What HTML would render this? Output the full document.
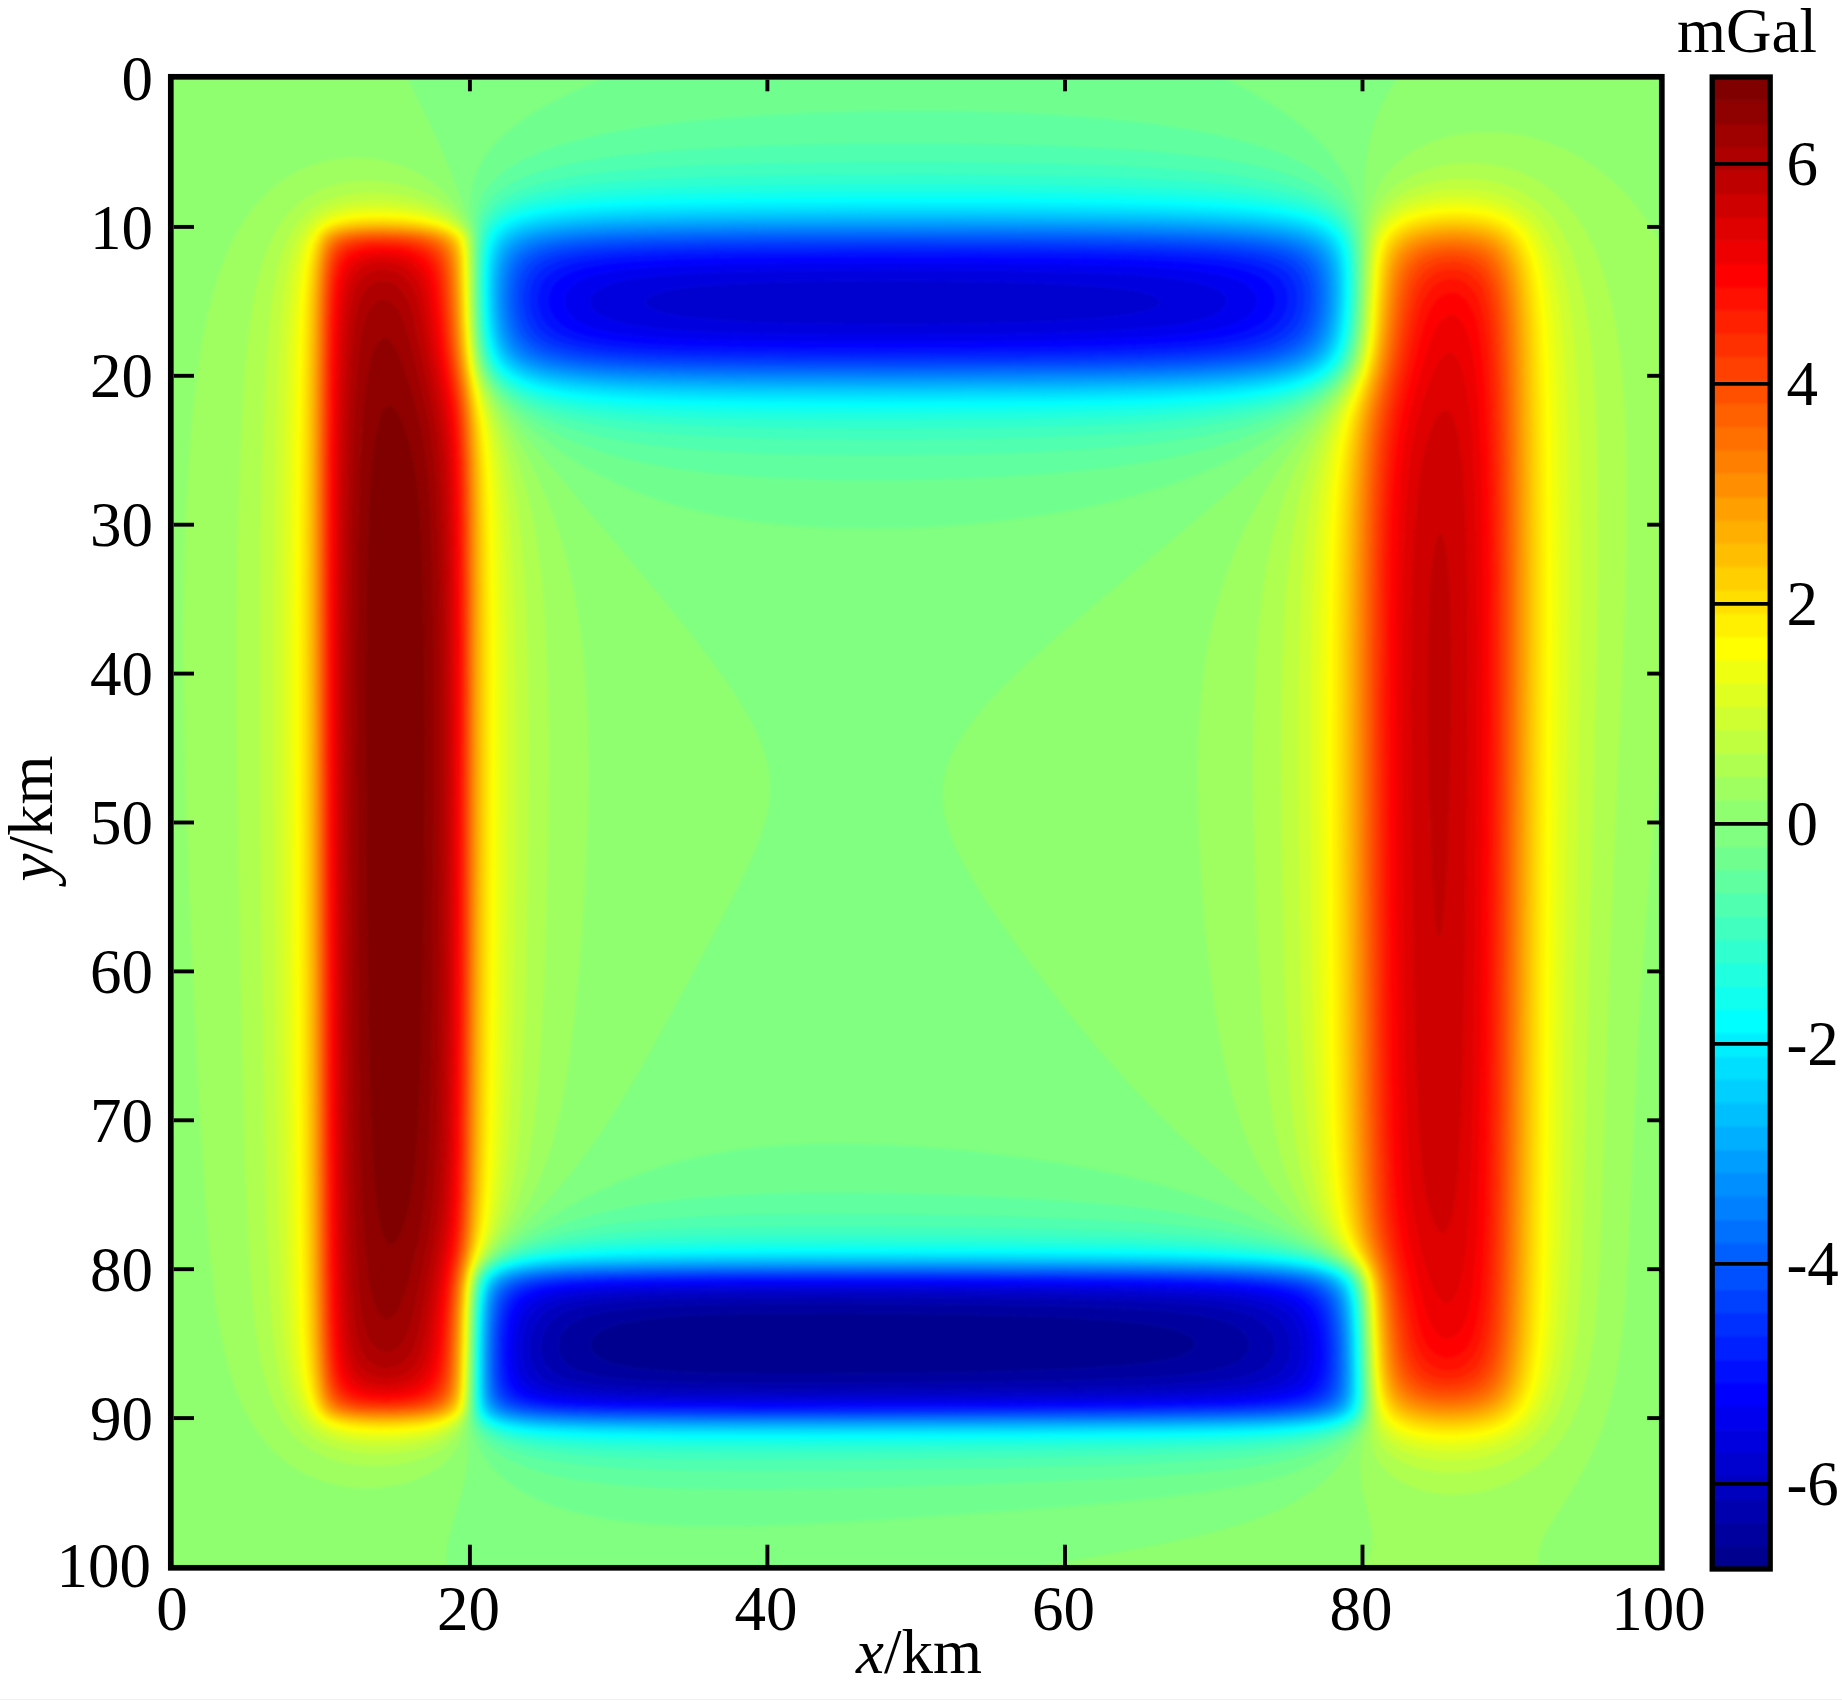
<!DOCTYPE html>
<html lang="en"><head><meta charset="utf-8"><title>Gravity anomaly map</title>
<style>
html,body{margin:0;padding:0;background:#fff}
body{width:1842px;height:1700px;overflow:hidden}
svg{display:block}
text{font-family:"Liberation Serif","Times New Roman",serif;font-size:63px;fill:#000}
.i{font-style:italic}
</style></head><body>
<svg width="1842" height="1700" viewBox="0 0 1842 1700">
<rect x="0" y="0" width="1842" height="1700" fill="#fff"/>

<defs><clipPath id="cp"><rect x="170.8" y="76.8" width="1491.0" height="1491.0"/></clipPath><filter id="bl" x="0" y="0" width="1842" height="1700" filterUnits="userSpaceOnUse" color-interpolation-filters="sRGB"><feGaussianBlur stdDeviation="1.6"/></filter></defs>
<g clip-path="url(#cp)"><g fill-rule="evenodd" stroke-linejoin="round" filter="url(#bl)">
<rect x="147.4" y="53.0" width="1537.6" height="1539.0" fill="#8fff70"/>
<path fill="#00008f" stroke="#00008f" stroke-width="0.7" d="M757.8 1313.3L849.8 1313L952 1314.2L1033.7 1316.3L1077.1 1318.1L1102.6 1319.7L1119 1320.9L1142.7 1323.5L1159 1326.1L1170.7 1328.6L1179.3 1331.2L1185.5 1333.7L1190 1336.3L1193.1 1338.8L1194.9 1341.4L1195.5 1343.9L1195 1346.5L1193.2 1349.1L1190.1 1351.6L1185.4 1354.2L1176.7 1357.3L1169.3 1359.3L1156 1361.8L1136.9 1364.4L1115.4 1366.4L1061.5 1369.5L995.4 1371.7L911.1 1373.3L824.3 1374.1L763 1374L711.9 1373.2L678.7 1371.9L645.5 1369.4L625.1 1366.4L616 1364.4L607.2 1361.6L599.5 1358L594.4 1354.2L591.9 1350.9L590.9 1349.1L590.3 1346.5L590.2 1343.9L590.8 1341.4L592 1338.8L593.9 1336.3L596.5 1333.7L600.1 1331.2L604.9 1328.6L611.2 1326.1L619.7 1323.5L630.2 1321.2L649.3 1318.4L679.2 1315.8L714.5 1314.3Z"/>
<path fill="#00009f" stroke="#00009f" stroke-width="0.7" d="M669.5 1305.6L714.5 1304.3L770.6 1303.6L842.1 1303.5L926.4 1304L1003 1304.9L1061.8 1306L1117.9 1307.9L1153.7 1309.9L1176.7 1311.9L1197.1 1314.6L1215 1318.2L1225.2 1321.3L1230.6 1323.5L1235.7 1326.1L1239.6 1328.6L1243.1 1331.5L1245.6 1334.3L1248.4 1338.8L1249.8 1343.9L1249.8 1346.5L1248.5 1351.6L1245 1356.7L1240.5 1360.5L1235.4 1363.5L1227.2 1367L1218.4 1369.5L1206.1 1372.1L1197.1 1373.4L1184.3 1375L1163.9 1376.8L1123.1 1379.1L1069.4 1380.8L992.5 1382.3L870.2 1383.5L768.1 1383.7L691.5 1382.8L643 1381L625.2 1379.7L607.2 1377.7L594.4 1375.6L584.2 1373L576.6 1370.3L570.2 1367L566.6 1364.4L563.9 1361.8L560.3 1356.7L558.4 1351.6L557.8 1346.5L558.7 1339.7L561.1 1333.7L563.8 1329.9L567.4 1326.1L574 1321.4L579.1 1318.8L586.8 1315.9L591.9 1314.4L609.8 1310.7L632.7 1308ZM757.9 1313.3L714.5 1314.3L679.2 1315.8L649.3 1318.4L630.2 1321.2L619.7 1323.5L611.2 1326.1L604.9 1328.6L600.1 1331.2L596.5 1333.7L593.9 1336.3L592 1338.8L590.8 1341.4L590.2 1343.9L590.3 1346.5L590.9 1349.1L591.9 1350.9L594.4 1354.2L599.5 1358L607.2 1361.6L616 1364.4L625.1 1366.4L645.5 1369.4L678.7 1371.9L711.9 1373.2L763 1374L824.3 1374.1L911.1 1373.3L995.4 1371.7L1061.5 1369.5L1115.4 1366.4L1136.9 1364.4L1156 1361.8L1169.3 1359.3L1176.7 1357.3L1185.4 1354.2L1190.1 1351.6L1193.2 1349.1L1195 1346.5L1195.5 1343.9L1194.9 1341.4L1193.1 1338.8L1190 1336.3L1185.5 1333.7L1179.3 1331.2L1170.7 1328.6L1159 1326.1L1142.7 1323.5L1119 1320.9L1102.6 1319.7L1077.1 1318.1L1036.2 1316.4L954.5 1314.3L852.4 1313Z"/>
<path fill="#0000af" stroke="#0000af" stroke-width="0.7" d="M699.7 1297.9L757.9 1297.3L831.9 1297.1L1013.2 1298.2L1077.1 1299.2L1128 1300.5L1166.5 1302.2L1192 1304L1215 1306.6L1232.9 1309.9L1245.2 1313.3L1251.8 1315.8L1256.9 1318.4L1264.3 1323.5L1268.6 1328L1270.9 1331.2L1273.5 1336.3L1274.3 1338.8L1275.3 1343.9L1275.3 1349.1L1274.3 1354.2L1272.1 1359.3L1268.3 1364.4L1263.5 1368.4L1257.1 1372.1L1250.7 1374.6L1242 1377.2L1232.9 1379.1L1210 1382.3L1176.3 1384.8L1130.7 1386.7L1074.5 1388L929 1389.6L783.4 1390.2L691.5 1389.5L655.7 1388.7L627.6 1387.6L609.8 1386.4L593.5 1384.8L577.4 1382.3L567.3 1379.7L558.7 1376.4L551.6 1372.1L546.5 1367L543.4 1361.6L541.1 1354.2L540.5 1346.5L541.4 1338.8L543.8 1331.2L545.9 1327.1L548.4 1323.5L553.4 1318.4L561.2 1313.3L566.9 1310.7L574.5 1308.2L585.2 1305.6L599.5 1303.3L612.3 1301.9L629.3 1300.5L648.1 1299.5ZM671 1305.5L632.7 1308L609.8 1310.7L591.9 1314.4L586.8 1315.9L579.1 1318.8L574 1321.4L567.4 1326.1L563.8 1329.9L561.1 1333.7L558.7 1339.7L557.8 1346.5L558.4 1351.6L560.3 1356.7L563.9 1361.8L566.6 1364.4L570.2 1367L576.6 1370.3L584.2 1373L594.4 1375.6L607.2 1377.7L625.2 1379.7L643 1381L691.5 1382.8L768.1 1383.7L870.2 1383.5L992.5 1382.3L1069.4 1380.8L1123.1 1379.1L1163.9 1376.8L1184.3 1375L1197.1 1373.4L1206.1 1372.1L1218.4 1369.5L1227.2 1367L1235.4 1363.5L1240.5 1360.5L1245 1356.7L1248.5 1351.6L1249.8 1346.5L1249.8 1343.9L1248.4 1338.8L1245.6 1334.3L1243.1 1331.5L1239.6 1328.6L1235.7 1326.1L1230.6 1323.5L1225.2 1321.3L1215 1318.2L1197.1 1314.6L1176.7 1311.9L1153.7 1309.9L1120.5 1308L1064.3 1306.1L1005.6 1304.9L929 1304L844.7 1303.5L773.2 1303.6L717 1304.2Z"/>
<path fill="#0000bf" stroke="#0000bf" stroke-width="0.7" d="M715.2 1292.8L788.5 1292.4L883 1292.5L1064.3 1293.8L1156.2 1295.8L1194.6 1297.7L1217.5 1299.6L1238 1302.4L1253 1305.6L1261.1 1308.2L1267.2 1310.7L1275.7 1315.8L1278.8 1318.4L1283.4 1323.5L1287.8 1331.2L1289.5 1336.3L1290.6 1341.4L1291.1 1346.5L1290.9 1351.6L1290.1 1356.7L1288.5 1361.8L1285.8 1367L1281.4 1372L1276.3 1375.7L1271.2 1378.4L1266.1 1380.5L1258.4 1382.8L1248.8 1384.8L1238 1386.5L1209.9 1389.2L1174.1 1391L1121.9 1392.5L982.6 1394.2L801.3 1395L691.5 1394.5L650.6 1393.8L620 1392.7L599.5 1391.5L581.9 1390L566.3 1387.6L556.1 1385.1L548.5 1382.2L543.9 1379.7L540.8 1377.5L535.7 1372.2L532.7 1367L530.3 1359.3L529.3 1349.1L530 1338.8L531 1333.7L532.6 1328.6L536.3 1320.9L540.8 1315.3L546.2 1310.7L550.4 1308.2L555.9 1305.6L563.4 1303L574.1 1300.5L590.8 1297.9L607.2 1296.4L625.1 1295.2L650.6 1294.1ZM701.7 1297.9L648.1 1299.5L629.3 1300.5L612.3 1301.9L599.5 1303.3L585.2 1305.6L574.5 1308.2L566.9 1310.7L561.2 1313.3L553.4 1318.4L548.4 1323.5L545.9 1327.1L543.8 1331.2L541.4 1338.8L540.5 1346.5L541.1 1354.2L543.4 1361.6L546.5 1367L551.6 1372.1L558.7 1376.4L567.3 1379.7L577.4 1382.3L593.5 1384.8L609.8 1386.4L627.6 1387.6L655.7 1388.7L691.5 1389.5L783.4 1390.2L929 1389.6L1074.5 1388L1130.7 1386.7L1176.3 1384.8L1210 1382.3L1232.9 1379.1L1242 1377.2L1250.7 1374.6L1257.1 1372.1L1263.5 1368.4L1268.3 1364.4L1272.1 1359.3L1274.3 1354.2L1275.3 1349.1L1275.3 1343.9L1274.3 1338.8L1273.5 1336.3L1270.9 1331.2L1268.6 1328L1264.3 1323.5L1256.9 1318.4L1251.8 1315.8L1245.2 1313.3L1232.9 1309.9L1215 1306.6L1192 1304L1166.5 1302.2L1128 1300.5L1077.1 1299.2L1015.8 1298.3L837 1297.1L760.4 1297.3Z"/>
<path fill="#0000cf" stroke="#0000cf" stroke-width="0.7" d="M875.2 280.6L941.7 280.9L1003 281.9L1046.4 283.2L1092.3 285.7L1118.7 288.3L1135.6 290.8L1140.9 292L1146.7 293.4L1154 295.9L1158.3 298.5L1160.2 301.1L1159.8 303.6L1157.3 306.2L1152.3 308.7L1144.4 311.3L1132.7 313.8L1125.6 314.9L1100.1 318L1066.9 320.4L1028.6 322.1L972.4 323.5L913.6 324.2L849.8 324.1L796.2 323.4L745.1 321.8L711.9 319.7L683.8 316.8L666.9 313.8L657.4 311.3L651.1 308.7L647.2 306.2L645.2 303.6L645.1 301.1L646.7 298.5L650.4 295.9L656.6 293.4L666 290.8L678.7 288.5L701.7 285.8L737.4 283.4L770.6 282.1L819.2 281.1ZM641.5 1290.3L701.7 1289.2L788.5 1288.7L913.6 1288.8L1041.3 1289.5L1105.6 1290.3L1161.4 1291.5L1197.1 1293L1229.6 1295.4L1248.9 1297.9L1263.5 1301.1L1270 1303L1276.4 1305.6L1281.4 1308.2L1286.5 1311.7L1290.9 1315.8L1292.9 1318.4L1296.2 1323.5L1298.5 1328.6L1300.1 1333.7L1301.5 1341.4L1302 1346.5L1301.8 1354.2L1301.1 1359.3L1299.3 1366L1296.7 1371.2L1294.2 1374.6L1291.7 1377.2L1288.4 1379.7L1284.1 1382.3L1278.2 1384.8L1269.9 1387.4L1263.5 1388.8L1243.1 1391.8L1215 1394L1179.2 1395.5L1130.7 1396.6L1066.9 1397.5L893.2 1398.5L729.8 1398.6L673.6 1398.2L632.7 1397.4L607.2 1396.5L584.2 1395.1L568.9 1393.5L558.7 1392L549.6 1390L540.8 1386.9L536.8 1384.8L533.1 1382.4L528.1 1377.2L525.5 1372.8L524.1 1369.5L522.2 1361.8L521.2 1351.6L521.9 1338.8L523.8 1328.6L526.5 1320.9L530.6 1313.9L536 1308.2L543.4 1303.4L550 1300.5L558.7 1297.9L571.3 1295.4L597 1292.5ZM717 1292.8L650.6 1294.1L625.1 1295.2L607.2 1296.4L590.8 1297.9L574.1 1300.5L563.4 1303L555.9 1305.6L550.4 1308.2L546.2 1310.7L540.8 1315.3L536.3 1320.9L532.6 1328.6L531 1333.7L530 1338.8L529.3 1349.1L530.3 1359.3L532.7 1367L535.7 1372.2L540.8 1377.5L543.9 1379.7L548.5 1382.2L556.1 1385.1L566.3 1387.6L581.9 1390L599.5 1391.5L620 1392.7L650.6 1393.8L691.5 1394.5L801.3 1395L982.6 1394.2L1121.9 1392.5L1174.1 1391L1209.9 1389.2L1238 1386.5L1248.8 1384.8L1258.4 1382.8L1266.1 1380.5L1271.2 1378.4L1276.3 1375.7L1281.4 1372L1285.8 1367L1288.5 1361.8L1290.1 1356.7L1290.9 1351.6L1291.1 1346.5L1290.6 1341.4L1289.5 1336.3L1287.8 1331.2L1283.4 1323.5L1278.8 1318.4L1275.7 1315.8L1267.2 1310.7L1261.1 1308.2L1253 1305.6L1238 1302.4L1217.5 1299.6L1194.6 1297.7L1156.2 1295.8L1064.3 1293.8L883 1292.5Z"/>
<path fill="#0000df" stroke="#0000df" stroke-width="0.7" d="M790.9 270.4L895.8 269.8L1003 270.5L1087.3 272.4L1115.4 273.6L1143.5 275.3L1166.5 277.4L1181.8 279.4L1197.1 282.3L1207.3 285.1L1215.4 288.3L1219.9 290.8L1222.6 293L1225.4 295.9L1226.6 298.5L1227.1 301.1L1226.8 303.6L1225.7 306.2L1223.7 308.7L1220.9 311.3L1217.5 313.5L1211.7 316.4L1204.8 319L1192 322.3L1179.2 324.7L1161.4 327.2L1125.6 330.2L1074.5 332.6L1003 334.3L921.3 335L834.5 334.9L760.4 334L699.1 332L659.5 329.2L640.4 326.9L627.6 324.6L614.9 321.6L607.3 318.9L599.5 315.1L594.3 311.3L591.9 308.5L590.5 306.2L589.7 303.6L589.5 301.1L589.9 298.5L591.1 295.9L594.4 292L599.7 288.3L604.9 285.7L612.1 283.2L622 280.6L632.7 278.6L657.9 275.5L694 273L737.4 271.4ZM875.3 280.6L819.2 281.1L770.6 282.1L737.4 283.4L701.7 285.8L678.7 288.5L666 290.8L656.6 293.4L650.4 295.9L646.7 298.5L645.1 301.1L645.2 303.6L647.2 306.2L651.1 308.7L657.4 311.3L666.9 313.8L683.8 316.8L711.9 319.7L745.1 321.8L796.2 323.4L849.8 324.1L913.6 324.2L972.4 323.5L1028.6 322.1L1066.9 320.4L1100.1 318L1125.6 314.9L1132.7 313.8L1144.4 311.3L1152.3 308.7L1157.3 306.2L1159.8 303.6L1160.2 301.1L1158.3 298.5L1154 295.9L1146.7 293.4L1140.9 292L1135.6 290.8L1118.7 288.3L1092.3 285.7L1046.4 283.2L1003 281.9L941.7 280.9ZM616.1 1287.7L673.6 1286.3L755.3 1285.6L883 1285.5L1028.6 1286.2L1107.7 1286.9L1163.9 1288L1209.9 1289.7L1240.5 1292.1L1261 1294.9L1274.1 1297.9L1281.5 1300.5L1287.1 1303L1291.6 1305.8L1296.7 1310L1299.7 1313.3L1303.1 1318.4L1305.5 1323.5L1307.3 1328.6L1309 1336.3L1310 1343.9L1310.2 1351.6L1309.8 1359.3L1308.9 1364.4L1306.9 1371L1304.4 1376L1301.8 1379.4L1298.8 1382.3L1295.2 1384.8L1290.3 1387.4L1283.9 1389.8L1273.1 1392.5L1253.3 1395.4L1225.2 1397.5L1197.1 1398.7L1107.7 1400.4L926.4 1401.6L742.5 1401.8L635.3 1400.9L609.3 1400.2L586.8 1399.1L567.4 1397.6L556.1 1396.2L548.5 1394.9L538.3 1392.1L530.6 1388.7L525.2 1384.8L522.8 1382.3L520.4 1378.7L518.5 1374.6L516.9 1369.5L515.3 1359.3L515.1 1346.5L516.2 1333.7L517.7 1326.1L519.2 1320.9L522.9 1312.6L525.5 1309L528 1306.1L533.1 1302L540.8 1298L548.3 1295.4L556.1 1293.5L566.3 1291.7L579.1 1290.1ZM643 1290.2L599.5 1292.3L586.8 1293.4L571.3 1295.4L558.7 1297.9L550 1300.5L543.4 1303.4L536 1308.2L530.6 1313.9L526.5 1320.9L523.8 1328.6L521.9 1338.8L521.2 1351.6L522.2 1361.8L524.1 1369.5L525.5 1372.8L528.1 1377.2L533.1 1382.4L536.8 1384.8L540.8 1386.9L549.6 1390L558.7 1392L568.9 1393.5L584.2 1395.1L607.2 1396.5L632.7 1397.4L673.6 1398.2L729.8 1398.6L893.2 1398.5L1066.9 1397.5L1130.7 1396.6L1179.2 1395.5L1215 1394L1243.1 1391.8L1263.5 1388.8L1269.9 1387.4L1278.2 1384.8L1284.1 1382.3L1288.4 1379.7L1291.7 1377.2L1294.2 1374.6L1296.7 1371.2L1299.3 1366L1301.1 1359.3L1301.8 1354.2L1302 1346.5L1301.5 1341.4L1300.1 1333.7L1298.5 1328.6L1296.2 1323.5L1292.9 1318.4L1290.9 1315.8L1286.5 1311.7L1281.4 1308.2L1276.4 1305.6L1270 1303L1263.5 1301.1L1248.9 1297.9L1229.6 1295.4L1197.1 1293L1163.9 1291.6L1107.7 1290.3L1043.9 1289.6L916.2 1288.8L791.1 1288.7L704.2 1289.1Z"/>
<path fill="#0000ef" stroke="#0000ef" stroke-width="0.7" d="M806.1 262.7L931.5 262.5L1043.9 263.5L1120.2 265.3L1151.1 266.7L1176.7 268.4L1196.2 270.4L1213.4 272.9L1225.3 275.5L1238 279.6L1245.3 283.2L1249 285.7L1251.9 288.3L1255.6 293.4L1256.7 295.9L1257.4 301.1L1256.4 306.2L1253.3 311.6L1248.6 316.4L1245.1 318.9L1240.5 321.6L1230.3 325.8L1218.6 329.2L1206.1 331.7L1188.5 334.3L1151.1 337.6L1097.5 340L1020.9 341.7L929 342.4L824.3 342.4L742.5 341.4L679.1 339.4L637.8 336.5L619.8 334.3L605.5 331.7L594.4 328.9L584.2 325.1L577.3 321.5L570.8 316.4L566.8 311.3L565.5 308.7L564.1 303.6L564.1 298.5L565.6 293.4L568.8 288.3L571.3 285.7L574.5 283.2L581.7 279.2L589.3 276.2L599.5 273.4L609.8 271.4L622.5 269.6L638.9 267.8L680.3 265.3L734.9 263.7ZM791.1 270.4L737.4 271.4L694 273L657.9 275.5L632.7 278.6L622 280.6L612.1 283.2L604.9 285.7L599.7 288.3L594.4 292L591.1 295.9L589.9 298.5L589.5 301.1L589.7 303.6L590.5 306.2L591.9 308.5L594.3 311.3L599.5 315.1L607.3 318.9L614.9 321.6L627.6 324.6L640.4 326.9L659.5 329.2L699.1 332L760.4 334L834.5 334.9L921.3 335L1003 334.3L1074.5 332.6L1125.6 330.2L1161.4 327.2L1179.2 324.7L1192 322.3L1204.8 319L1211.7 316.4L1217.5 313.5L1220.9 311.3L1223.7 308.7L1225.7 306.2L1226.8 303.6L1227.1 301.1L1226.6 298.5L1225.4 295.9L1222.6 293L1219.9 290.8L1215.4 288.3L1207.3 285.1L1197.1 282.3L1181.8 279.4L1166.5 277.4L1143.5 275.3L1115.4 273.6L1087.3 272.4L1003 270.5L895.8 269.8ZM605.1 1285.2L663.4 1283.6L747.7 1282.9L883 1282.8L1038.8 1283.4L1117.9 1284.2L1174.1 1285.2L1220.1 1286.9L1250.7 1289.4L1271.2 1292.4L1283.9 1295.7L1289.9 1297.9L1295 1300.5L1299.3 1303.3L1304.5 1308.2L1308.2 1313.3L1310.9 1318.4L1312.8 1323.5L1314.6 1330.3L1316 1338.8L1316.6 1346.5L1316.7 1354.2L1316.2 1361.8L1314.3 1372.1L1312.2 1377.2L1309.5 1381.6L1306.5 1384.8L1303.3 1387.4L1299 1390L1294.1 1392L1283.7 1395.1L1266.1 1397.9L1240.5 1400.1L1212.4 1401.4L1130.7 1403.1L964.7 1404.2L757.9 1404.6L637.8 1403.8L591.9 1402.5L558.1 1400.2L543.4 1398L535.7 1396.1L528 1393.4L522.2 1390L519.3 1387.4L517.1 1384.8L515.3 1381.9L513.2 1377.2L510.9 1367L510 1354.2L510.6 1338.8L512.7 1323.9L514.2 1318.4L516.1 1313.3L517.8 1309.8L520.6 1305.6L525.5 1300.7L530.6 1297.3L538.3 1293.9L545.9 1291.6L556.1 1289.5L569.1 1287.7ZM617.4 1287.7L581.7 1289.9L558.7 1293L548.3 1295.4L540.8 1298L533.1 1302L528 1306.1L525.5 1309L522.9 1312.6L519.2 1320.9L517.7 1326.1L516.2 1333.7L515.1 1346.5L515.3 1359.3L516.9 1369.5L518.5 1374.6L520.4 1378.7L522.8 1382.3L525.2 1384.8L530.6 1388.7L538.3 1392.1L548.5 1394.9L556.1 1396.2L567.4 1397.6L586.8 1399.1L609.3 1400.2L635.3 1400.9L742.5 1401.8L926.4 1401.6L1107.7 1400.4L1197.1 1398.7L1225.2 1397.5L1253.3 1395.4L1273.1 1392.5L1283.9 1389.8L1290.3 1387.4L1295.2 1384.8L1298.8 1382.3L1301.8 1379.4L1304.4 1376L1306.9 1371L1308.9 1364.4L1309.8 1359.3L1310.2 1351.6L1310 1343.9L1309 1336.3L1307.3 1328.6L1305.5 1323.5L1303.1 1318.4L1299.7 1313.3L1296.7 1310L1291.6 1305.8L1287.1 1303L1281.5 1300.5L1274.1 1297.9L1261 1294.9L1240.5 1292.1L1209.9 1289.7L1163.9 1288L1110.3 1287L1031.1 1286.2L885.6 1285.6L757.9 1285.6L673.6 1286.3Z"/>
<path fill="#0000ff" stroke="#0000ff" stroke-width="0.7" d="M734.5 257.6L798.7 256.9L877.9 256.6L1036.2 257.3L1087.3 258.1L1133.3 259.3L1163.9 260.5L1194.6 262.5L1217.5 265L1234.3 267.8L1248.2 271.5L1258.2 275.5L1262.6 278L1266.1 280.6L1271 285.7L1273.7 290.4L1274.8 293.4L1275.4 295.9L1275.7 301.1L1275.4 303.6L1274.1 308.7L1271.5 313.8L1267.5 318.9L1261.4 324.1L1253.3 328.6L1245.6 331.7L1235.4 334.7L1222.6 337.5L1209.9 339.5L1189.4 341.8L1149.1 344.5L1089.9 346.5L1015.8 347.7L885.6 348.4L763 347.7L686.4 346.1L655.7 344.8L632.7 343.2L614.9 341.3L597 338.6L584.2 335.7L572.7 331.7L567.4 329.2L563.1 326.6L557 321.5L552.9 316.4L551 312.9L549.4 308.7L548.4 303.6L548.6 295.9L550 290.8L551 288.3L554.4 283.2L558.7 278.9L563.8 275.4L571.4 271.7L581.7 268.4L594.4 265.7L604.6 264.1L617.4 262.6L635.3 261.1L676.2 259ZM806.4 262.7L734.9 263.7L680.3 265.3L638.9 267.8L622.5 269.6L609.8 271.4L599.5 273.4L589.3 276.2L581.7 279.2L574.5 283.2L571.3 285.7L568.8 288.3L565.6 293.4L564.1 298.5L564.1 303.6L565.5 308.7L566.8 311.3L570.8 316.4L577.3 321.5L584.2 325.1L594.4 328.9L605.5 331.7L619.8 334.3L637.8 336.5L679.1 339.4L742.5 341.4L824.3 342.4L929 342.4L1020.9 341.7L1097.5 340L1151.1 337.6L1188.5 334.3L1206.1 331.7L1218.6 329.2L1230.3 325.8L1240.5 321.6L1245.1 318.9L1248.6 316.4L1253.3 311.6L1256.4 306.2L1257.4 301.1L1256.7 295.9L1255.6 293.4L1251.9 288.3L1249 285.7L1245.3 283.2L1238 279.6L1225.3 275.5L1213.4 272.9L1196.2 270.4L1176.7 268.4L1151.1 266.7L1120.2 265.3L1043.9 263.5L931.5 262.5ZM602.8 1282.6L663.4 1281.2L752.8 1280.5L903.4 1280.5L1064.3 1281.2L1140.9 1281.9L1192 1283L1235.4 1284.9L1261 1287.2L1279.9 1290.3L1291.6 1293.6L1296.7 1295.7L1301.8 1298.5L1306.9 1302.3L1310.1 1305.6L1313.6 1310.7L1316.1 1315.8L1317.9 1320.9L1319.8 1328.6L1321 1336.3L1321.9 1346.5L1322 1356.7L1321.6 1364.4L1319.7 1374.8L1317.9 1379.7L1314.9 1384.8L1312.6 1387.4L1309.5 1390.1L1305.6 1392.5L1299.7 1395.1L1289 1398L1273.7 1400.5L1248.2 1402.7L1222.6 1403.9L1143.5 1405.5L982.6 1406.6L760.4 1407L632.7 1406.2L584.2 1404.9L566.3 1403.9L551 1402.5L538.3 1400.6L530.6 1398.7L522.9 1395.9L517.4 1392.5L514.6 1390L512.6 1387.4L510.2 1383L509 1379.7L507.6 1374.6L506.8 1369.5L506 1354.2L506.5 1338.8L508.3 1323.5L510.1 1315.8L511.9 1310.7L514.5 1305.6L516.2 1303L520.4 1298.6L525.5 1294.9L533.1 1291.4L543.4 1288.5L551 1287L564.5 1285.2L581.7 1283.8ZM607.2 1285.1L586.8 1286.2L569.1 1287.7L556.1 1289.5L548.5 1291L538.3 1293.9L530.6 1297.3L525.5 1300.7L520.6 1305.6L517.8 1309.8L516.1 1313.3L514.2 1318.4L512.7 1323.9L510.6 1338.8L510 1354.2L510.9 1367L513.2 1377.2L515.3 1381.9L517.1 1384.8L519.3 1387.4L522.2 1390L528 1393.4L535.7 1396.1L543.4 1398L558.1 1400.2L591.9 1402.5L637.8 1403.8L757.9 1404.6L964.7 1404.2L1130.7 1403.1L1212.4 1401.4L1240.5 1400.1L1266.1 1397.9L1283.7 1395.1L1294.1 1392L1299 1390L1303.3 1387.4L1306.5 1384.8L1309.5 1381.6L1312.2 1377.2L1314.3 1372.1L1316.2 1361.8L1316.7 1354.2L1316.6 1346.5L1316 1338.8L1314.6 1330.3L1312.8 1323.5L1310.9 1318.4L1308.2 1313.3L1304.5 1308.2L1299.3 1303.3L1295 1300.5L1289.9 1297.9L1283.9 1295.7L1271.2 1292.4L1250.7 1289.4L1222.6 1287.1L1176.7 1285.2L1120.5 1284.2L1041.3 1283.5L888.1 1282.8L750.2 1282.9L665.9 1283.6Z"/>
<path fill="#0010ff" stroke="#0010ff" stroke-width="0.7" d="M741 252.5L890.7 251.7L1051.2 252.5L1105.2 253.3L1148.6 254.4L1179.2 255.7L1207.8 257.6L1230.3 260L1246 262.7L1258.4 265.9L1263.9 267.8L1269.5 270.4L1274 272.9L1277.4 275.5L1281.4 279.4L1284.1 283.2L1286.5 288.1L1287.3 290.8L1288.2 295.9L1288.3 301.1L1287.1 308.7L1283.9 316.3L1280.3 321.5L1275.2 326.6L1268.6 331.2L1261 335L1250.7 338.6L1240.5 341.1L1227.8 343.5L1215 345.3L1198 347.1L1176.7 348.6L1125.6 350.8L1056.7 352.3L916.2 353.2L770.6 352.8L683.8 351.3L650.6 350L625.1 348.3L607.2 346.6L589.3 344L576.6 341.2L570.3 339.4L563.5 336.8L558.2 334.3L554 331.7L547.8 326.6L545.5 324.1L542.1 318.9L538.9 311.3L537.5 303.6L537.5 295.9L539.1 288.3L540.8 284L542.7 280.6L547 275.5L553.6 270.5L558.7 267.8L568.9 264.1L579.1 261.6L591.9 259.4L606.5 257.6L625.1 256.1L671 253.9ZM734.9 257.6L676.2 259L635.3 261.1L617.4 262.6L604.6 264.1L594.4 265.7L581.7 268.4L571.4 271.7L563.8 275.4L558.7 278.9L554.4 283.2L551 288.3L550 290.8L548.6 295.9L548.4 303.6L549.4 308.7L551 312.9L552.9 316.4L557 321.5L563.1 326.6L567.4 329.2L572.7 331.7L584.2 335.7L597 338.6L614.9 341.3L632.7 343.2L655.7 344.8L686.4 346.1L763 347.7L885.6 348.4L1015.8 347.7L1089.9 346.5L1149.1 344.5L1189.4 341.8L1209.9 339.5L1222.6 337.5L1235.4 334.7L1245.6 331.7L1253.3 328.6L1261.4 324.1L1267.5 318.9L1271.5 313.8L1274.1 308.7L1275.4 303.6L1275.7 301.1L1275.4 295.9L1274.8 293.4L1273.7 290.4L1271 285.7L1266.1 280.6L1262.6 278L1258.2 275.5L1248.2 271.5L1234.3 267.8L1217.5 265L1194.6 262.5L1163.9 260.5L1133.3 259.3L1087.3 258.1L1036.2 257.3L877.9 256.6ZM608.7 1280L673.6 1278.8L770.6 1278.3L936.6 1278.4L1089.9 1279.1L1163.9 1280L1207.3 1281.1L1240.9 1282.6L1268.9 1285.2L1286.5 1288.3L1294 1290.3L1300.7 1292.8L1305.7 1295.4L1309.5 1298L1312.3 1300.5L1316.5 1305.6L1319.4 1310.7L1321.4 1315.8L1323.5 1323.5L1324.9 1331.2L1326 1341.4L1326.5 1351.6L1326.4 1361.8L1325.7 1369.5L1324.9 1374.6L1323.5 1379.7L1322.2 1383L1319.7 1387.4L1317.5 1390L1314.6 1392.6L1310.6 1395.1L1304.8 1397.6L1294.1 1400.5L1276.3 1403.2L1250.7 1405.2L1222.6 1406.4L1138.4 1407.9L967.3 1408.8L747.7 1409.1L625.1 1408.3L576.6 1406.9L558.7 1405.9L545.9 1404.7L533.1 1402.7L525.5 1400.8L517.8 1397.8L513.6 1395.1L510.9 1392.5L508.9 1390L507.4 1387.4L505.4 1382.3L503.4 1372.1L502.5 1356.7L503.1 1336.3L505.1 1320.4L507.6 1310.4L510.2 1304.4L512.7 1300.3L517.4 1295.4L522.9 1291.8L530.6 1288.5L540.8 1285.8L551 1284.1L566.3 1282.3L586.8 1281ZM604.6 1282.5L584.2 1283.6L566.3 1285L553.6 1286.6L543.4 1288.5L533.1 1291.4L525.5 1294.9L520.4 1298.6L516.2 1303L514.5 1305.6L511.9 1310.7L510.1 1315.8L508.3 1323.5L506.5 1338.8L506 1354.2L506.8 1369.5L507.6 1374.6L509 1379.7L510.2 1383L512.6 1387.4L514.6 1390L517.4 1392.5L522.9 1395.9L530.6 1398.7L538.3 1400.6L551 1402.5L566.3 1403.9L584.2 1404.9L632.7 1406.2L760.4 1407L982.6 1406.6L1143.5 1405.5L1222.6 1403.9L1248.2 1402.7L1273.7 1400.5L1289 1398L1299.7 1395.1L1305.6 1392.5L1309.5 1390.1L1312.6 1387.4L1314.9 1384.8L1317.9 1379.7L1319.7 1374.8L1321.6 1364.4L1322 1356.7L1321.9 1346.5L1321 1336.3L1319.8 1328.6L1317.9 1320.9L1316.1 1315.8L1313.6 1310.7L1310.1 1305.6L1306.9 1302.3L1301.8 1298.5L1296.7 1295.7L1291.6 1293.6L1279.9 1290.3L1261 1287.2L1235.4 1284.9L1192 1283L1140.9 1281.9L1066.9 1281.2L908.5 1280.5L755.3 1280.5L665.9 1281.1Z"/>
<path fill="#0020ff" stroke="#0020ff" stroke-width="0.7" d="M653.1 249.9L709.3 248.6L783.4 247.8L885.6 247.5L992.8 247.7L1072 248.4L1133.3 249.4L1176.7 250.8L1212.4 252.8L1235.2 255L1253.3 257.9L1263 260.2L1268.6 261.9L1278.8 266.2L1283.9 269.4L1288.2 272.9L1291.6 277L1293.9 280.6L1296 285.7L1297.3 290.8L1297.8 295.9L1297.8 301.1L1296.8 308.7L1294.3 316.4L1291.6 321.5L1287.8 326.6L1283.9 330.5L1278.8 334.4L1271.2 338.5L1262.4 342L1253.6 344.5L1243.1 346.8L1220.1 350.1L1186.9 352.9L1140.9 354.9L1089.9 356.1L1026 357L862.6 357.5L729.8 356.7L681.3 355.7L645.5 354.4L620 352.9L599.5 351L584.2 348.8L568.9 345.5L557.9 342L552.3 339.4L547.9 336.8L541.4 331.7L538.3 328.3L535.7 324.7L531.8 316.4L529.8 308.7L529 298.5L529.7 290.8L531.7 283.2L533.1 279.8L535.7 275.5L540.2 270.4L545.9 266.1L552.5 262.7L561.2 259.6L569 257.6L583.2 255L612.3 252ZM742.5 252.5L673.6 253.9L627.6 255.9L607.2 257.5L591.9 259.4L579.1 261.6L568.9 264.1L558.7 267.8L553.6 270.5L547 275.5L542.7 280.6L540.8 284L539.1 288.3L537.5 295.9L537.5 303.6L538.9 311.3L542.1 318.9L545.5 324.1L547.8 326.6L554 331.7L558.2 334.3L563.5 336.8L570.3 339.4L576.6 341.2L589.3 344L607.2 346.6L625.1 348.3L650.6 350L683.8 351.3L770.6 352.8L916.2 353.2L1056.7 352.3L1125.6 350.8L1176.7 348.6L1198 347.1L1215 345.3L1227.8 343.5L1240.5 341.1L1250.7 338.6L1261 335L1268.6 331.2L1275.2 326.6L1280.3 321.5L1283.9 316.3L1287.1 308.7L1288.3 301.1L1288.2 295.9L1287.3 290.8L1286.5 288.1L1284.1 283.2L1281.4 279.4L1277.4 275.5L1274 272.9L1269.5 270.4L1263.9 267.8L1258.4 265.9L1246 262.7L1230.3 260L1207.8 257.6L1179.2 255.7L1148.6 254.4L1105.2 253.3L1051.2 252.5L893.2 251.7ZM626.6 1277.5L699.1 1276.6L806.4 1276.3L980 1276.6L1112.8 1277.3L1171.6 1278L1217.5 1279.2L1248.2 1280.7L1273.7 1283.1L1291.6 1286.3L1297.1 1287.7L1304.2 1290.3L1309.3 1292.8L1313.1 1295.4L1317.1 1299L1320.3 1303L1323.1 1308.2L1325.1 1313.3L1327.2 1320.9L1328.5 1328.6L1329.9 1341.4L1330.3 1351.6L1330.3 1361.8L1329.6 1372.1L1327.5 1382.3L1325.3 1387.4L1323.7 1390L1321.5 1392.5L1317.1 1396L1314.5 1397.6L1308.4 1400.2L1298.9 1402.7L1281.4 1405.4L1255.8 1407.3L1225.2 1408.5L1128.2 1410L952 1410.9L732.3 1411.1L614.9 1410.2L563.8 1408.5L548.5 1407.4L535.7 1405.9L525.5 1403.9L517.8 1401.5L512.7 1399L507.8 1395.1L505.1 1391.3L503.2 1387.4L501.7 1382.3L500.7 1377.2L499.6 1361.8L499.9 1338.8L501.3 1323.5L502.5 1316.2L503.8 1310.7L505.5 1305.6L507.6 1301.1L509.7 1297.9L512.7 1294.5L517.8 1290.6L523.5 1287.7L531.1 1285.2L543.4 1282.6L558.7 1280.7L574 1279.5L597 1278.4ZM609.8 1280L586.8 1281L566.3 1282.3L551 1284.1L540.8 1285.8L530.6 1288.5L522.9 1291.8L517.4 1295.4L512.7 1300.3L510.2 1304.4L507.6 1310.4L505.1 1320.4L503.1 1336.3L502.5 1356.7L503.4 1372.1L505.4 1382.3L507.4 1387.4L508.9 1390L510.9 1392.5L513.6 1395.1L517.8 1397.8L525.5 1400.8L533.1 1402.7L545.9 1404.7L558.7 1405.9L576.6 1406.9L625.1 1408.3L747.7 1409.1L967.3 1408.8L1138.4 1407.9L1222.6 1406.4L1250.7 1405.2L1276.3 1403.2L1294.1 1400.5L1304.8 1397.6L1310.6 1395.1L1314.6 1392.6L1317.5 1390L1319.7 1387.4L1322.2 1383L1323.5 1379.7L1324.9 1374.6L1325.7 1369.5L1326.4 1361.8L1326.5 1351.6L1326 1341.4L1324.9 1331.2L1323.5 1323.5L1321.4 1315.8L1319.4 1310.7L1316.5 1305.6L1312.3 1300.5L1309.5 1298L1305.7 1295.4L1300.7 1292.8L1294 1290.3L1286.5 1288.3L1268.9 1285.2L1240.9 1282.6L1207.3 1281.1L1163.9 1280L1092.4 1279.2L941.7 1278.5L773.2 1278.3L673.6 1278.8Z"/>
<path fill="#0030ff" stroke="#0030ff" stroke-width="0.7" d="M696.3 244.8L768.1 244L862.6 243.7L969.8 243.8L1061.8 244.3L1120.5 245.1L1169 246.3L1202.2 247.7L1232.2 249.9L1252.7 252.5L1268.6 255.7L1275.1 257.6L1281.8 260.2L1286.9 262.7L1290.9 265.3L1294.1 268L1298.5 272.9L1300.2 275.5L1302.6 280.6L1304.1 285.7L1305 290.8L1305.4 295.9L1305.1 303.6L1303.9 311.3L1301.4 318.9L1298.9 324.1L1294.1 330.7L1289 335.6L1283.7 339.4L1276.3 343.2L1268.6 346.1L1258.4 348.9L1248.2 351L1235.4 353L1220.6 354.7L1184.3 357.3L1133.3 359.2L1079.6 360.3L1005.6 361L821.7 361.3L699.1 360.1L658.3 359.1L625.1 357.6L602.1 355.8L584.2 353.7L568.9 350.9L556.1 347.4L545.9 343.1L538.3 338L532.1 331.7L527.5 324.1L525.5 318.9L524.1 313.8L522.6 303.6L522.6 293.4L524.3 283.2L527.3 275.5L530.6 270.2L535.7 265L543.4 260L551 256.9L561.2 253.9L574 251.5L589.3 249.5L609.8 247.8L630.2 246.7ZM653.2 249.9L612.3 252L583.2 255L569 257.6L561.2 259.6L552.5 262.7L545.9 266.1L540.2 270.4L535.7 275.5L533.1 279.8L531.7 283.2L529.7 290.8L529 298.5L529.8 308.7L531.8 316.4L535.7 324.7L538.3 328.3L541.4 331.7L547.9 336.8L552.3 339.4L557.9 342L568.9 345.5L584.2 348.8L599.5 351L620 352.9L645.5 354.4L681.3 355.7L729.8 356.7L862.6 357.5L1026 357L1089.9 356.1L1140.9 354.9L1186.9 352.9L1220.1 350.1L1243.1 346.8L1253.6 344.5L1262.4 342L1271.2 338.5L1278.8 334.4L1283.9 330.5L1287.8 326.6L1291.6 321.5L1294.3 316.4L1296.8 308.7L1297.8 301.1L1297.8 295.9L1297.3 290.8L1296 285.7L1293.9 280.6L1291.6 277L1288.2 272.9L1283.9 269.4L1278.8 266.2L1268.6 261.9L1263 260.2L1253.3 257.9L1235.2 255L1212.4 252.8L1176.7 250.8L1133.3 249.4L1072 248.4L992.8 247.7L885.6 247.5L783.4 247.8L709.3 248.6ZM674.1 1274.9L768.1 1274.5L903.4 1274.5L1044.6 1274.9L1140.9 1275.7L1192 1276.5L1230.3 1277.6L1263.5 1279.7L1283.9 1282.1L1299.3 1285.3L1306.6 1287.7L1312 1290.3L1316 1292.8L1319.1 1295.4L1322.2 1298.8L1325 1303L1327.4 1308.2L1329.8 1315.8L1332.5 1332.1L1333.4 1343.9L1333.7 1356.7L1333.6 1367L1332.6 1377.2L1331.6 1382.3L1329.9 1387.4L1327.3 1392L1324.8 1395.1L1321.7 1397.6L1317.4 1400.2L1309.5 1403.1L1296.7 1405.9L1278.8 1408L1250.7 1409.7L1215 1410.8L1100.1 1412.1L872.8 1412.9L699.1 1412.9L602.1 1411.9L560.2 1410.4L543.4 1409.1L530.6 1407.5L520.4 1405.4L512.8 1402.7L507.6 1399.6L505.4 1397.6L503.3 1395.1L501.8 1392.5L499.7 1387.4L498.1 1379.7L497.4 1373L496.9 1351.6L498 1328.6L499.9 1313.9L502.5 1304.4L505.1 1298.7L507.2 1295.4L509.5 1292.8L512.7 1290L516.4 1287.7L520.4 1285.8L530.5 1282.6L543.4 1280.2L556.1 1278.8L574 1277.4L599.5 1276.3ZM627.6 1277.5L597 1278.4L574 1279.5L558.7 1280.7L543.4 1282.6L531.1 1285.2L523.5 1287.7L517.8 1290.6L512.7 1294.5L509.7 1297.9L507.6 1301.1L505.5 1305.6L503.8 1310.7L502.5 1316.2L501.3 1323.5L499.9 1338.8L499.6 1361.8L500.7 1377.2L501.7 1382.3L503.2 1387.4L505.1 1391.3L507.8 1395.1L512.7 1399L517.8 1401.5L525.5 1403.9L535.7 1405.9L548.5 1407.4L563.8 1408.5L614.9 1410.2L732.3 1411.1L952 1410.9L1128.2 1410L1225.2 1408.5L1255.8 1407.3L1281.4 1405.4L1298.9 1402.7L1308.4 1400.2L1314.5 1397.6L1317.1 1396L1321.5 1392.5L1323.7 1390L1325.3 1387.4L1327.5 1382.3L1329.6 1372.1L1330.3 1361.8L1330.3 1351.6L1329.9 1341.4L1328.5 1328.6L1327.2 1320.9L1325.1 1313.3L1323.1 1308.2L1320.3 1303L1317.1 1299L1313.1 1295.4L1309.3 1292.8L1304.2 1290.3L1297.1 1287.7L1291.6 1286.3L1273.7 1283.1L1248.2 1280.7L1217.5 1279.2L1171.6 1278L1112.8 1277.3L980 1276.6L808.9 1276.3L699.1 1276.6Z"/>
<path fill="#0040ff" stroke="#0040ff" stroke-width="0.7" d="M647.8 242.3L709.3 241L796.2 240.3L913.6 240.1L1028.6 240.5L1102.6 241.2L1159.6 242.3L1204.8 243.9L1235.4 246L1255.8 248.4L1273.7 251.8L1286.5 256L1291.6 258.4L1296.7 261.6L1300.9 265.3L1304.4 269.4L1306.5 272.9L1308.7 278L1310.2 283.2L1311.4 290.8L1311.6 295.9L1311.3 303.6L1310.2 311.3L1308.2 318.9L1304.9 326.6L1301.8 331.5L1299.3 334.7L1294.1 339.5L1289 343L1281.1 347.1L1274.4 349.6L1265.5 352.2L1253.4 354.7L1240.5 356.7L1209.9 359.7L1174.1 361.6L1130.7 363L1074.5 364L911.1 364.9L747.7 364.4L688.9 363.6L645.5 362.4L620 361.1L599.5 359.6L579.1 357.3L564.6 354.7L553.6 351.8L547.3 349.6L541.8 347.1L533.8 342L528 336.2L525.5 332.7L522.9 328.1L519.6 318.9L518 311.3L517.4 306.2L517.1 293.4L518.4 283.2L519.7 278L521.7 272.9L524.6 267.8L526.5 265.3L532 260.2L538.3 256.3L547.8 252.5L557.4 249.9L568.9 247.8L581.7 246.2L599.5 244.6ZM696.6 244.8L630.2 246.7L609.8 247.8L589.3 249.5L574 251.5L561.2 253.9L551 256.9L543.4 260L535.7 265L530.6 270.2L527.3 275.5L524.3 283.2L522.6 293.4L522.6 303.6L524.1 313.8L525.5 318.9L527.5 324.1L532.1 331.7L538.3 338L545.9 343.1L556.1 347.4L568.9 350.9L584.2 353.7L602.1 355.8L625.1 357.6L658.3 359.1L699.1 360.1L821.7 361.3L1005.6 361L1079.6 360.3L1133.3 359.2L1184.3 357.3L1220.6 354.7L1235.4 353L1248.2 351L1258.4 348.9L1268.6 346.1L1276.3 343.2L1283.7 339.4L1289 335.6L1294.1 330.7L1298.9 324.1L1301.4 318.9L1303.9 311.3L1305.1 303.6L1305.4 295.9L1305 290.8L1304.1 285.7L1302.6 280.6L1300.2 275.5L1298.5 272.9L1294.1 268L1290.9 265.3L1286.9 262.7L1281.8 260.2L1275.1 257.6L1268.6 255.7L1252.7 252.5L1232.2 249.9L1202.2 247.7L1169 246.3L1120.5 245.1L1061.8 244.3L969.8 243.8L862.6 243.7L768.1 244ZM585.7 1274.9L648.1 1273.5L745.1 1272.8L929 1272.8L1102.6 1273.5L1174.1 1274.3L1222.6 1275.4L1261 1277.4L1286 1280L1301.8 1283.2L1308 1285.2L1314.6 1288L1319.7 1291.3L1324.1 1295.4L1327.3 1299.8L1329.1 1303L1331.1 1308.2L1333.1 1315.8L1334.5 1323.5L1335.6 1333.7L1336.4 1346.5L1336.7 1359.3L1336.5 1369.5L1335.6 1379.7L1334.5 1384.8L1332.8 1390L1329.9 1395L1327.5 1397.6L1324.2 1400.2L1319.7 1402.6L1312 1405.3L1299.6 1407.9L1281.4 1409.9L1261 1411.2L1230.3 1412.3L1143.5 1413.6L974.9 1414.4L750.2 1414.7L625.1 1414.1L574.5 1413L540.8 1410.9L530.6 1409.8L520 1407.9L511.8 1405.3L506.7 1402.7L503.5 1400.2L501.2 1397.6L499.6 1395.1L497.4 1390L495.5 1379.7L494.7 1367L494.9 1341.4L496.7 1318.4L497.9 1310.7L499.9 1303L503.5 1295.4L507.6 1290.3L512.7 1286.5L520.4 1283L528 1280.8L535.7 1279.2L548.5 1277.5L566.3 1276ZM676.2 1274.9L602.1 1276.2L574 1277.4L556.1 1278.8L543.4 1280.2L530.5 1282.6L520.4 1285.8L516.4 1287.7L512.7 1290L509.5 1292.8L507.2 1295.4L505.1 1298.7L502.5 1304.4L499.9 1313.9L498 1328.6L496.9 1351.6L497.4 1373L498.1 1379.7L499.7 1387.4L501.8 1392.5L503.3 1395.1L505.4 1397.6L507.6 1399.6L512.8 1402.7L520.4 1405.4L530.6 1407.5L543.4 1409.1L560.2 1410.4L602.1 1411.9L699.1 1412.9L872.8 1412.9L1100.1 1412.1L1215 1410.8L1250.7 1409.7L1278.8 1408L1296.7 1405.9L1309.5 1403.1L1317.4 1400.2L1321.7 1397.6L1324.8 1395.1L1327.3 1392L1329.9 1387.4L1331.6 1382.3L1332.6 1377.2L1333.6 1367L1333.7 1356.7L1333.4 1343.9L1332.5 1332.1L1329.8 1315.8L1327.4 1308.2L1325 1303L1322.2 1298.8L1319.1 1295.4L1316 1292.8L1312 1290.3L1306.6 1287.7L1299.3 1285.3L1283.9 1282.1L1263.5 1279.7L1232.9 1277.7L1194.6 1276.5L1143.5 1275.7L1046.4 1274.9L911.1 1274.5L770.6 1274.5Z"/>
<path fill="#0050ff" stroke="#0050ff" stroke-width="0.7" d="M757 237.1L949.4 236.8L1112.8 237.9L1163.9 238.9L1202.2 240.2L1232.9 242L1255.8 244.3L1274.4 247.4L1283.9 249.8L1289 251.6L1294.1 253.7L1299.3 256.5L1304.1 260.2L1306.7 262.7L1309.5 266.3L1311.9 270.4L1313.9 275.5L1315.3 280.6L1316.2 285.7L1316.8 293.4L1316.3 306.2L1315.1 313.8L1313.1 321.5L1309.9 329.2L1306.8 334.3L1302.5 339.4L1296.5 344.5L1289 348.9L1281.4 352.1L1273.2 354.7L1262.3 357.3L1248.2 359.7L1235.4 361.2L1199.7 364L1153.7 365.9L1100.1 367L1031.1 367.8L837 368.2L701.7 367.2L655.7 366.2L620 364.7L594.4 362.9L576.6 360.9L561.2 358.2L548 354.7L541.3 352.2L536.1 349.6L528.8 344.5L522.9 338.2L520.3 334.3L517.8 329.1L514.7 318.9L513.3 311.3L512.6 303.6L512.4 295.9L512.8 288.3L513.9 280.6L515.1 275.5L518.2 267.8L520.4 264.2L523.7 260.2L526.5 257.6L530.6 254.7L534.7 252.5L540.8 249.9L551 247L566.3 244.1L582.2 242.3L604.6 240.6L630.2 239.4L663.4 238.4ZM648.1 242.3L599.5 244.6L581.7 246.2L568.9 247.8L557.4 249.9L547.8 252.5L538.3 256.3L532 260.2L526.5 265.3L524.6 267.8L521.7 272.9L519.7 278L518.4 283.2L517.1 293.4L517.4 306.2L518 311.3L519.6 318.9L522.9 328.1L525.5 332.7L528 336.2L533.8 342L541.8 347.1L547.3 349.6L553.6 351.8L564.6 354.7L579.1 357.3L599.5 359.6L620 361.1L645.5 362.4L688.9 363.6L747.7 364.4L911.1 364.9L1074.5 364L1130.7 363L1174.1 361.6L1209.9 359.7L1240.5 356.7L1253.4 354.7L1265.5 352.2L1274.4 349.6L1281.1 347.1L1289 343L1294.1 339.5L1299.3 334.7L1301.8 331.5L1304.9 326.6L1308.2 318.9L1310.2 311.3L1311.3 303.6L1311.6 295.9L1311.4 290.8L1310.2 283.2L1308.7 278L1306.5 272.9L1304.4 269.4L1300.9 265.3L1296.7 261.6L1291.6 258.4L1286.5 256L1273.7 251.8L1255.8 248.4L1235.4 246L1204.8 243.9L1159.6 242.3L1102.6 241.2L1028.6 240.5L913.6 240.1L796.2 240.3L709.3 241ZM611.3 1272.4L683.8 1271.4L796.2 1271L987.7 1271.3L1128.2 1272L1189.4 1272.8L1235.4 1274.1L1266.1 1275.9L1289 1278.4L1298.6 1280L1306.9 1282.1L1317.1 1286.1L1322.2 1289.3L1326.2 1292.8L1329.9 1297.6L1331.4 1300.5L1333.5 1305.6L1335.6 1313.3L1336.9 1320.9L1338.1 1331.2L1339.1 1346.5L1339.4 1361.8L1339.2 1372.1L1338.2 1382.3L1337.2 1387.4L1335.4 1392.5L1332.2 1397.6L1329.6 1400.2L1325.9 1402.7L1320.5 1405.3L1317.1 1406.4L1311.9 1407.9L1304.4 1409.3L1286.5 1411.5L1263.5 1413L1230.3 1414.1L1130.7 1415.5L946.8 1416.2L729.8 1416.4L612.3 1415.6L563.8 1414.3L545.9 1413.3L533.1 1412.1L521.5 1410.4L512.7 1408.2L505.7 1405.3L502 1402.7L499.5 1400.2L497.4 1397.1L495.5 1392.5L494.2 1387.4L493.2 1379.7L492.7 1372.1L492.5 1351.6L493.5 1328.6L495.5 1310.7L497.2 1303L499 1297.9L501.7 1292.8L503.7 1290.3L506.3 1287.7L509.7 1285.2L514.6 1282.6L522.9 1279.8L533.6 1277.5L548.5 1275.6L563.8 1274.3ZM586.8 1274.9L551 1277.2L538.3 1278.8L528 1280.8L520.4 1283L512.7 1286.5L507.6 1290.3L503.5 1295.4L499.9 1303L497.9 1310.7L496.7 1318.4L494.9 1341.4L494.7 1367L495.5 1379.7L497.4 1390L499.6 1395.1L501.2 1397.6L503.5 1400.2L506.7 1402.7L511.8 1405.3L520 1407.9L530.6 1409.8L540.8 1410.9L574.5 1413L625.1 1414.1L750.2 1414.7L974.9 1414.4L1143.5 1413.6L1230.3 1412.3L1261 1411.2L1281.4 1409.9L1299.6 1407.9L1312 1405.3L1319.7 1402.6L1324.2 1400.2L1327.5 1397.6L1329.9 1395L1332.8 1390L1334.5 1384.8L1335.6 1379.7L1336.5 1369.5L1336.7 1359.3L1336.4 1346.5L1335.6 1333.7L1334.5 1323.5L1333.1 1315.8L1331.1 1308.2L1329.1 1303L1327.3 1299.8L1324.1 1295.4L1319.7 1291.3L1314.6 1288L1308 1285.2L1301.8 1283.2L1286 1280L1262.4 1277.5L1225.2 1275.5L1176.7 1274.3L1105.2 1273.5L934.1 1272.8L747.7 1272.8L648.1 1273.5Z"/>
<path fill="#0060ff" stroke="#0060ff" stroke-width="0.7" d="M692.4 234.6L773.2 233.8L877.9 233.6L995.4 233.7L1089.9 234.4L1148.6 235.2L1194.6 236.5L1230.3 238.3L1255.8 240.6L1276.3 243.7L1290.7 247.4L1296.7 249.7L1301.8 252.2L1306.1 255L1309.5 257.9L1313.5 262.7L1316.4 267.8L1318.4 272.9L1319.7 278L1320.9 285.7L1321.3 293.4L1321.2 301.1L1320.5 308.7L1319.3 316.4L1317.1 324.4L1314.6 330.8L1311.1 336.8L1307 342L1301.8 346.6L1296.7 350L1289 353.8L1279.2 357.3L1271.2 359.4L1261 361.4L1248.2 363.3L1217.5 366.3L1176.7 368.4L1128.2 369.8L1069.4 370.6L888.1 371.5L724.7 370.8L671 369.9L630.2 368.6L604.6 367.1L581.7 365.1L563.8 362.6L551 359.8L540.8 356.6L535.7 354.4L530.6 351.6L527.7 349.6L522.9 345.5L517.8 339.1L515.2 334.3L513.1 329.2L511.6 324.1L510 316.4L509 308.7L508.5 298.5L508.6 290.8L509.2 283.2L511.2 272.9L513 267.8L515.3 263.1L517.8 259.3L520.4 256.5L525.2 252.5L528 250.7L535.7 247.2L545.9 244.1L558.7 241.5L576.6 239.2L597 237.6L622.5 236.3ZM757.9 237.1L663.4 238.4L630.2 239.4L604.6 240.6L582.2 242.3L566.3 244.1L551 247L540.8 249.9L534.7 252.5L530.6 254.7L526.5 257.6L523.7 260.2L520.4 264.2L518.2 267.8L515.1 275.5L513.9 280.6L512.8 288.3L512.4 295.9L512.6 303.6L513.3 311.3L514.7 318.9L517.8 329.1L520.3 334.3L522.9 338.2L528.8 344.5L536.1 349.6L541.3 352.2L548 354.7L561.2 358.2L576.6 360.9L594.4 362.9L620 364.7L655.7 366.2L701.7 367.2L837 368.2L1031.1 367.8L1100.1 367L1153.7 365.9L1199.7 364L1235.4 361.2L1248.2 359.7L1262.3 357.3L1273.2 354.7L1281.4 352.1L1289 348.9L1296.5 344.5L1302.5 339.4L1306.8 334.3L1309.9 329.2L1313.1 321.5L1315.1 313.8L1316.3 306.2L1316.8 293.4L1316.2 285.7L1315.3 280.6L1313.9 275.5L1311.9 270.4L1309.5 266.3L1306.7 262.7L1304.1 260.2L1299.3 256.5L1294.1 253.7L1289 251.6L1283.9 249.8L1274.4 247.4L1255.8 244.3L1232.9 242L1202.2 240.2L1163.9 238.9L1112.8 237.9L952 236.8ZM672.6 1269.8L770.6 1269.4L916.2 1269.4L1061.8 1269.9L1156.2 1270.6L1207.3 1271.5L1245.6 1272.8L1276.3 1274.9L1296.2 1277.5L1309.5 1280.5L1315.6 1282.6L1321 1285.2L1325 1287.7L1329.9 1292.4L1332.5 1296L1334.7 1300.5L1336.5 1305.6L1338.3 1313.3L1339.8 1323.5L1340.8 1333.7L1341.6 1349.1L1341.8 1364.4L1341.4 1377.2L1340.6 1384.8L1339.5 1390L1337.6 1395.1L1334.1 1400.2L1331.2 1402.7L1327.1 1405.3L1322.2 1407.3L1317.1 1408.9L1304.4 1411.4L1283.9 1413.6L1255.8 1415.1L1220.1 1416.1L1105.2 1417.3L877.9 1418L699.1 1418L599.5 1417.1L553.6 1415.6L538.3 1414.5L524.8 1413L515.3 1411.2L507.6 1408.8L501 1405.3L497.4 1401.9L494.7 1397.6L493 1392.5L492 1387.4L491.2 1379.7L490.7 1354.2L491.7 1326.1L493.3 1310.7L495.5 1300.5L497.4 1295.4L499.9 1290.8L502.5 1287.7L505.3 1285.2L509.3 1282.6L512.7 1281L522.9 1277.6L535.7 1275.2L551 1273.5L571.4 1272.1L597 1271.1ZM612.3 1272.4L563.8 1274.3L548.5 1275.6L533.6 1277.5L522.9 1279.8L514.6 1282.6L509.7 1285.2L506.3 1287.7L503.7 1290.3L501.7 1292.8L499 1297.9L497.2 1303L495.5 1310.7L493.5 1328.6L492.5 1351.6L492.7 1372.1L493.2 1379.7L494.2 1387.4L495.5 1392.5L497.4 1397.1L499.5 1400.2L502 1402.7L505.7 1405.3L512.7 1408.2L521.5 1410.4L533.1 1412.1L545.9 1413.3L563.8 1414.3L612.3 1415.6L729.8 1416.4L946.8 1416.2L1130.7 1415.5L1230.3 1414.1L1263.5 1413L1286.5 1411.5L1304.4 1409.3L1311.9 1407.9L1317.1 1406.4L1320.5 1405.3L1325.9 1402.7L1329.6 1400.2L1332.2 1397.6L1335.4 1392.5L1337.2 1387.4L1338.2 1382.3L1339.2 1372.1L1339.4 1361.8L1339.1 1346.5L1338.1 1331.2L1336.9 1320.9L1335.6 1313.3L1333.5 1305.6L1331.4 1300.5L1329.9 1297.6L1326.2 1292.8L1322.2 1289.3L1317.1 1286.1L1306.9 1282.1L1298.6 1280L1289 1278.4L1266.1 1275.9L1235.4 1274.1L1189.4 1272.8L1128.2 1272L987.7 1271.3L796.2 1271L683.8 1271.4Z"/>
<path fill="#0070ff" stroke="#0070ff" stroke-width="0.7" d="M659 232L729.8 231L831.9 230.5L962.2 230.5L1074.5 231.1L1143.5 232L1192 233.2L1230.3 235L1258.4 237.3L1278.8 240.4L1287.4 242.3L1294.1 244.2L1301.8 247.2L1306.9 249.9L1310.5 252.5L1314.6 256.3L1317.6 260.2L1320.4 265.3L1322.3 270.4L1323.6 275.5L1324.8 283.2L1325.2 290.8L1325.1 301.1L1324.5 308.7L1323.4 316.4L1321.6 324.1L1319.7 329.9L1316.4 336.8L1313 342L1308.3 347.1L1301.8 352L1296.7 354.9L1289 358.1L1281.4 360.6L1273.7 362.6L1261 365L1232.9 368.4L1194.6 370.9L1153.7 372.3L1100.1 373.4L939.2 374.5L752.8 374.2L688.9 373.4L640.4 372.1L612.3 370.9L589.3 369.2L571.4 367.3L556.1 364.7L543.4 361.5L532.4 357.3L528 354.9L524 352.2L517.8 346.3L514.7 342L511.9 336.8L509.9 331.7L507.7 324.1L505.5 308.7L505 301.1L505 290.8L505.6 283.2L506.6 275.5L507.8 270.4L509.5 265.3L513.5 257.6L517.8 252.6L520.4 250.5L528 245.9L537.8 242.3L548.5 239.7L563.8 237.2L581.7 235.4L602.1 234ZM694 234.6L622.5 236.3L597 237.6L576.6 239.2L558.7 241.5L545.9 244.1L535.7 247.2L528 250.7L525.2 252.5L520.4 256.5L517.8 259.3L515.3 263.1L513 267.8L511.2 272.9L509.2 283.2L508.6 290.8L508.5 298.5L509 308.7L510 316.4L511.6 324.1L513.1 329.2L515.2 334.3L517.8 339.1L522.9 345.5L527.7 349.6L530.6 351.6L535.7 354.4L540.8 356.6L551 359.8L563.8 362.6L581.7 365.1L604.6 367.1L630.2 368.6L671 369.9L724.7 370.8L888.1 371.5L1069.4 370.6L1128.2 369.8L1176.7 368.4L1217.5 366.3L1248.2 363.3L1261 361.4L1271.2 359.4L1279.2 357.3L1289 353.8L1296.7 350L1301.8 346.6L1307 342L1311.1 336.8L1314.6 330.8L1317.1 324.4L1319.3 316.4L1320.5 308.7L1321.2 301.1L1321.3 293.4L1320.9 285.7L1319.7 278L1318.4 272.9L1316.4 267.8L1313.5 262.7L1309.5 257.9L1306.1 255L1301.8 252.2L1296.7 249.7L1290.7 247.4L1276.3 243.7L1255.8 240.6L1230.3 238.3L1197.1 236.6L1151.1 235.3L1092.4 234.4L997.9 233.7L880.4 233.5L773.2 233.8ZM585.2 1269.8L648.1 1268.4L750.2 1267.8L944.3 1267.9L1115.4 1268.6L1184.3 1269.4L1232.9 1270.6L1267.1 1272.4L1294.1 1275.2L1309.5 1278.3L1315.2 1280L1322.2 1283L1327.3 1286.2L1331.7 1290.3L1335 1294.9L1336.5 1297.9L1338.4 1303L1340.3 1310.7L1341.9 1320.9L1342.8 1331.2L1343.6 1346.5L1344 1364.4L1343.7 1377.2L1342.7 1387.4L1341.5 1392.5L1340.1 1396.3L1337.9 1400.2L1335.6 1402.7L1332.3 1405.3L1327.5 1407.9L1320 1410.4L1306.9 1413L1289 1414.9L1266.1 1416.4L1232.9 1417.5L1140.9 1418.7L964.7 1419.5L742.5 1419.7L620 1419.1L566.3 1417.8L533.1 1415.8L522.9 1414.6L512.7 1412.6L505.5 1410.4L500.4 1407.9L497.4 1405.6L494.9 1402.7L492.2 1397.6L490.8 1392.5L489.9 1387.4L489 1372.1L489.2 1341.4L489.7 1328.6L490.8 1315.8L492.2 1305.6L493.3 1300.5L494.9 1295.4L497.4 1290.3L501.7 1285.2L507.6 1281L515.3 1277.7L522.9 1275.7L533.1 1273.8L545.9 1272.2L563.8 1270.9ZM673.6 1269.8L597 1271.1L571.4 1272.1L551 1273.5L535.7 1275.2L522.9 1277.6L512.7 1281L509.3 1282.6L505.3 1285.2L502.5 1287.7L499.9 1290.8L497.4 1295.4L495.5 1300.5L493.3 1310.7L491.7 1326.1L490.7 1354.2L491.2 1379.7L492 1387.4L493 1392.5L494.7 1397.6L497.4 1401.9L501 1405.3L507.6 1408.8L515.3 1411.2L524.8 1413L538.3 1414.5L553.6 1415.6L599.5 1417.1L699.1 1418L877.9 1418L1105.2 1417.3L1220.1 1416.1L1255.8 1415.1L1283.9 1413.6L1304.4 1411.4L1317.1 1408.9L1322.2 1407.3L1327.1 1405.3L1331.2 1402.7L1334.1 1400.2L1337.6 1395.1L1339.5 1390L1340.6 1384.8L1341.4 1377.2L1341.8 1364.4L1341.6 1349.1L1340.8 1333.7L1339.8 1323.5L1338.3 1313.3L1336.5 1305.6L1334.7 1300.5L1332.5 1296L1329.9 1292.4L1325 1287.7L1321 1285.2L1315.6 1282.6L1309.5 1280.5L1296.2 1277.5L1276.3 1274.9L1245.6 1272.8L1207.3 1271.5L1156.2 1270.6L1061.8 1269.9L918.8 1269.5L773.2 1269.4Z"/>
<path fill="#0080ff" stroke="#0080ff" stroke-width="0.7" d="M636.8 229.5L704.2 228.2L803.8 227.5L941.7 227.4L1066.9 227.9L1140.9 228.8L1194.6 230.1L1234.9 232L1263.5 234.6L1283.9 237.7L1292.3 239.7L1300.4 242.3L1306.3 244.8L1310.8 247.4L1314.6 250.1L1319.4 255L1322.2 259.3L1324.8 264.9L1327.5 275.5L1328.4 283.2L1328.8 293.4L1328.5 303.6L1327.8 311.3L1326.6 318.9L1324.8 326.8L1322.2 334.1L1319.7 339.4L1316.3 344.5L1311.7 349.6L1305 354.7L1299.3 357.9L1291.6 361.1L1283.9 363.6L1273.7 366.1L1263.5 368L1238 371.1L1202.2 373.6L1163.9 375.1L1112.8 376.3L964.7 377.5L768.1 377.4L699.1 376.6L648.1 375.5L620 374.4L594.4 372.8L574 370.8L558.7 368.6L545.9 365.9L534.9 362.4L525.5 357.9L520.9 354.7L517.8 352.1L513.4 347.1L510.2 342L507.9 336.8L506.2 331.7L504.3 324.1L503.1 316.4L501.9 301.1L502.3 283.2L503.2 275.5L504.7 267.8L506.3 262.7L508.7 257.6L512.1 252.5L514.5 249.9L520.4 245.5L528 241.6L538.3 238.3L551 235.7L566.3 233.6L584.2 232L607.2 230.6ZM660.8 232L602.1 234L581.7 235.4L563.8 237.2L548.5 239.7L537.8 242.3L528 245.9L520.4 250.5L517.8 252.6L513.5 257.6L509.5 265.3L507.8 270.4L506.6 275.5L505.6 283.2L505 290.8L505 301.1L505.5 308.7L507.7 324.1L509.9 331.7L511.9 336.8L514.7 342L517.8 346.3L524 352.2L528 354.9L532.4 357.3L543.4 361.5L556.1 364.7L571.4 367.3L589.3 369.2L612.3 370.9L640.4 372.1L688.9 373.4L752.8 374.2L939.2 374.5L1100.1 373.4L1153.7 372.3L1194.6 370.9L1232.9 368.4L1261 365L1273.7 362.6L1281.4 360.6L1289 358.1L1296.7 354.9L1301.8 352L1308.3 347.1L1313 342L1316.4 336.8L1319.7 329.9L1321.6 324.1L1323.4 316.4L1324.5 308.7L1325.1 301.1L1325.2 290.8L1324.8 283.2L1323.6 275.5L1322.3 270.4L1320.4 265.3L1317.6 260.2L1314.6 256.3L1310.5 252.5L1306.9 249.9L1301.8 247.2L1294.1 244.2L1287.4 242.3L1278.8 240.4L1258.4 237.3L1230.3 235L1192 233.2L1143.5 232L1077.1 231.1L967.3 230.5L837 230.5L734.9 231ZM617.9 1267.3L694 1266.4L814.1 1266.1L1008.1 1266.4L1140.9 1267.1L1202.2 1268.1L1245.6 1269.5L1276.3 1271.4L1299.3 1274.2L1314.6 1277.7L1321.1 1280L1326.3 1282.6L1330 1285.2L1335 1290.2L1337.6 1294.2L1339.2 1297.9L1340.9 1303L1342.7 1310.9L1344 1320.9L1345.2 1336.3L1346 1369.5L1345.6 1382.3L1344.7 1390L1342.4 1397.6L1340.1 1401.6L1337.6 1404.5L1332.9 1407.9L1329.9 1409.3L1319.7 1412.6L1304.4 1415.2L1286.5 1416.9L1261 1418.3L1225.2 1419.3L1117.9 1420.5L906 1421.2L714.5 1421.3L607.2 1420.5L558.7 1419.2L540.8 1418.2L528 1417L517.4 1415.5L507.6 1413.3L500.4 1410.4L496.5 1407.9L493.9 1405.3L492.1 1402.7L490 1397.6L488.8 1392.5L487.5 1377.2L487.4 1351.6L488.5 1323.5L490.3 1305.6L492 1297.9L493.7 1292.8L496.5 1287.7L498.5 1285.2L501.2 1282.6L504.9 1280L510.2 1277.5L518.1 1274.9L530.9 1272.4L545.9 1270.6L563.8 1269.2L586.8 1268.1ZM586.8 1269.8L548.5 1272L533.1 1273.8L522.9 1275.7L515.3 1277.7L507.6 1281L501.7 1285.2L497.4 1290.3L494.9 1295.4L493.3 1300.5L492.2 1305.6L490.8 1315.8L489.7 1328.6L489.2 1341.4L489 1372.1L489.9 1387.4L490.8 1392.5L492.2 1397.6L494.9 1402.7L497.4 1405.6L500.4 1407.9L505.5 1410.4L512.7 1412.6L522.9 1414.6L533.1 1415.8L566.3 1417.8L620 1419.1L742.5 1419.7L964.7 1419.5L1140.9 1418.7L1232.9 1417.5L1266.1 1416.4L1289 1414.9L1306.9 1413L1320 1410.4L1327.5 1407.9L1332.3 1405.3L1335.6 1402.7L1337.9 1400.2L1340.1 1396.3L1341.5 1392.5L1342.7 1387.4L1343.7 1377.2L1344 1364.4L1343.6 1346.5L1342.8 1331.2L1341.9 1320.9L1340.3 1310.7L1338.4 1303L1336.5 1297.9L1335 1294.9L1331.7 1290.3L1327.3 1286.2L1322.2 1283L1315.2 1280L1309.5 1278.3L1294.1 1275.2L1267.1 1272.4L1232.9 1270.6L1184.3 1269.4L1115.4 1268.6L946.8 1267.9L752.8 1267.8L650.6 1268.4Z"/>
<path fill="#008fff" stroke="#008fff" stroke-width="0.7" d="M806.6 224.4L1013.2 224.5L1095 225.1L1156.2 226L1202.2 227.3L1235.4 228.9L1263.5 231.3L1283.9 234.2L1299.3 238L1306.9 240.9L1312 243.4L1317.1 246.9L1320.4 249.9L1322.6 252.5L1325.9 257.6L1328.1 262.7L1329.9 269.2L1331 275.5L1331.7 283.2L1331.8 301.1L1331 311.3L1329.9 319.3L1327.7 329.2L1325 336.8L1322.2 342.5L1317.1 349.5L1312 354.4L1306.9 357.9L1299.3 361.9L1291.2 365L1281.4 367.7L1268.6 370.4L1253.3 372.6L1238 374.2L1197.1 376.9L1143.5 378.7L1082.2 379.8L1003 380.4L803.8 380.6L678.7 379.4L637.8 378.2L604.6 376.6L581.7 374.8L561.2 372.3L545.9 369.3L533.1 365.4L528 363.3L522.9 360.5L518.2 357.3L515.3 354.7L512.7 352L509.1 347.1L505.1 338.6L502.9 331.7L501.3 324.1L499.9 314L499.4 306.2L499.1 295.9L499.3 285.7L500.1 275.5L501.4 267.8L502.7 262.7L504.5 257.6L507.3 252.5L509.2 249.9L511.5 247.4L515.3 244.2L520.4 241L525.5 238.7L538.3 234.8L553.6 231.9L574 229.6L602.1 227.7L635.3 226.4L678.7 225.4ZM637.8 229.5L607.2 230.6L584.2 232L566.3 233.6L551 235.7L538.3 238.3L528 241.6L520.4 245.5L514.5 249.9L512.1 252.5L508.7 257.6L506.3 262.7L504.7 267.8L503.2 275.5L502.3 283.2L501.9 301.1L503.1 316.4L504.3 324.1L506.2 331.7L507.9 336.8L510.2 342L513.4 347.1L517.8 352.1L520.9 354.7L525.5 357.9L534.9 362.4L545.9 365.9L558.7 368.6L574 370.8L594.4 372.8L620 374.4L648.1 375.5L699.1 376.6L768.1 377.4L964.7 377.5L1112.8 376.3L1163.9 375.1L1202.2 373.6L1238 371.1L1263.5 368L1273.7 366.1L1283.9 363.6L1291.6 361.1L1299.3 357.9L1305 354.7L1311.7 349.6L1316.3 344.5L1319.7 339.4L1322.2 334.1L1324.8 326.8L1326.6 318.9L1327.8 311.3L1328.5 303.6L1328.8 293.4L1328.4 283.2L1327.5 275.5L1324.8 264.9L1322.2 259.3L1319.4 255L1314.6 250.1L1310.8 247.4L1306.3 244.8L1300.4 242.3L1292.3 239.7L1283.9 237.7L1263.5 234.6L1234.9 232L1194.6 230.1L1140.9 228.8L1069.4 227.9L944.3 227.4L806.4 227.5L706.8 228.2ZM691.6 1264.7L798.7 1264.4L949.4 1264.5L1084.7 1265L1169 1265.8L1217.5 1266.8L1255.8 1268.3L1283.9 1270.5L1304.4 1273.4L1312 1275L1319.7 1277.3L1326.1 1280L1329.9 1282.3L1333.6 1285.2L1337.6 1289.6L1340.1 1294L1341.7 1297.9L1343.8 1305.6L1345.2 1314.1L1347.2 1338.8L1347.8 1356.7L1347.9 1374.6L1347.4 1384.8L1346.4 1392.5L1345 1397.6L1342.7 1402.4L1340.3 1405.3L1337.6 1407.7L1332.8 1410.4L1329.9 1411.6L1324.8 1413.3L1317.1 1415L1299.3 1417.5L1276.3 1419.2L1245.6 1420.4L1202.2 1421.4L1069.4 1422.4L821.7 1423L673.6 1422.8L589.3 1421.9L545.9 1420.2L530.6 1419L517.8 1417.4L508.7 1415.5L501 1413L497.4 1411.1L494.8 1409.3L491.2 1405.3L488.8 1400.2L487.4 1395.1L486.2 1382.3L486 1351.6L487.2 1318.4L489 1303L491.6 1292.8L494 1287.7L495.8 1285.2L498.1 1282.6L501.2 1280L505.5 1277.5L510.2 1275.5L520.4 1272.6L533.1 1270.4L551 1268.4L574 1267L604.6 1265.9ZM620 1267.2L566.3 1269L545.9 1270.6L530.9 1272.4L518.1 1274.9L510.2 1277.5L504.9 1280L501.2 1282.6L498.5 1285.2L496.5 1287.7L493.7 1292.8L492 1297.9L490.3 1305.6L488.5 1323.5L487.4 1351.6L487.5 1377.2L488.8 1392.5L490 1397.6L492.1 1402.7L493.9 1405.3L496.5 1407.9L500.4 1410.4L507.6 1413.3L517.4 1415.5L528 1417L540.8 1418.2L558.7 1419.2L607.2 1420.5L714.5 1421.3L906 1421.2L1117.9 1420.5L1225.2 1419.3L1261 1418.3L1286.5 1416.9L1304.4 1415.2L1319.7 1412.6L1329.9 1409.3L1332.9 1407.9L1337.6 1404.5L1340.1 1401.6L1342.4 1397.6L1344.7 1390L1345.6 1382.3L1346 1369.5L1345.2 1336.3L1344 1320.9L1342.7 1310.9L1340.9 1303L1339.2 1297.9L1337.6 1294.2L1335 1290.2L1330 1285.2L1326.3 1282.6L1321.1 1280L1314.6 1277.7L1299.3 1274.2L1276.3 1271.4L1245.6 1269.5L1202.2 1268.1L1140.9 1267.1L1010.7 1266.4L819.2 1266.1L696.6 1266.4Z"/>
<path fill="#009fff" stroke="#009fff" stroke-width="0.7" d="M714.5 221.8L808.9 221.2L929 221.1L1041.3 221.5L1128.2 222.3L1184.3 223.5L1225.2 225.1L1258.4 227.5L1281.4 230.4L1291.6 232.4L1299.3 234.3L1306.9 236.9L1312 239.2L1317.1 242.1L1320.7 244.8L1324.8 249L1327.3 252.5L1330 257.6L1332.4 265.3L1333.8 272.9L1334.6 280.6L1334.9 290.8L1334.7 301.1L1333.9 311.3L1332.6 321.5L1330.9 329.2L1328.6 336.8L1325.1 344.5L1321.7 349.6L1317.1 354.7L1312 358.8L1304.4 363.3L1296.7 366.5L1286.5 369.7L1276.3 372.1L1263.5 374.3L1250.7 376L1217.5 378.9L1171.6 381L1120.5 382.3L1054.1 383.2L867.7 383.9L714.5 383.1L663.4 382.1L622.5 380.7L597 379.2L574 377.1L556.1 374.6L540.8 371.3L529.4 367.5L523.9 365L519.5 362.4L512.7 357L510.2 354.3L506.8 349.6L504.1 344.5L501.3 336.8L499.5 329.2L498.2 321.5L497.1 311.3L496.6 301.1L496.6 288.3L497.1 278L498.9 265.3L500.1 260.2L502.5 253.9L505.1 249.3L507.6 246L511.6 242.3L515.3 239.7L520.4 237L525.5 234.9L535.7 231.9L551 229L571.4 226.6L597 224.8L627.6 223.5ZM808.9 224.4L681.3 225.4L637.8 226.3L604.6 227.6L576.6 229.4L556.1 231.6L540.8 234.2L528 237.7L522.9 239.8L517.8 242.5L514.4 244.8L510.2 248.8L507.3 252.5L505.1 256.5L502.7 262.7L501.4 267.8L500.1 275.5L499.3 285.7L499.1 295.9L499.4 306.2L499.9 314L501.3 324.1L502.9 331.7L505.1 338.6L509.1 347.1L512.7 352L515.3 354.7L518.2 357.3L522.9 360.5L528 363.3L533.1 365.4L545.9 369.3L561.2 372.3L581.7 374.8L604.6 376.6L637.8 378.2L678.7 379.4L803.8 380.6L1003 380.4L1082.2 379.8L1143.5 378.7L1197.1 376.9L1238 374.2L1253.3 372.6L1268.6 370.4L1281.4 367.7L1291.2 365L1299.3 361.9L1306.9 357.9L1312 354.4L1317.1 349.5L1322.2 342.5L1325 336.8L1327.7 329.2L1329.9 319.3L1331 311.3L1331.8 301.1L1331.7 283.2L1331 275.5L1329.9 269.2L1328.1 262.7L1325.9 257.6L1322.6 252.5L1320.4 249.9L1317.1 246.9L1312 243.4L1306.9 240.9L1299.3 238L1283.9 234.2L1263.5 231.3L1235.4 228.9L1202.2 227.3L1156.2 226L1095 225.1L1013.2 224.5ZM588.8 1264.7L655.7 1263.3L760.4 1262.7L962.2 1262.8L1125.6 1263.6L1192 1264.5L1240.5 1265.9L1276.3 1268.1L1289 1269.4L1301.8 1271.2L1309.5 1272.7L1318.3 1274.9L1324.8 1277.3L1330.3 1280L1334 1282.6L1337.6 1286L1340.6 1290.3L1343.1 1295.4L1345.2 1302.7L1346.2 1308.2L1347.6 1318.4L1348.5 1331.2L1349.7 1369.5L1349.5 1382.3L1348.5 1392.5L1347.4 1397.6L1345.2 1402.7L1343.5 1405.3L1341 1407.9L1335 1411.7L1329.9 1413.7L1324.8 1415.2L1309.5 1418.1L1291.6 1419.9L1266.1 1421.4L1232.9 1422.5L1135.8 1423.8L962.2 1424.5L745.1 1424.8L622.5 1424.2L566.3 1422.9L533.1 1421L520.4 1419.5L510.2 1417.7L502.5 1415.6L496.5 1413L492.9 1410.4L490.5 1407.9L487.7 1402.7L486.2 1397.6L485.4 1392.5L484.6 1379.7L484.8 1341.4L485.5 1323.5L486.5 1310.7L487.4 1303L489 1295.4L490.7 1290.3L493.4 1285.2L497.4 1280.5L502.5 1277L510.2 1273.6L520.4 1270.9L533.1 1268.7L548.5 1267L566.3 1265.7ZM694 1264.7L604.6 1265.9L574 1267L551 1268.4L533.1 1270.4L520.4 1272.6L510.2 1275.5L505.5 1277.5L501.2 1280L498.1 1282.6L495.8 1285.2L494 1287.7L491.6 1292.8L489 1303L487.2 1318.4L486 1351.6L486.2 1382.3L487.4 1395.1L488.8 1400.2L491.2 1405.3L494.8 1409.3L497.4 1411.1L501 1413L508.7 1415.5L517.8 1417.4L530.6 1419L545.9 1420.2L589.3 1421.9L673.6 1422.8L821.7 1423L1069.4 1422.4L1202.2 1421.4L1245.6 1420.4L1276.3 1419.2L1299.3 1417.5L1317.1 1415L1324.8 1413.3L1329.9 1411.6L1332.8 1410.4L1337.6 1407.7L1340.3 1405.3L1342.7 1402.4L1345 1397.6L1346.4 1392.5L1347.4 1384.8L1347.9 1374.6L1347.8 1356.7L1347.2 1338.8L1345.2 1314.1L1343.8 1305.6L1341.7 1297.9L1340.1 1294L1337.6 1289.6L1333.6 1285.2L1329.9 1282.3L1326.1 1280L1319.7 1277.3L1312 1275L1304.4 1273.4L1283.9 1270.5L1255.8 1268.3L1217.5 1266.8L1169 1265.8L1084.7 1265L952 1264.5Z"/>
<path fill="#00afff" stroke="#00afff" stroke-width="0.7" d="M667.1 219.3L747.7 218.2L862.6 217.8L995.4 217.9L1102.6 218.7L1166.5 219.8L1215 221.4L1250.7 223.6L1278.8 226.7L1296.7 230.1L1304.4 232.3L1312 235.2L1317.1 237.8L1322.2 241.2L1326.1 244.8L1330 249.9L1332.6 255L1335 262.6L1336.4 270.4L1337.2 278L1337.6 288.3L1337.5 298.5L1336.7 311.3L1335.4 321.5L1333.3 331.7L1330.9 339.4L1327.4 347.1L1324.8 351L1321.8 354.7L1316.2 359.8L1309.5 364.3L1302.9 367.5L1294.1 370.8L1283.9 373.6L1273.7 375.7L1261 377.8L1230.3 381.1L1189.4 383.5L1143.5 385L1084.7 386.1L918.8 387.1L742.5 386.6L683.8 385.8L635.3 384.4L607.2 383L584.2 381.3L563.8 379L548.5 376.3L534.2 372.6L522.9 368.1L515.3 363.5L508.5 357.3L505.1 352.6L502.5 348L499.9 341.7L497.9 334.3L496.4 326.6L495.2 316.4L494.2 295.9L494.8 275.5L495.7 267.8L497.1 260.2L498.6 255L500.8 249.9L504 244.8L507.6 240.9L510.2 238.8L515.3 235.6L525.5 231.3L538.3 227.9L553.6 225.3L574 223.2L599.5 221.4L630.2 220.2ZM717 221.8L627.6 223.5L597 224.8L571.4 226.6L551 229L535.7 231.9L525.5 234.9L520.4 237L515.3 239.7L511.6 242.3L507.6 246L505.1 249.3L502.5 253.9L500.1 260.2L498.9 265.3L497.1 278L496.6 288.3L496.6 301.1L497.1 311.3L498.2 321.5L499.5 329.2L501.3 336.8L504.1 344.5L506.8 349.6L510.2 354.3L512.7 357L519.5 362.4L523.9 365L529.4 367.5L540.8 371.3L556.1 374.6L574 377.1L597 379.2L622.5 380.7L663.4 382.1L714.5 383.1L867.7 383.9L1054.1 383.2L1120.5 382.3L1171.6 381L1217.5 378.9L1250.7 376L1263.5 374.3L1276.3 372.1L1286.5 369.7L1296.7 366.5L1304.4 363.3L1312 358.8L1317.1 354.7L1321.7 349.6L1325.1 344.5L1328.6 336.8L1330.9 329.2L1332.6 321.5L1333.9 311.3L1334.7 301.1L1334.9 290.8L1334.6 280.6L1333.8 272.9L1332.4 265.3L1330 257.6L1327.3 252.5L1324.8 249L1320.7 244.8L1317.1 242.1L1312 239.2L1306.9 236.9L1299.3 234.3L1291.6 232.4L1281.4 230.4L1258.4 227.5L1225.2 225.1L1184.3 223.5L1130.7 222.4L1043.9 221.5L934.1 221.1L814.1 221.2ZM616.3 1262.2L691.5 1261.1L811.5 1260.7L1005.6 1261.1L1138.4 1261.9L1202.2 1263L1245.6 1264.5L1278.8 1266.7L1291.6 1268L1304.4 1270L1314.6 1272.1L1322.2 1274.4L1327.3 1276.4L1332.5 1279.1L1337.2 1282.6L1340.1 1285.7L1343 1290.3L1345.2 1295.4L1347.2 1303L1348.4 1310.7L1350.3 1333.7L1351.4 1374.6L1351 1387.4L1350.1 1395.1L1347.7 1402.7L1345.2 1406.7L1342.7 1409.3L1340.1 1411.2L1335 1413.9L1324.8 1417.1L1309.5 1419.8L1286.5 1422L1255.8 1423.5L1220.1 1424.5L1112.8 1425.7L895.8 1426.5L717 1426.6L612.3 1425.8L558.7 1424.4L540.8 1423.3L525.5 1422L512.7 1420.1L505.1 1418.3L497.4 1415.6L492.3 1412.5L489.7 1410.1L487.2 1406.2L485.8 1402.7L484.6 1398L483.4 1384.8L483.2 1364.4L483.9 1328.6L484.6 1315.8L485.6 1305.6L486.8 1297.9L488 1292.8L489.9 1287.7L492.9 1282.6L495.2 1280L498.3 1277.5L505.1 1273.7L515.3 1270.3L528 1267.8L543.4 1265.8L563.8 1264.2L586.8 1263ZM589.3 1264.7L566.3 1265.7L548.5 1267L533.1 1268.7L520.4 1270.9L510.2 1273.6L502.5 1277L497.4 1280.5L493.4 1285.2L490.7 1290.3L489 1295.4L487.4 1303L486.5 1310.7L484.9 1338.8L484.5 1374.6L485.2 1390L486.8 1400.2L487.7 1402.7L489.7 1406.8L492.3 1409.8L494.8 1411.9L499.9 1414.6L507.6 1417.1L517.8 1419.2L528 1420.5L543.4 1421.8L561.2 1422.7L614.9 1424.1L729.8 1424.8L936.6 1424.6L1128.2 1423.8L1230.3 1422.5L1266.1 1421.4L1291.6 1419.9L1309.5 1418.1L1324.8 1415.2L1329.9 1413.7L1335 1411.7L1341 1407.9L1343.5 1405.3L1345.2 1402.7L1347.4 1397.6L1348.5 1392.5L1349.5 1382.3L1349.7 1369.5L1348.5 1331.2L1347.6 1318.4L1346.2 1308.2L1345.2 1302.7L1343.1 1295.4L1340.6 1290.3L1337.6 1286L1334 1282.6L1330.3 1280L1324.8 1277.3L1318.3 1274.9L1309.5 1272.7L1301.8 1271.2L1289 1269.4L1276.3 1268.1L1240.5 1265.9L1192 1264.5L1125.6 1263.6L962.2 1262.8L760.4 1262.7L655.7 1263.3Z"/>
<path fill="#00bfff" stroke="#00bfff" stroke-width="0.7" d="M634 216.7L706.8 215.2L816.6 214.4L964.7 214.4L1089.9 215.2L1158.8 216.3L1212.4 218L1253.3 220.5L1281.4 223.8L1299.3 227.3L1306.9 229.5L1314.6 232.5L1319.7 235.2L1324.8 238.7L1328.6 242.3L1332.5 247.4L1335 252.5L1337.5 260.2L1338.9 267.8L1339.6 275.5L1340.1 288.3L1339.9 301.1L1338.9 313.8L1337.6 324.1L1336.1 331.7L1333.9 339.4L1330.8 347.1L1327.3 352.8L1323.7 357.3L1318.2 362.4L1312 366.5L1304.9 370.1L1296.7 373.2L1286.5 376.1L1276.3 378.4L1263.5 380.6L1235.4 383.8L1197.1 386.4L1158.8 387.9L1105.2 389.1L957.1 390.4L770.6 390.2L704.2 389.5L653.2 388.3L622.5 387.1L599.5 385.8L576.6 383.7L558.7 381.4L543.4 378.4L530.6 374.7L520.4 370.3L512.1 365L507.6 360.8L504.7 357.3L501.5 352.2L499.1 347.1L496.6 339.4L494.9 331.7L492.8 313.8L492.1 301.1L492 288.3L492.5 275.5L493.6 265.3L495 257.6L497.4 249.9L499.9 244.9L502.5 241.3L506.6 237.1L510.1 234.6L517.8 230.5L528 226.9L540.8 224L556.1 221.7L576.6 219.6L602.1 218ZM668.5 219.2L630.2 220.2L599.5 221.4L574 223.2L553.6 225.3L538.3 227.9L525.5 231.3L515.3 235.6L510.2 238.8L507.6 240.9L504 244.8L500.8 249.9L498.6 255L497.1 260.2L495.7 267.8L494.8 275.5L494.2 295.9L495.2 316.4L496.4 326.6L497.9 334.3L499.9 341.7L502.5 348L505.1 352.6L508.5 357.3L515.3 363.5L522.9 368.1L534.2 372.6L548.5 376.3L563.8 379L584.2 381.3L607.2 383L635.3 384.4L683.8 385.8L742.5 386.6L918.8 387.1L1084.7 386.1L1143.5 385L1189.4 383.5L1230.3 381.1L1261 377.8L1273.7 375.7L1283.9 373.6L1294.1 370.8L1302.9 367.5L1309.5 364.3L1316.2 359.8L1321.8 354.7L1324.8 351L1327.4 347.1L1330.9 339.4L1333.3 331.7L1335.4 321.5L1336.7 311.3L1337.5 298.5L1337.6 288.3L1337.2 278L1336.4 270.4L1335 262.6L1332.6 255L1330 249.9L1326.1 244.8L1322.2 241.2L1317.1 237.8L1312 235.2L1304.4 232.3L1296.7 230.1L1278.8 226.7L1250.7 223.6L1215 221.4L1169 219.9L1105.2 218.8L1000.5 218L867.7 217.8L752.8 218.2ZM652.9 1259.6L742.5 1258.9L880.4 1258.8L1041.3 1259.3L1156.2 1260.3L1209.9 1261.3L1253.3 1263.1L1283.9 1265.5L1306.9 1268.8L1322.2 1272.6L1328.5 1274.9L1333.5 1277.5L1337.6 1280.3L1342.2 1285.2L1345.2 1290.2L1346.3 1292.8L1347.9 1297.9L1349.8 1308.2L1350.9 1318.4L1351.9 1333.7L1352.7 1356.7L1352.9 1377.2L1352.5 1390L1351.4 1397.6L1350.3 1401.7L1348.7 1405.3L1345.2 1409.9L1342.7 1412L1340.1 1413.6L1335 1416L1329.9 1417.7L1322.2 1419.5L1304.4 1422.2L1281.4 1424.1L1250.7 1425.5L1207.3 1426.6L1084.7 1427.8L847.2 1428.5L696.6 1428.5L602.1 1427.6L556.1 1426.1L538.3 1425L522.9 1423.5L512.7 1421.9L502.5 1419.5L494.8 1416.4L489.7 1412.9L487.2 1409.9L484.8 1405.3L483.5 1400.2L482.5 1392.5L481.9 1369.5L482.6 1331.2L484 1308.2L485.9 1295.4L487.2 1290.3L489.3 1285.2L492.3 1280.6L494.8 1278L499 1274.9L502.5 1273L511 1269.8L525.5 1266.5L540.8 1264.4L561.2 1262.6L586.8 1261.2ZM617.4 1262.1L586.8 1263L563.8 1264.2L543.4 1265.8L528 1267.8L515.3 1270.3L505.1 1273.7L498.3 1277.5L495.2 1280L492.9 1282.6L489.9 1287.7L488 1292.8L486.8 1297.9L485.6 1305.6L484.6 1315.8L483.9 1328.6L483.2 1364.4L483.4 1384.8L484.6 1398L485.8 1402.7L487.2 1406.2L489.7 1410.1L492.3 1412.5L497.4 1415.6L505.1 1418.3L512.7 1420.1L525.5 1422L540.8 1423.3L558.7 1424.4L612.3 1425.8L717 1426.6L895.8 1426.5L1112.8 1425.7L1220.1 1424.5L1255.8 1423.5L1286.5 1422L1309.5 1419.8L1324.8 1417.1L1335 1413.9L1340.1 1411.2L1342.7 1409.3L1345.2 1406.7L1347.7 1402.7L1350.1 1395.1L1351 1387.4L1351.4 1374.6L1350.3 1333.7L1348.4 1310.7L1347.2 1303L1345.2 1295.4L1343 1290.3L1340.1 1285.7L1337.2 1282.6L1332.5 1279.1L1327.3 1276.4L1322.2 1274.4L1314.6 1272.1L1304.4 1270L1291.6 1268L1278.8 1266.7L1245.6 1264.5L1202.2 1263L1138.4 1261.9L1005.6 1261.1L814.1 1260.7L694 1261.1Z"/>
<path fill="#00cfff" stroke="#00cfff" stroke-width="0.7" d="M704.8 211.6L801.3 210.8L923.9 210.6L1038.8 211L1130.7 212.1L1186.9 213.4L1230.3 215.4L1263.5 218L1289 221.6L1299.3 223.8L1306.9 225.9L1314.6 228.7L1319.7 231.2L1324.8 234.3L1329.9 238.6L1333 242.3L1336.1 247.4L1338.3 252.5L1340.3 260.2L1341.7 270.4L1342.3 280.6L1342.4 293.4L1341.9 306.2L1340.7 318.9L1339.2 329.2L1337.5 336.8L1335 344.5L1331.2 352.2L1327.3 357.7L1322.2 363L1316.2 367.5L1309.5 371.3L1299.3 375.5L1289 378.6L1276.3 381.5L1263.5 383.7L1248.2 385.7L1212.4 388.8L1166.5 391L1115.4 392.4L1046.4 393.4L870.2 394.2L722.1 393.3L668.5 392.3L627.6 390.8L599.5 389.1L576.6 387L556.1 384.2L540.8 381L528 377L517.8 372.4L510.2 367.3L505.1 362.4L502.5 359.1L499.8 354.7L496.4 347.1L494.2 339.4L492.3 329.2L491.1 318.9L490.3 306.2L490 293.4L490.1 280.6L491.6 262.7L493 255L494.8 248.7L497.4 243.1L499.9 239.2L502.5 236.3L507.6 232.1L512.7 229L517.4 226.9L528 223.4L543.4 220.1L563.8 217.3L589.3 215.2L620 213.6L658.3 212.4ZM635.3 216.7L602.1 218L576.6 219.6L556.1 221.7L540.8 224L528 226.9L517.8 230.5L510.1 234.6L506.6 237.1L502.5 241.3L499.9 244.9L497.4 249.9L495 257.6L493.6 265.3L492.5 275.5L492 288.3L492.1 301.1L492.8 313.8L494.9 331.7L496.6 339.4L499.1 347.1L501.5 352.2L504.7 357.3L507.6 360.8L512.1 365L520.4 370.3L530.6 374.7L543.4 378.4L558.7 381.4L576.6 383.7L599.5 385.8L622.5 387.1L653.2 388.3L704.2 389.5L770.6 390.2L957.1 390.4L1105.2 389.1L1158.8 387.9L1197.1 386.4L1235.4 383.8L1263.5 380.6L1276.3 378.4L1286.5 376.1L1296.7 373.2L1304.9 370.1L1312 366.5L1318.2 362.4L1323.7 357.3L1327.3 352.8L1330.8 347.1L1333.9 339.4L1336.1 331.7L1337.6 324.1L1338.9 313.8L1339.9 301.1L1340.1 288.3L1339.6 275.5L1338.9 267.8L1337.5 260.2L1335 252.5L1332.5 247.4L1328.6 242.3L1324.8 238.7L1319.7 235.2L1314.6 232.5L1306.9 229.5L1299.3 227.3L1281.4 223.8L1253.3 220.5L1212.4 218L1158.8 216.3L1089.9 215.2L964.7 214.4L816.6 214.4L709.3 215.2ZM696.1 1257L801.3 1256.6L946.8 1256.8L1084.7 1257.5L1169 1258.5L1222.6 1259.9L1258.4 1261.6L1289 1264.4L1301.8 1266.2L1312 1268.1L1319.7 1270.1L1326.7 1272.4L1332.5 1274.9L1336.9 1277.5L1340.2 1280L1344.5 1285.2L1346 1287.7L1348.2 1292.8L1350.2 1300.5L1351.4 1308.2L1352.6 1320.9L1353.3 1333.7L1354.4 1379.7L1353.9 1392.5L1352.9 1399.5L1351 1405.3L1349.6 1407.9L1347.6 1410.4L1342.7 1414.4L1337.6 1417L1332.5 1418.8L1319.7 1421.8L1299.3 1424.5L1271.2 1426.5L1238 1427.8L1189.4 1428.8L1056.7 1430L826.8 1430.7L683.8 1430.5L599.5 1429.6L548.5 1427.6L533.1 1426.5L517.8 1424.7L505.1 1422.2L497.4 1419.7L492.3 1417.2L489.7 1415.4L487.2 1413L484.6 1409.1L483.2 1405.3L482 1400.2L481.1 1390L480.9 1354.2L482.1 1315.8L484 1297.9L486.5 1287.7L488.9 1282.6L490.6 1280L492.9 1277.5L496 1274.9L499.9 1272.4L505.1 1270.1L517.8 1266.3L533.1 1263.5L553.6 1261.3L576.6 1259.8L609.8 1258.4ZM653.2 1259.6L586.8 1261.2L561.2 1262.6L540.8 1264.4L525.5 1266.5L511 1269.8L502.5 1273L499 1274.9L494.8 1278L492.3 1280.6L489.3 1285.2L487.2 1290.3L485.9 1295.4L484 1308.2L482.6 1331.2L481.9 1369.5L482.5 1392.5L483.5 1400.2L484.8 1405.3L487.2 1409.9L489.7 1412.9L494.8 1416.4L502.5 1419.5L512.7 1421.9L522.9 1423.5L538.3 1425L556.1 1426.1L602.1 1427.6L696.6 1428.5L847.2 1428.5L1084.7 1427.8L1207.3 1426.6L1250.7 1425.5L1281.4 1424.1L1304.4 1422.2L1322.2 1419.5L1329.9 1417.7L1335 1416L1340.1 1413.6L1342.7 1412L1345.2 1409.9L1348.7 1405.3L1350.3 1401.7L1351.4 1397.6L1352.5 1390L1352.9 1377.2L1352.7 1356.7L1351.9 1333.7L1350.9 1318.4L1349.8 1308.2L1347.9 1297.9L1346.3 1292.8L1345.2 1290.2L1342.2 1285.2L1337.6 1280.3L1333.5 1277.5L1328.5 1274.9L1322.2 1272.6L1306.9 1268.8L1283.9 1265.5L1253.3 1263.1L1209.9 1261.3L1156.2 1260.3L1041.3 1259.3L880.4 1258.8L742.5 1258.9Z"/>
<path fill="#00dfff" stroke="#00dfff" stroke-width="0.7" d="M640.9 209L717 207.4L829.4 206.6L974.9 206.6L1095 207.6L1163.9 208.9L1217.5 210.9L1255.8 213.6L1271.2 215.3L1286.5 217.6L1296.7 219.6L1306.9 222.3L1314.6 225L1322.2 228.6L1327.3 231.8L1332.5 236.3L1335.3 239.7L1338.3 244.8L1340.5 249.9L1342.7 258.6L1343.9 267.8L1344.5 278L1344.6 290.8L1344.1 306.2L1343 318.9L1341.6 329.2L1339.3 339.4L1336.7 347.1L1332.9 354.7L1329.9 359.1L1324.8 364.6L1319.7 368.7L1314.6 371.9L1306.9 375.7L1296.7 379.6L1286.5 382.5L1276.3 384.8L1261 387.4L1245.6 389.4L1227.8 391.2L1186.9 393.8L1146 395.4L1089.9 396.7L939.2 398L765.5 397.7L701.7 396.9L653.2 395.6L622.5 394.2L594.4 392.3L574 390.2L556.1 387.5L540.8 384.2L528 380.3L517.8 375.8L512.7 372.8L509 370.1L503.7 365L499.9 360.1L497.4 355.6L494.8 349.7L492.6 342L491 334.3L489 316.4L488.2 301.1L488.1 285.7L488.5 272.9L489.7 260.2L491.1 252.5L493.4 244.8L495.8 239.7L499.5 234.6L505.2 229.5L510.2 226.4L515.3 224L525.5 220.4L540.8 216.9L556.1 214.6L579.1 212.2L607.2 210.4ZM706.8 211.6L658.3 212.4L620 213.6L589.3 215.2L563.8 217.3L543.4 220.1L528 223.4L517.4 226.9L512.7 229L507.6 232.1L502.5 236.3L499.9 239.2L497.4 243.1L494.8 248.7L493 255L491.6 262.7L490.1 280.6L490 293.4L490.3 306.2L491.1 318.9L492.3 329.2L494.2 339.4L496.4 347.1L499.8 354.7L502.5 359.1L505.1 362.4L510.2 367.3L517.8 372.4L528 377L540.8 381L556.1 384.2L576.6 387L599.5 389.1L627.6 390.8L668.5 392.3L722.1 393.3L870.2 394.2L1046.4 393.4L1115.4 392.4L1166.5 391L1212.4 388.8L1248.2 385.7L1263.5 383.7L1276.3 381.5L1289 378.6L1299.3 375.5L1309.5 371.3L1316.2 367.5L1322.2 363L1327.3 357.7L1331.2 352.2L1335 344.5L1337.5 336.8L1339.2 329.2L1340.7 318.9L1341.9 306.2L1342.4 293.4L1342.3 280.6L1341.7 270.4L1340.3 260.2L1338.3 252.5L1336.1 247.4L1333 242.3L1329.9 238.6L1324.8 234.3L1319.7 231.2L1314.6 228.7L1306.9 225.9L1299.3 223.8L1289 221.6L1263.5 218L1230.3 215.4L1186.9 213.4L1130.7 212.1L1038.8 211L923.9 210.6L801.3 210.8ZM726.5 1254.5L839.6 1254.2L987.7 1254.6L1095 1255.3L1169 1256.3L1222.6 1257.8L1261 1259.9L1291.6 1262.9L1312 1266.4L1319.7 1268.4L1327.3 1270.9L1332.5 1273L1337.6 1275.9L1342.7 1280L1345.2 1283L1348 1287.7L1350 1292.8L1351.8 1300.5L1352.9 1308.2L1354.8 1336.3L1355.8 1382.3L1355.5 1392.5L1354.5 1400.2L1353.1 1405.3L1350.3 1410.3L1347.8 1413.1L1344.6 1415.5L1339.8 1418.1L1332.5 1420.8L1317.1 1424.2L1294.1 1426.9L1263.5 1428.9L1227.8 1430.2L1174.1 1431.2L1031.1 1432.4L803.8 1433.1L673.6 1432.8L594.4 1431.7L545.9 1429.6L528 1428L515.3 1426.2L505.1 1424.1L494.8 1420.7L489.7 1417.8L487.2 1415.7L484.6 1412.6L482.3 1407.9L481 1402.7L480.2 1395.1L479.8 1387.4L480.1 1341.4L480.8 1320.9L481.8 1305.6L483.6 1292.8L485 1287.7L487.1 1282.6L490.7 1277.5L493.3 1274.9L496.8 1272.4L502.5 1269.4L507.6 1267.4L520.4 1264L538.3 1261L561.2 1258.7L591.9 1256.9L625.1 1255.8ZM696.6 1257L609.8 1258.4L576.6 1259.8L553.6 1261.3L533.1 1263.5L517.8 1266.3L505.1 1270.1L499.9 1272.4L496 1274.9L492.9 1277.5L490.6 1280L488.9 1282.6L486.5 1287.7L484 1297.9L482.1 1315.8L480.9 1354.2L481.1 1390L482 1400.2L483.2 1405.3L484.6 1409.1L487.2 1413L489.7 1415.4L492.3 1417.2L497.4 1419.7L505.1 1422.2L517.8 1424.7L533.1 1426.5L548.5 1427.6L599.5 1429.6L683.8 1430.5L826.8 1430.7L1056.7 1430L1189.4 1428.8L1238 1427.8L1271.2 1426.5L1299.3 1424.5L1319.7 1421.8L1332.5 1418.8L1337.6 1417L1342.7 1414.4L1347.6 1410.4L1349.6 1407.9L1351 1405.3L1352.9 1399.5L1353.9 1392.5L1354.4 1379.7L1353.3 1333.7L1352.6 1320.9L1351.4 1308.2L1350.2 1300.5L1348.2 1292.8L1346 1287.7L1344.5 1285.2L1340.2 1280L1336.9 1277.5L1332.5 1274.9L1326.7 1272.4L1319.7 1270.1L1312 1268.1L1301.8 1266.2L1289 1264.4L1258.4 1261.6L1222.6 1259.9L1169 1258.5L1084.7 1257.5L946.8 1256.8L801.3 1256.6Z"/>
<path fill="#00efff" stroke="#00efff" stroke-width="0.7" d="M669.6 203.9L755.3 202.5L872.8 202L1005.6 202.3L1110.3 203.4L1176.7 205L1225.2 207.2L1263.5 210.5L1278.8 212.5L1291.6 214.7L1301.8 217L1312 220.1L1319.7 223.3L1324.8 225.9L1329.9 229.4L1335 234.1L1339.1 239.7L1341.6 244.8L1343.3 249.9L1345.2 259L1346.2 267.8L1346.7 280.6L1346.6 295.9L1345.8 311.3L1344.5 324.1L1342.9 334.3L1340.3 344.5L1337.6 351.5L1334.5 357.3L1329.9 363.4L1324.8 368.4L1317.1 373.8L1309.5 377.9L1301.8 381L1291.6 384.4L1278.8 387.6L1266.1 390L1250.7 392.3L1232.9 394.4L1212.4 396.2L1166.5 398.7L1120.5 400.3L1056.7 401.5L898.3 402.5L814.1 402.4L745.1 401.8L691.5 400.9L645.5 399.4L614.9 397.7L591.9 395.9L571.4 393.5L551 390.1L535.7 386.2L522.9 381.6L512.7 376.3L504.8 370.1L500.2 365L497.4 360.7L494.4 354.7L491.7 347.1L489.7 338.4L488.4 329.2L486.6 306.2L486.3 290.8L486.5 275.5L487.3 262.7L488.7 252.5L490.6 244.8L492.5 239.7L495.4 234.6L499.7 229.5L502.7 226.9L507.6 223.7L512.7 221.1L520.4 218.1L533.1 214.6L551 211.3L574 208.6L597 206.8L630.2 205.1ZM643 209L609.8 210.3L581.7 212L558.7 214.2L540.8 216.9L525.5 220.4L515.3 224L510.2 226.4L505.2 229.5L499.5 234.6L495.8 239.7L493.4 244.8L491.1 252.5L489.7 260.2L488.5 272.9L488.1 285.7L488.2 301.1L488.8 313.8L489.7 325L491 334.3L492.6 342L494.8 349.6L497.4 355.6L499.9 360.1L503.7 365L507.6 368.9L515.3 374.4L525.5 379.3L538.3 383.6L553.6 387.1L571.4 389.9L591.9 392.1L617.4 393.9L648.1 395.4L696.6 396.8L757.9 397.7L929 398.1L1015.8 397.6L1084.7 396.8L1143.5 395.5L1184.3 394L1225.2 391.4L1258.4 387.8L1271.2 385.7L1283.9 383.1L1294.1 380.4L1304.4 376.8L1312 373.3L1319.7 368.7L1324.8 364.6L1329.9 359.1L1332.9 354.7L1336.7 347.1L1339.3 339.4L1341.6 329.2L1343 318.9L1344.1 306.2L1344.6 290.8L1344.5 278L1343.9 267.8L1342.7 258.6L1340.5 249.9L1338.3 244.8L1335.3 239.7L1332.5 236.3L1327.3 231.8L1322.2 228.6L1314.6 225L1306.9 222.3L1296.7 219.6L1286.5 217.6L1271.2 215.3L1255.8 213.6L1217.5 210.9L1163.9 208.9L1097.5 207.6L977.5 206.7L831.9 206.6L719.6 207.4ZM710.4 1251.9L814.1 1251.5L954.5 1251.8L1082.2 1252.6L1166.5 1253.8L1220.1 1255.4L1261 1257.8L1291.6 1261.1L1304.4 1263.1L1314.6 1265.3L1322.2 1267.4L1329.9 1270.1L1335 1272.5L1340.1 1275.6L1345.1 1280L1347.1 1282.6L1349.9 1287.7L1351.6 1292.8L1353.3 1300.5L1354.6 1310.7L1356.3 1338.8L1357.2 1384.8L1356.8 1395.1L1355.7 1402.7L1353.9 1407.9L1352.6 1410.4L1350.3 1413.3L1347.9 1415.5L1344.1 1418.1L1338.6 1420.6L1332.5 1422.7L1324.8 1424.7L1314.6 1426.6L1289 1429.5L1258.4 1431.4L1220.1 1432.7L1166.5 1433.7L1023.5 1435L806.4 1435.7L678.7 1435.5L599.5 1434.3L551 1432.3L530.6 1430.5L517.8 1428.8L507.6 1426.9L497.4 1423.9L489.7 1420.1L487.2 1418.3L484.5 1415.5L482.1 1411.6L480.7 1407.9L479.5 1401.7L478.9 1392.5L478.9 1349.1L479.4 1326.1L480.2 1310.7L481.9 1295.4L484.4 1285.2L486.9 1280L488.7 1277.5L491 1274.9L494.8 1271.8L499.9 1268.8L505.1 1266.6L517.8 1262.8L528 1260.6L538.3 1259L558.7 1256.8L584.2 1254.9L620 1253.4L658.3 1252.5ZM727.2 1254.5L625.1 1255.8L591.9 1256.9L561.2 1258.7L538.3 1261L520.4 1264L507.6 1267.4L502.5 1269.4L496.8 1272.4L493.3 1274.9L490.7 1277.5L487.1 1282.6L485 1287.7L483.6 1292.8L481.8 1305.6L480.8 1320.9L480.1 1341.4L479.8 1387.4L480.2 1395.1L481 1402.7L482.3 1407.9L484.6 1412.6L487.2 1415.7L489.7 1417.8L494.8 1420.7L505.1 1424.1L515.3 1426.2L528 1428L545.9 1429.6L594.4 1431.7L673.6 1432.8L803.8 1433.1L1031.1 1432.4L1174.1 1431.2L1227.8 1430.2L1263.5 1428.9L1294.1 1426.9L1317.1 1424.2L1332.5 1420.8L1339.8 1418.1L1344.6 1415.5L1347.8 1413.1L1350.3 1410.3L1353.1 1405.3L1354.5 1400.2L1355.5 1392.5L1355.8 1382.3L1354.8 1336.3L1352.9 1308.2L1351.8 1300.5L1350 1292.8L1348 1287.7L1345.2 1283L1342.7 1280L1337.6 1275.9L1332.5 1273L1327.3 1270.9L1319.7 1268.4L1312 1266.4L1291.6 1262.9L1261 1259.9L1222.6 1257.8L1169 1256.3L1095 1255.3L987.7 1254.6L839.6 1254.2Z"/>
<path fill="#00ffff" stroke="#00ffff" stroke-width="0.7" d="M677.2 198.8L763 197.4L880.4 196.8L1005.6 197.1L1107.7 198.4L1174.1 200.1L1225.2 202.6L1261 205.8L1276.3 207.8L1291.6 210.6L1301.8 212.9L1312 216.1L1319.7 219.1L1327.3 223.2L1332.5 226.9L1337.6 231.9L1341.2 237.1L1343.6 242.3L1346 249.9L1347.4 257.6L1348.3 267.8L1348.8 280.6L1348.6 295.9L1347.8 312L1346.3 326.6L1344.5 336.8L1341.8 347.1L1338.7 354.7L1335 361.1L1329.9 367.3L1324.8 371.9L1317.1 377.2L1309.5 381.1L1299.3 385.3L1286.5 389.2L1273.7 392.2L1261 394.6L1243.1 397.2L1222.6 399.4L1202.2 401.1L1153.7 403.8L1105.2 405.3L1041.3 406.5L967.3 407.2L883 407.5L806.4 407.3L742.5 406.7L686.4 405.5L645.5 403.9L614.9 402.1L589.3 399.8L568.9 397.1L551 393.8L533.1 389L520.4 383.9L510.2 378.1L502.5 371.6L497.4 365.3L494.8 361L492 354.7L489.7 347.4L488 339.4L486.6 329.2L484.8 303.6L484.6 288.3L484.9 272.9L485.7 260.2L487 249.9L488.7 242.3L490.5 237.1L493.2 232L497.4 226.8L500.1 224.4L505.1 220.8L510.2 218L517.8 214.8L533.1 210.3L551 207L571.4 204.4L599.5 202L635.3 200.1ZM671 203.9L630.2 205.1L597 206.8L574 208.6L551 211.3L533.1 214.6L520.4 218.1L512.7 221.1L507.6 223.7L502.7 226.9L499.7 229.5L495.4 234.6L492.5 239.7L490.6 244.8L488.7 252.5L487.3 262.7L486.5 275.5L486.3 290.8L486.6 306.2L488.4 329.2L489.7 338.4L491.7 347.1L494.4 354.7L497.4 360.7L500.2 365L504.8 370.1L512.7 376.3L522.9 381.6L535.7 386.2L551 390.1L571.4 393.5L591.9 395.9L614.9 397.7L645.5 399.4L691.5 400.9L745.1 401.8L814.1 402.4L898.3 402.5L1056.7 401.5L1120.5 400.3L1166.5 398.7L1212.4 396.2L1232.9 394.4L1250.7 392.3L1266.1 390L1278.8 387.6L1291.6 384.4L1301.8 381L1309.5 377.9L1317.1 373.8L1324.8 368.4L1329.9 363.4L1334.5 357.3L1337.6 351.5L1340.3 344.5L1342.9 334.3L1344.5 324.1L1345.8 311.3L1346.6 295.9L1346.7 280.6L1346.2 267.8L1345.2 259L1343.3 249.9L1341.6 244.8L1339.1 239.7L1335 234.1L1329.9 229.4L1324.8 225.9L1319.7 223.3L1312 220.1L1301.8 217L1291.6 214.7L1278.8 212.5L1263.5 210.5L1225.2 207.2L1176.7 205L1110.3 203.4L1005.6 202.3L875.3 202L757.9 202.5ZM670.5 1249.4L763 1248.5L895.8 1248.5L1038.8 1249.2L1151.1 1250.6L1212.4 1252.5L1253.3 1254.9L1286.5 1258.3L1301.8 1260.8L1312 1262.9L1327.3 1267.4L1335 1270.7L1340.1 1273.6L1345 1277.5L1347.8 1280.7L1350.5 1285.2L1352.5 1290.3L1354.3 1297.9L1355.4 1305.6L1357.2 1331.2L1358.6 1382.3L1358.3 1395.1L1357.3 1402.7L1355.9 1407.9L1354.7 1410.4L1353.1 1413L1350.8 1415.5L1347.7 1418.1L1342.7 1421L1335 1424L1319.7 1427.8L1301.8 1430.5L1271.2 1433.1L1230.3 1435L1174.1 1436.4L1038.8 1437.8L819.2 1438.8L694 1438.6L607.2 1437.4L579.1 1436.5L553.6 1435.1L538.3 1433.8L520.4 1431.6L507.6 1429.2L497.4 1426.1L489.7 1422.5L484.6 1418.5L482.1 1415.2L479.9 1410.4L478.7 1405.3L478 1397.6L477.7 1364.4L478.8 1318.4L480.1 1300.5L482.3 1287.7L485.3 1280L487.2 1277L491.5 1272.4L494.8 1269.9L499.9 1267L510.2 1263L517.8 1260.8L528 1258.6L545.9 1255.8L571.4 1253.2L599.5 1251.5L630.2 1250.3ZM711.9 1251.9L660.8 1252.5L620 1253.4L584.2 1254.9L558.7 1256.8L538.3 1259L528 1260.6L517.8 1262.8L505.1 1266.6L499.9 1268.8L494.8 1271.8L491 1274.9L488.7 1277.5L486.9 1280L484.4 1285.2L481.9 1295.4L480.2 1310.7L479.4 1326.1L478.9 1349.1L478.9 1392.5L479.5 1401.7L480.7 1407.9L482.1 1411.6L484.5 1415.5L487.2 1418.3L489.7 1420.1L497.4 1423.9L507.6 1426.9L517.8 1428.8L530.6 1430.5L551 1432.3L599.5 1434.3L678.7 1435.5L806.4 1435.7L1023.5 1435L1166.5 1433.7L1220.1 1432.7L1258.4 1431.4L1289 1429.5L1314.6 1426.6L1324.8 1424.7L1332.5 1422.7L1338.6 1420.6L1344.1 1418.1L1347.9 1415.5L1350.3 1413.3L1352.6 1410.4L1353.9 1407.9L1355.7 1402.7L1356.8 1395.1L1357.2 1384.8L1356.3 1338.8L1354.6 1310.7L1353.3 1300.5L1351.6 1292.8L1349.9 1287.7L1347.1 1282.6L1345.1 1280L1340.1 1275.6L1335 1272.5L1329.9 1270.1L1322.2 1267.4L1314.6 1265.3L1304.4 1263.1L1291.6 1261.1L1261 1257.8L1220.1 1255.4L1166.5 1253.8L1082.2 1252.6L954.5 1251.8L816.6 1251.5Z"/>
<path fill="#10ffef" stroke="#10ffef" stroke-width="0.7" d="M794.5 191.1L895.8 190.7L1000.5 191.1L1089.9 192.2L1158.8 194L1212.4 196.5L1248.2 199.4L1276.3 203L1289 205.4L1301.8 208.4L1309.5 210.7L1319.7 214.7L1327.3 218.7L1332.5 222.2L1337.6 226.7L1341.8 232L1344.6 237.1L1346.6 242.3L1348.5 249.9L1349.9 260.2L1350.6 272.9L1350.7 288.3L1350.1 306.2L1348.9 321.5L1347.1 334.3L1344.9 344.5L1341.3 354.7L1337.6 361.7L1332.5 368.4L1324.8 375.4L1317.1 380.5L1306.9 385.7L1296.7 389.6L1281.4 394.2L1268.6 397.2L1250.7 400.4L1232.9 402.8L1209.9 405.2L1184.3 407.2L1153.7 408.9L1087.3 411.2L1026 412.3L954.5 413L872.8 413.3L798.7 413L742.5 412.3L696.6 411.2L655.7 409.7L620 407.5L594.4 405.1L571.4 401.9L551 397.9L535.7 393.6L522.9 388.7L515.3 384.8L510.2 381.6L502.3 375.2L497.8 370.1L494.8 365.7L490.8 357.3L488.3 349.6L486.7 342L484.9 329.2L483.7 313.8L483.1 295.9L483.2 275.5L483.9 260.2L484.9 249.9L486.2 242.3L487.6 237.1L489.7 231.8L492.3 227.5L494.8 224.2L499.9 219.5L505.1 216.1L510.2 213.3L517.8 210.1L525.5 207.6L535.7 205L548.5 202.5L561.2 200.5L589.3 197.5L625.1 195.1L671 193.2L724.7 192ZM678.7 198.8L637.8 200L602.1 201.9L571.4 204.4L551 207L533.1 210.3L517.8 214.8L510.2 218L505.1 220.8L500.1 224.4L497.4 226.8L493.2 232L490.5 237.1L488.7 242.3L487 249.9L485.7 260.2L484.9 272.9L484.6 288.3L484.8 303.6L486.6 329.2L488 339.4L489.7 347.4L492 354.7L494.8 361L497.4 365.3L502.5 371.6L510.2 378.1L520.4 383.9L533.1 389L551 393.8L568.9 397.1L589.3 399.8L614.9 402.1L645.5 403.9L686.4 405.5L742.5 406.7L806.4 407.3L883 407.5L967.3 407.2L1041.3 406.5L1105.2 405.3L1153.7 403.8L1202.2 401.1L1222.6 399.4L1243.1 397.2L1261 394.6L1273.7 392.2L1286.5 389.2L1299.3 385.3L1309.5 381.1L1317.1 377.2L1324.8 371.9L1329.9 367.3L1335 361.1L1338.7 354.7L1341.8 347.1L1344.5 336.8L1346.3 326.6L1347.8 312L1348.6 295.9L1348.8 280.6L1348.3 267.8L1347.4 257.6L1346 249.9L1343.6 242.3L1341.2 237.1L1337.6 231.9L1332.5 226.9L1327.3 223.2L1319.7 219.1L1312 216.1L1301.8 212.9L1291.6 210.6L1276.3 207.8L1261 205.8L1225.2 202.6L1174.1 200.1L1107.7 198.4L1005.6 197.1L880.4 196.8L765.5 197.4ZM633.5 1246.8L711.9 1245.1L831.9 1244.6L1005.6 1245.3L1130.7 1246.9L1189.4 1248.5L1238 1251.1L1261 1253L1278.8 1255L1296.7 1257.8L1306.9 1259.9L1319.7 1263.1L1327.3 1265.7L1335 1268.9L1340.1 1271.7L1344.5 1274.9L1347.8 1278.1L1350.9 1282.6L1353.2 1287.7L1355.2 1295.4L1356.4 1303L1358.4 1328.6L1359.8 1384.8L1359.5 1397.6L1358.4 1405.3L1356.7 1410.4L1353.5 1415.5L1350.3 1418.6L1345.2 1421.9L1340.1 1424.3L1332.5 1427L1322.2 1429.6L1314.6 1431L1289 1434.4L1258.4 1436.7L1222.6 1438.3L1163.9 1439.8L1008.1 1441.5L814.1 1442.4L691.5 1442.2L609.8 1440.9L584.2 1440L561.2 1438.7L540.8 1437L522.9 1434.8L510.2 1432.3L499.9 1429.5L492.3 1426.4L487.2 1423.4L484.6 1421.3L481.8 1418.1L479.5 1414L477.8 1407.9L477.2 1402.7L476.6 1384.8L476.9 1346.5L477.9 1315.8L479.6 1295.4L482.1 1284.2L484.6 1278.4L487.2 1274.7L492.3 1269.8L497.4 1266.5L502.5 1264L510.2 1261.1L517.8 1258.8L533.1 1255.3L551 1252.6L574 1250.1L602.1 1248.1ZM671 1249.4L630.2 1250.3L599.5 1251.5L571.4 1253.2L545.9 1255.8L528 1258.6L517.8 1260.8L510.2 1263L499.9 1267L494.8 1269.9L491.5 1272.4L487.2 1277L485.3 1280L482.3 1287.7L480.1 1300.5L478.8 1318.4L477.7 1364.4L478 1397.6L478.7 1405.3L479.9 1410.4L482.1 1415.2L484.6 1418.5L489.7 1422.5L497.4 1426.1L507.6 1429.2L520.4 1431.6L538.3 1433.8L553.6 1435.1L579.1 1436.5L607.2 1437.4L694 1438.6L819.2 1438.8L1038.8 1437.8L1174.1 1436.4L1230.3 1435L1271.2 1433.1L1301.8 1430.5L1319.7 1427.8L1335 1424L1342.7 1421L1347.7 1418.1L1350.8 1415.5L1353.1 1413L1354.7 1410.4L1355.9 1407.9L1357.3 1402.7L1358.3 1395.1L1358.6 1382.3L1357.2 1331.2L1355.4 1305.6L1354.3 1297.9L1352.5 1290.3L1350.5 1285.2L1347.8 1280.7L1345 1277.5L1340.1 1273.6L1335 1270.7L1327.3 1267.4L1312 1262.9L1301.8 1260.8L1286.5 1258.3L1253.3 1254.9L1212.4 1252.5L1151.1 1250.6L1038.8 1249.2L895.8 1248.5L763 1248.5Z"/>
<path fill="#20ffdf" stroke="#20ffdf" stroke-width="0.7" d="M852.4 183.5L952 183.5L1041.3 184.3L1112.8 185.7L1174.1 187.9L1220.1 190.7L1240.5 192.6L1258.4 194.7L1273.7 197L1286.5 199.5L1299.3 202.5L1309.5 205.7L1317.1 208.6L1324.8 212.3L1332.5 217.1L1337.6 221.4L1342.3 226.9L1345.2 231.5L1347.8 237.1L1349.3 242.3L1351.2 252.5L1352.3 265.3L1352.6 280.6L1352.2 298.5L1351.2 316.4L1349.9 329.2L1347.8 341.3L1345.2 350.6L1342.7 357.2L1340.1 362.1L1335 369.3L1327.3 376.9L1319.7 382.4L1306.9 389.2L1294.1 394.3L1278.8 399L1263.5 402.7L1243.1 406.4L1222.6 409.2L1197.1 411.9L1171.6 413.8L1143.5 415.5L1105.2 417.1L1023.5 419.1L890.7 420.2L824.3 420L765.5 419.4L717 418.4L678.7 417.1L643 415.1L612.3 412.6L586.8 409.5L563.8 405.4L545.9 401.1L530.6 395.9L517.8 390L507.6 383.4L502.5 379.1L498.8 375.2L494.8 370L491.9 365L488.7 357.3L485.9 347.1L484.2 336.8L482.6 321.5L481.8 303.6L481.5 280.6L482.1 261.4L483.3 247.4L484.4 239.7L485.6 234.6L487.4 229.5L490.1 224.4L492.3 221.3L497.4 216.1L502.5 212.3L510.2 208.1L517.8 204.9L525.5 202.3L535.7 199.5L548.5 196.8L576.6 192.6L609.8 189.5L653.2 187.1L706.8 185.3L773.2 184.1ZM796.2 191.1L727.2 191.9L673.6 193.2L627.6 194.9L589.3 197.5L561.2 200.5L548.5 202.5L535.7 205L525.5 207.6L517.8 210.1L510.2 213.3L505.1 216.1L499.9 219.5L494.8 224.2L492.3 227.5L489.7 231.8L487.6 237.1L486.2 242.3L484.9 249.9L483.9 260.2L483.2 275.5L483.1 295.9L483.7 313.8L484.9 329.2L486.7 342L488.3 349.6L490.8 357.3L494.8 365.7L497.8 370.1L502.3 375.2L510.2 381.6L515.3 384.8L522.9 388.7L535.7 393.6L551 397.9L571.4 401.9L594.4 405.1L620 407.5L655.7 409.7L696.6 411.2L742.5 412.3L798.7 413L872.8 413.3L954.5 413L1026 412.3L1087.3 411.2L1153.7 408.9L1184.3 407.2L1209.9 405.2L1232.9 402.8L1250.7 400.4L1268.6 397.2L1281.4 394.2L1296.7 389.6L1306.9 385.7L1317.1 380.5L1324.8 375.4L1332.5 368.4L1337.6 361.7L1341.3 354.7L1344.9 344.5L1347.1 334.3L1348.9 321.5L1350.1 306.2L1350.7 288.3L1350.6 272.9L1349.9 260.2L1348.5 249.9L1346.6 242.3L1344.6 237.1L1341.8 232L1337.6 226.7L1332.5 222.2L1327.3 218.7L1319.7 214.7L1309.5 210.7L1301.8 208.4L1289 205.4L1276.3 203L1248.2 199.4L1212.4 196.5L1158.8 194L1089.9 192.2L1000.5 191.1L898.3 190.7ZM662.3 1241.7L745.1 1240.3L867.7 1240L1015.8 1240.9L1130.7 1242.8L1194.6 1245.1L1240.5 1248L1263.5 1250.4L1278.8 1252.4L1294.1 1255L1306.9 1257.8L1317.1 1260.5L1327.3 1263.9L1335 1267.1L1340.1 1269.9L1345.2 1273.5L1349.3 1277.5L1352.6 1282.6L1354.7 1287.7L1356.6 1295.4L1358 1305.2L1359.8 1333.7L1361.1 1390L1360.7 1400.2L1359.4 1407.9L1358 1411.8L1355.4 1416.1L1350.3 1421.1L1345.2 1424.3L1337.6 1427.7L1329.9 1430.2L1319.7 1432.7L1306.9 1435.1L1281.4 1438.2L1245.6 1440.8L1199.7 1442.7L1133.3 1444.2L992.8 1445.8L798.7 1446.9L691.5 1446.6L612.3 1445.2L586.8 1444.1L558.7 1442.3L538.3 1440.3L522.9 1438L510.2 1435.4L499.9 1432.4L489.7 1427.8L483.6 1423.2L481.3 1420.6L478.4 1415.5L477 1410.7L476.2 1405.3L475.6 1384.8L476.3 1333.7L477.3 1308.2L479.3 1290.3L480.6 1285.2L482.3 1280L484.6 1275.8L487.3 1272.4L489.9 1269.8L494.8 1266.2L499.9 1263.3L507.6 1260L522.9 1255.1L543.4 1250.8L563.8 1247.8L591.9 1245.1L625.1 1243ZM635.3 1246.7L602.1 1248.1L574 1250.1L551 1252.6L533.1 1255.3L517.8 1258.8L510.2 1261.1L502.5 1264L497.4 1266.5L492.3 1269.8L487.2 1274.7L484.6 1278.4L482.1 1284.2L479.6 1295.4L477.9 1315.8L476.9 1346.5L476.6 1384.8L477.2 1402.7L477.8 1407.9L479.5 1414L481.8 1418.1L484.6 1421.3L487.2 1423.4L492.3 1426.4L499.9 1429.5L510.2 1432.3L522.9 1434.8L540.8 1437L561.2 1438.7L584.2 1440L609.8 1440.9L691.5 1442.2L814.1 1442.4L1008.1 1441.5L1163.9 1439.8L1222.6 1438.3L1258.4 1436.7L1289 1434.4L1314.6 1431L1322.2 1429.6L1332.5 1427L1340.1 1424.3L1345.2 1421.9L1350.3 1418.6L1353.5 1415.5L1356.7 1410.4L1358.4 1405.3L1359.5 1397.6L1359.8 1384.8L1358.4 1328.6L1356.4 1303L1355.2 1295.4L1353.2 1287.7L1350.9 1282.6L1347.8 1278.1L1344.5 1274.9L1340.1 1271.7L1335 1268.9L1327.3 1265.7L1319.7 1263.1L1306.9 1259.9L1296.7 1257.8L1278.8 1255L1261 1253L1240.5 1251.3L1192 1248.6L1133.3 1247L1010.7 1245.3L837 1244.6L714.5 1245.1Z"/>
<path fill="#30ffcf" stroke="#30ffcf" stroke-width="0.7" d="M731.5 175.8L824.3 174.3L934.1 174.1L1033.7 175L1120.5 177.1L1181.8 180L1207.3 181.9L1230.3 184L1250.7 186.5L1268.6 189.3L1283.9 192.4L1296.7 195.6L1309.5 199.7L1317.1 202.8L1324.8 206.7L1332.5 211.5L1337.6 215.7L1342.7 221.2L1346.5 226.9L1349.9 234.6L1352.4 244.8L1353.7 255L1354.4 270.4L1354.3 288.3L1353.5 308.7L1352.3 324.1L1350.3 338.3L1347.8 349.3L1343.8 359.8L1339.4 367.5L1332.5 375.8L1324.8 382.4L1314.6 389L1304.4 394.2L1291.6 399.4L1276.3 404.4L1258.4 408.9L1243.1 412.1L1222.6 415.4L1199.7 418.2L1176.7 420.5L1146 422.7L1112.8 424.5L1077.1 425.9L1020.9 427.4L957.1 428.4L888.1 428.8L819.2 428.6L765.5 427.9L719.6 426.6L678.7 424.9L640.4 422.3L612.3 419.4L586.8 415.8L566.3 411.7L548.5 406.9L533.1 401.5L525.5 398.1L517.8 394L507.6 387.2L502.5 382.8L497.4 377.4L492.3 370.1L489.6 365L486.7 357.3L484.2 347.1L482.3 334.3L481.2 321.5L480.4 303.6L480.1 283.2L481 252.5L482.1 240.4L483.5 232L486 224.4L488.8 219.3L492.3 214.7L497.4 209.9L502.5 206.2L510.2 201.9L517.8 198.6L525.5 195.8L535.7 192.8L545.9 190.4L568.9 186.3L599.5 182.5L635.3 179.7L681.3 177.4ZM854.9 183.5L775.7 184.1L709.3 185.2L653.2 187.1L609.8 189.5L576.6 192.6L548.5 196.8L535.7 199.5L525.5 202.3L517.8 204.9L510.2 208.1L502.5 212.3L497.4 216.1L492.3 221.3L490.1 224.4L487.4 229.5L485.6 234.6L484.4 239.7L483.3 247.4L482.1 261.4L481.5 280.6L481.8 303.6L482.6 321.5L484.2 336.8L485.9 347.1L488.7 357.3L491.9 365L494.8 370L498.8 375.2L502.5 379.1L507.6 383.4L517.8 390L530.6 395.9L545.9 401.1L563.8 405.4L586.8 409.5L612.3 412.6L643 415.1L678.7 417.1L717 418.4L765.5 419.4L824.3 420L890.7 420.2L1023.5 419.1L1105.2 417.1L1143.5 415.5L1171.6 413.8L1197.1 411.9L1222.6 409.2L1243.1 406.4L1263.5 402.7L1278.8 399L1294.1 394.3L1306.9 389.2L1319.7 382.4L1327.3 376.9L1335 369.3L1340.1 362.1L1342.7 357.2L1345.2 350.6L1347.8 341.3L1349.9 329.2L1351.2 316.4L1352.2 298.5L1352.6 280.6L1352.3 265.3L1351.2 252.5L1349.3 242.3L1347.8 237.1L1345.2 231.5L1342.3 226.9L1337.6 221.4L1332.5 217.1L1324.8 212.3L1317.1 208.6L1309.5 205.7L1299.3 202.5L1286.5 199.5L1273.7 197L1258.4 194.7L1240.5 192.6L1220.1 190.7L1174.1 187.9L1112.8 185.7L1043.9 184.3L954.5 183.5ZM806.6 1234L918.8 1234.3L1028.6 1235.4L1117.9 1237.3L1176.7 1239.5L1222.6 1242.5L1258.4 1246.3L1273.7 1248.6L1289 1251.3L1306.9 1255.4L1317.1 1258.4L1332.5 1264.1L1340.1 1268.1L1345.2 1271.5L1349 1274.9L1351.2 1277.5L1354.2 1282.6L1356.1 1287.7L1357.9 1295.4L1359.3 1305.6L1360.4 1320.9L1361.1 1338.8L1362.4 1392.5L1361.9 1402.7L1360.4 1410.4L1358 1415.8L1355.4 1419.2L1352.9 1421.8L1347.8 1425.4L1340.1 1429.3L1329.9 1433L1314.6 1436.9L1299.3 1439.6L1283.9 1441.7L1245.6 1445L1192 1447.5L1115.4 1449.4L1018.3 1450.9L860 1452.4L737.4 1452.6L655.7 1451.7L620 1450.8L591.9 1449.5L566.3 1447.7L543.4 1445.3L525.5 1442.5L512.7 1439.7L502.5 1436.7L492.3 1432.3L484.6 1427.4L482.1 1425L478.8 1420.6L476.6 1415.5L475.5 1410.4L474.7 1395.1L475.5 1331.2L476.2 1310.7L477.2 1297.9L479.4 1285.2L482.2 1277.5L484.6 1273.5L487.8 1269.8L492.3 1266L497.4 1262.7L505.1 1258.9L515.3 1254.9L528 1251L538.3 1248.5L553.6 1245.5L566.3 1243.5L594.4 1240.3L632.7 1237.5L681.3 1235.6L737.4 1234.5ZM663.4 1241.7L625.1 1243L591.9 1245.1L563.8 1247.8L543.4 1250.8L522.9 1255.1L507.6 1260L499.9 1263.3L494.8 1266.2L489.9 1269.8L487.3 1272.4L484.6 1275.8L482.3 1280L480.6 1285.2L479.3 1290.3L477.3 1308.2L476.3 1333.7L475.6 1384.8L476.2 1405.3L477 1410.7L478.4 1415.5L481.3 1420.6L483.6 1423.2L489.7 1427.8L499.9 1432.4L510.2 1435.4L522.9 1438L538.3 1440.3L558.7 1442.3L586.8 1444.1L612.3 1445.2L691.5 1446.6L798.7 1446.9L992.8 1445.8L1133.3 1444.2L1199.7 1442.7L1245.6 1440.8L1281.4 1438.2L1306.9 1435.1L1319.7 1432.7L1329.9 1430.2L1337.6 1427.7L1345.2 1424.3L1350.3 1421.1L1355.4 1416.1L1358 1411.8L1359.4 1407.9L1360.7 1400.2L1361.1 1390L1359.8 1333.7L1358 1305.2L1356.6 1295.4L1354.7 1287.7L1352.6 1282.6L1349.3 1277.5L1345.2 1273.5L1340.1 1269.9L1335 1267.1L1327.3 1263.9L1317.1 1260.5L1306.9 1257.8L1294.1 1255L1278.8 1252.4L1263.5 1250.4L1240.5 1248L1194.6 1245.1L1130.7 1242.8L1015.8 1240.9L867.7 1240L747.7 1240.3Z"/>
<path fill="#40ffbf" stroke="#40ffbf" stroke-width="0.7" d="M760.8 163L849.8 161.6L949.4 161.6L1038.8 162.8L1117.9 165.4L1148.6 166.9L1179.2 169L1207.3 171.5L1227.8 173.8L1248.2 176.7L1266.1 179.9L1283.9 184L1296.7 187.7L1309.5 192.3L1319.7 197L1327.3 201.3L1335 206.8L1340.1 211.5L1345.2 217.7L1349.2 224.4L1352.1 232L1354.4 242.3L1355.7 255L1356.2 272.9L1356 293.4L1354.9 313.8L1353.2 331.7L1351 344.5L1348.1 354.7L1343.6 365L1337.6 373.9L1329.9 381.8L1319.7 389.6L1306.9 397.1L1291.6 404.2L1276.3 409.8L1258.4 415.1L1240.5 419.4L1220.1 423.3L1194.6 427.1L1169 430L1138.4 432.7L1107.7 434.7L1036.2 437.8L977.5 439.2L921.3 439.9L862.6 440.1L806.4 439.6L757.9 438.6L717 437.1L678.7 435L645.5 432.2L620 429.1L594.4 425L571.4 420L553.6 414.8L535.7 407.9L528 404.3L520.4 400.1L512.7 395.1L507.6 391.3L502.5 386.8L497.4 381.4L492.3 374.4L487.5 365L484.6 356.4L482.6 347.1L480.8 334.3L479.6 318.9L478.7 283.2L478.9 265.3L479.6 247.4L480.6 234.6L482.1 225.2L484 219.3L487.2 213.2L492.3 206.9L497.4 202.3L502.5 198.6L510.2 194.2L517.8 190.6L528 186.7L540.8 182.9L553.6 179.8L581.7 174.7L617.4 170.4L655.7 167.3L706.8 164.7ZM732.3 175.8L681.3 177.4L637.8 179.5L602.1 182.3L574 185.5L548.5 189.8L528 195L520.4 197.6L510.2 201.9L502.5 206.2L497.4 209.9L492.3 214.7L488.8 219.3L486 224.4L483.5 232L482.1 240.4L481 252.5L480.1 283.2L480.4 303.6L481.2 321.5L482.3 334.3L484.2 347.1L486.7 357.3L489.6 365L492.3 370.1L497.4 377.4L502.5 382.8L507.6 387.2L517.8 394L525.5 398.1L533.1 401.5L548.5 406.9L566.3 411.7L586.8 415.8L612.3 419.4L640.4 422.3L678.7 424.9L719.6 426.6L765.5 427.9L819.2 428.6L888.1 428.8L957.1 428.4L1020.9 427.4L1077.1 425.9L1112.8 424.5L1146 422.7L1176.7 420.5L1199.7 418.2L1222.6 415.4L1243.1 412.1L1258.4 408.9L1276.3 404.4L1291.6 399.4L1304.4 394.2L1314.6 389L1324.8 382.4L1332.5 375.8L1339.4 367.5L1343.8 359.8L1347.8 349.3L1350.3 338.3L1352.3 324.1L1353.5 308.7L1354.3 288.3L1354.4 270.4L1353.7 255L1352.4 244.8L1349.9 234.6L1346.5 226.9L1342.7 221.2L1337.6 215.7L1332.5 211.5L1324.8 206.7L1317.1 202.8L1309.5 199.7L1296.7 195.6L1283.9 192.4L1268.6 189.3L1250.7 186.5L1230.3 184L1207.3 181.9L1181.8 180L1120.5 177.1L1033.7 175L934.1 174.1L824.3 174.3ZM745.8 1226.4L839.6 1225.8L957.1 1226.6L1054.1 1228.4L1135.8 1231.1L1192 1234.5L1232.9 1238.5L1253.3 1241.3L1276.3 1245.3L1291.6 1248.7L1306.9 1252.8L1317.1 1256.1L1327.3 1260L1335 1263.5L1342.7 1267.8L1347.8 1271.7L1351 1274.9L1354.5 1280L1356.7 1285.2L1358.7 1292.8L1359.9 1300.5L1361.1 1313.3L1361.9 1328.6L1363.7 1392.5L1363.3 1402.7L1362.1 1410.4L1360.2 1415.5L1358 1419.3L1355.4 1422.3L1350.3 1426.6L1345.2 1429.8L1340.1 1432.4L1327.3 1437.2L1317.1 1440.1L1304.4 1442.9L1289 1445.6L1271.2 1447.9L1250.7 1449.9L1202.2 1453L1135.8 1455.4L1036.2 1457.6L877.9 1459.7L757.9 1460.4L673.6 1459.7L635.3 1458.6L607.2 1457.3L579.1 1455.4L558.7 1453.3L538.3 1450.3L522.9 1447.2L507.6 1442.9L494.8 1437.6L487.2 1433L482.1 1428.7L479.5 1425.8L477 1421.7L474.9 1415.5L474.2 1410.4L473.8 1402.7L474.4 1338.8L475.8 1303L477.7 1287.7L479 1282.6L480.9 1277.5L484.6 1271.3L487.2 1268.4L492.3 1264L499.9 1259.2L507.6 1255.3L517.8 1251.1L528 1247.6L543.4 1243.4L553.6 1241L581.7 1236.1L612.3 1232.4L648.1 1229.7L694 1227.6ZM808.9 1234L737.4 1234.5L681.3 1235.6L632.7 1237.5L594.4 1240.3L566.3 1243.5L553.6 1245.5L538.3 1248.5L528 1251L515.3 1254.9L505.1 1258.9L497.4 1262.7L492.3 1266L487.8 1269.8L484.6 1273.5L482.2 1277.5L479.4 1285.2L477.2 1297.9L476.2 1310.7L475.5 1331.2L474.7 1395.1L475.5 1410.4L476.6 1415.5L478.8 1420.6L482.1 1425L484.6 1427.4L492.3 1432.3L502.5 1436.7L512.7 1439.7L525.5 1442.5L543.4 1445.3L566.3 1447.7L591.9 1449.5L620 1450.8L655.7 1451.7L737.4 1452.6L860 1452.4L1018.3 1450.9L1115.4 1449.4L1192 1447.5L1245.6 1445L1283.9 1441.7L1299.3 1439.6L1314.6 1436.9L1329.9 1433L1340.1 1429.3L1347.8 1425.4L1352.9 1421.8L1355.4 1419.2L1358 1415.8L1360.4 1410.4L1361.9 1402.7L1362.4 1392.5L1361.1 1338.8L1360.4 1320.9L1359.3 1305.6L1357.9 1295.4L1356.1 1287.7L1354.2 1282.6L1351.2 1277.5L1349 1274.9L1345.2 1271.5L1340.1 1268.1L1332.5 1264.1L1317.1 1258.4L1306.9 1255.4L1289 1251.3L1273.7 1248.6L1258.4 1246.3L1222.6 1242.5L1176.7 1239.5L1117.9 1237.3L1028.6 1235.4L918.8 1234.3Z"/>
<path fill="#50ffaf" stroke="#50ffaf" stroke-width="0.7" d="M764.3 145.1L806.4 143.9L852.4 143.1L949.4 143L1036.2 144.7L1077.1 146.2L1115.4 148.3L1151.1 150.8L1176.7 153.2L1202.2 156.1L1225.2 159.4L1243.1 162.5L1263.5 166.9L1281.4 171.7L1296.7 176.9L1309.5 182.2L1319.7 187.5L1327.3 192.4L1335 198.3L1342.7 206L1346.8 211.6L1350.3 217.7L1353.9 226.9L1356.2 237.1L1357.6 252.5L1358 272.9L1357.6 295.9L1356.5 316.4L1355 331.7L1352.9 344.5L1349.3 357.3L1344.7 367.5L1341.4 372.6L1337.6 377.7L1332.5 383.1L1327.3 387.7L1317.1 395.4L1301.8 404.6L1286.5 412.1L1268.6 419.2L1248.2 425.8L1230.3 430.5L1207.3 435.5L1181.8 439.9L1153.7 443.7L1120.5 447.1L1087.3 449.7L1054.1 451.6L1013.2 453.4L959.6 455L908.5 455.7L854.9 455.8L803.8 455.2L760.4 453.9L722.1 452L688.9 449.6L653.2 445.9L627.6 442.1L602.1 437.2L576.6 430.6L558.7 424.5L540.8 416.9L530.6 411.6L522.9 407L510.2 397.9L499.9 388.3L494.8 382.2L489.7 374.3L486.5 367.5L483.2 357.3L481 347.1L479.5 335.6L478.3 318.9L477.6 301.1L477.5 262.7L478.5 229.5L479.2 221.8L481.1 214.1L484.6 206.5L489.7 199.4L494.8 194.3L499.9 190.1L507.6 185L517.8 179.6L528 175.2L538.3 171.6L553.6 167.1L566.3 164L581.7 160.9L614.9 155.7L658.3 151.1L711.9 147.4ZM763 163L706.8 164.7L658.3 167.2L617.4 170.4L581.7 174.7L553.6 179.8L540.8 182.9L528 186.7L517.8 190.6L510.2 194.2L502.5 198.6L497.4 202.3L492.3 206.9L487.2 213.2L484 219.3L482.1 225.2L480.6 234.6L479.6 247.4L478.9 265.3L478.7 283.2L479.6 318.9L480.8 334.3L482.6 347.1L484.6 356.4L487.5 365L492.3 374.4L497.4 381.4L502.5 386.8L507.6 391.3L512.7 395.1L520.4 400.1L528 404.3L535.7 407.9L553.6 414.8L571.4 420L594.4 425L620 429.1L645.5 432.2L678.7 435L717 437.1L757.9 438.6L806.4 439.6L862.6 440.1L921.3 439.9L977.5 439.2L1036.2 437.8L1107.7 434.7L1138.4 432.7L1169 430L1194.6 427.1L1220.1 423.3L1240.5 419.4L1258.4 415.1L1276.3 409.8L1291.6 404.2L1306.9 397.1L1319.7 389.6L1329.9 381.8L1337.6 373.9L1343.6 365L1348.1 354.7L1351 344.5L1353.2 331.7L1354.9 313.8L1356 293.4L1356.2 272.9L1355.7 255L1354.4 242.3L1352.1 232L1349.2 224.4L1345.2 217.7L1340.1 211.5L1335 206.8L1327.3 201.3L1319.7 197L1309.5 192.3L1296.7 187.7L1283.9 184L1266.1 179.9L1248.2 176.7L1230.3 174.1L1209.9 171.8L1184.3 169.4L1125.6 165.7L1051.5 163.1L957.1 161.6L854.9 161.6ZM800.1 1213.6L893.2 1213.8L990.3 1215.5L1072 1218.2L1110.3 1220L1146 1222.3L1174.1 1224.6L1197.1 1227L1220.1 1230L1238 1232.8L1261 1237.2L1276.3 1240.8L1294.1 1245.7L1309.5 1250.7L1322.2 1255.6L1329.9 1259L1337.6 1262.9L1345.2 1267.7L1350.3 1272L1352.9 1274.9L1356.1 1280L1358.1 1285.2L1360.4 1295.4L1361.6 1305.6L1362.7 1320.9L1363.6 1343.9L1364.9 1397.6L1364.2 1407.9L1362.2 1415.5L1360.5 1419.1L1358 1422.8L1355.4 1425.6L1350.3 1430L1342.7 1434.8L1337.6 1437.3L1327.3 1441.6L1309.5 1447.1L1294.1 1450.5L1271.2 1454.4L1250.7 1456.9L1222.6 1459.5L1199.7 1461.1L1163.9 1463.1L1117.9 1465L1005.6 1468.1L867.7 1470.7L765.5 1471.6L688.9 1471.1L655.7 1470.1L627.6 1468.9L604.6 1467.3L581.7 1465.2L563.8 1463L545.9 1460L528 1455.9L515.3 1452.1L502.5 1447.1L492.3 1441.6L484.6 1435.9L482.1 1433.4L477.9 1428.3L475.2 1423.2L473.7 1418.1L473.1 1413L472.8 1405.3L473.7 1331.2L474.4 1310.6L475.6 1295.4L476.7 1287.7L477.9 1282.6L479.6 1277.5L482.1 1272.6L487.2 1266.3L492.3 1262L497.4 1258.4L507.6 1252.6L517.8 1247.7L530.6 1242.6L543.4 1238.2L556.1 1234.5L574 1230.2L604.6 1224.6L622.5 1222.2L643 1220L683.8 1216.9L737.4 1214.6ZM747.7 1226.3L694 1227.6L648.1 1229.7L612.3 1232.4L581.7 1236.1L553.6 1241L543.4 1243.4L528 1247.6L517.8 1251.1L507.6 1255.3L499.9 1259.2L492.3 1264L487.2 1268.4L484.6 1271.3L480.9 1277.5L479 1282.6L477.7 1287.7L475.8 1303L474.4 1338.8L473.8 1402.7L474.2 1410.4L474.9 1415.5L477 1421.7L479.5 1425.8L482.1 1428.7L487.2 1433L494.8 1437.6L507.6 1442.9L522.9 1447.2L538.3 1450.3L558.7 1453.3L579.1 1455.4L607.2 1457.3L635.3 1458.6L673.6 1459.7L757.9 1460.4L877.9 1459.7L1036.2 1457.6L1135.8 1455.4L1202.2 1453L1250.7 1449.9L1271.2 1447.9L1289 1445.6L1304.4 1442.9L1317.1 1440.1L1327.3 1437.2L1340.1 1432.4L1345.2 1429.8L1350.3 1426.6L1355.4 1422.3L1358 1419.3L1360.2 1415.5L1362.1 1410.4L1363.3 1402.7L1363.7 1392.5L1361.9 1328.6L1361.1 1313.3L1359.9 1300.5L1358.7 1292.8L1356.7 1285.2L1354.5 1280L1351 1274.9L1347.8 1271.7L1342.7 1267.8L1335 1263.5L1327.3 1260L1317.1 1256.1L1306.9 1252.8L1291.6 1248.7L1276.3 1245.3L1253.3 1241.3L1232.9 1238.5L1192 1234.5L1135.8 1231.1L1054.1 1228.4L957.1 1226.6L842.1 1225.8Z"/>
<path fill="#60ff9f" stroke="#60ff9f" stroke-width="0.7" d="M820.1 111.9L857.5 110.8L898.3 110.2L936.6 110.2L974.9 110.9L1013.2 112.1L1046.4 113.7L1079.6 115.9L1112.8 118.8L1146 122.5L1171.6 126L1199.7 130.8L1222.6 135.5L1245.6 141.3L1263.5 146.7L1281.4 153.1L1296.7 159.8L1309.5 166.5L1319.7 173L1329.9 180.9L1337.6 188.2L1344.2 196.3L1349.2 203.9L1352.9 211.6L1356.2 221.8L1358.5 234.6L1359.7 252.5L1359.7 280.6L1358.6 308.7L1357.3 326.6L1355.2 342L1352.2 354.7L1350.3 360.2L1347.8 366.1L1344.1 372.6L1340.1 378.3L1335 384.3L1329.9 389.4L1317.1 400L1306.9 407.1L1299.3 411.9L1278.8 423.1L1258.4 432.4L1238 440.2L1212.4 448.2L1184.3 455.2L1158.8 460.4L1130.7 465L1102.6 468.8L1064.3 472.8L1028.6 475.6L987.7 478L949.4 479.5L903.4 480.5L860 480.7L819.2 480.1L778.3 478.6L742.5 476.4L709.3 473.3L678.7 469.4L653.2 465.1L630.2 460.2L604.6 453.3L581.7 445.3L563.8 437.7L553.6 432.7L543.4 427.1L528 417.3L520.4 411.7L512.7 405.4L505.1 398.2L499.9 392.8L492.3 382.8L487.9 375.2L484.6 367.5L481.5 357.3L479.5 346.7L477.8 331.7L476.7 313.8L476.2 290.8L476.4 242.3L475.6 219.3L476.7 209L479.5 199.9L484.1 191.1L489.7 183.8L497.4 176.1L507.6 168.3L517.8 162L528 156.8L540.8 151.3L556.1 145.8L571.4 141.2L589.3 136.6L604.6 133.3L627.6 129L648.1 125.8L671 122.8L696.6 120L722.1 117.6L755.3 115.2ZM765.5 145.1L711.9 147.4L658.3 151.1L614.9 155.7L581.7 160.9L566.3 164L553.6 167.1L538.3 171.6L528 175.2L517.8 179.6L507.6 185L499.9 190.1L494.8 194.3L489.7 199.4L484.6 206.5L481.1 214.1L479.2 221.8L478.5 229.5L477.5 262.7L477.6 301.1L478.3 318.9L479.5 335.6L481 347.1L483.2 357.3L486.5 367.5L489.7 374.3L494.8 382.2L499.9 388.3L510.2 397.9L522.9 407L530.6 411.6L540.8 416.9L558.7 424.5L576.6 430.6L602.1 437.2L627.6 442.1L653.2 445.9L688.9 449.6L722.1 452L760.4 453.9L803.8 455.2L854.9 455.8L908.5 455.7L959.6 455L1013.2 453.4L1054.1 451.6L1087.3 449.7L1120.5 447.1L1153.7 443.7L1181.8 439.9L1207.3 435.5L1230.3 430.5L1248.2 425.8L1268.6 419.2L1286.5 412.1L1301.8 404.6L1317.1 395.4L1327.3 387.7L1332.5 383.1L1337.6 377.7L1341.4 372.6L1344.7 367.5L1349.3 357.3L1352.9 344.5L1355 331.7L1356.5 316.4L1357.6 295.9L1358 272.9L1357.6 252.5L1356.2 237.1L1353.9 226.9L1350.3 217.7L1346.8 211.6L1342.7 206L1335 198.3L1327.3 192.4L1319.7 187.5L1309.5 182.2L1296.7 176.9L1281.4 171.7L1263.5 166.9L1243.1 162.5L1225.2 159.4L1202.2 156.1L1176.7 153.2L1151.1 150.8L1115.4 148.3L1077.1 146.2L1036.2 144.7L949.4 143L852.4 143.1L806.4 143.9ZM769.9 1193.1L808.9 1192.3L849.8 1192.3L893.2 1192.8L941.7 1194.1L990.3 1196L1028.6 1197.9L1066.9 1200.4L1110.3 1204L1140.9 1207.2L1166.5 1210.5L1194.6 1214.9L1217.5 1219.3L1240.5 1224.6L1261 1230.1L1278.8 1235.8L1296.7 1242.2L1322.2 1253L1332.5 1258.1L1342.7 1264L1347.8 1267.8L1352.9 1272.7L1356.3 1277.5L1358.6 1282.6L1360.7 1290.3L1362.6 1303L1363.7 1318.4L1364.5 1338.8L1366.2 1400.2L1365.4 1410.4L1363.3 1418.1L1360.6 1423.2L1358 1426.7L1355.4 1429.5L1350.3 1434.1L1345.2 1437.8L1337.6 1442.5L1322.2 1449.7L1306.9 1455.2L1289 1460.1L1266.1 1464.8L1245.6 1468L1222.6 1470.8L1194.6 1473.5L1161.4 1476.1L1117.9 1478.7L1005.6 1483.7L860 1488.4L768.1 1490L699.1 1489.6L671 1488.8L645.5 1487.5L620 1485.6L597 1483.1L576.6 1480.2L556.1 1476.2L540.8 1472.3L525.5 1467.3L510.2 1460.8L499.9 1455.1L489.7 1447.8L482.1 1440.4L477 1433.3L474.4 1428.3L472.8 1423.2L471.9 1416.8L471.7 1402.7L472.3 1361.8L473.4 1313.3L475 1292.8L476.2 1285.2L477.5 1280L479.5 1274.8L482.1 1270.3L484.6 1267L489.7 1261.9L497.4 1255.9L510.2 1247.8L522.9 1240.9L540.8 1232.5L553.6 1227.2L568.9 1221.7L584.2 1216.9L602.1 1212.1L622.5 1207.6L637.8 1204.7L655.7 1202L676.2 1199.4L699.1 1197.1L722.1 1195.3ZM801.3 1213.6L737.4 1214.6L686.4 1216.7L643 1220L622.5 1222.2L604.6 1224.6L574 1230.2L556.1 1234.5L543.4 1238.2L530.6 1242.6L517.8 1247.7L507.6 1252.6L497.4 1258.4L492.3 1262L487.2 1266.3L482.1 1272.6L479.6 1277.5L477.9 1282.6L476.7 1287.7L475.6 1295.4L474.4 1310.6L473.7 1331.2L472.8 1405.3L473.1 1413L473.7 1418.1L475.2 1423.2L477.9 1428.3L482.1 1433.4L484.6 1435.9L492.3 1441.6L502.5 1447.1L515.3 1452.1L528 1455.9L545.9 1460L563.8 1463L581.7 1465.2L604.6 1467.3L627.6 1468.9L655.7 1470.1L688.9 1471.1L765.5 1471.6L867.7 1470.7L1005.6 1468.1L1117.9 1465L1163.9 1463.1L1199.7 1461.1L1222.6 1459.5L1250.7 1456.9L1271.2 1454.4L1294.1 1450.5L1309.5 1447.1L1327.3 1441.6L1337.6 1437.3L1342.7 1434.8L1350.3 1430L1355.4 1425.6L1358 1422.8L1360.5 1419.1L1362.2 1415.5L1364.2 1407.9L1364.9 1397.6L1363.6 1343.9L1362.7 1320.9L1361.6 1305.6L1360.4 1295.4L1358.1 1285.2L1356.1 1280L1352.9 1274.9L1350.3 1272L1345.2 1267.7L1337.6 1262.9L1329.9 1259L1322.2 1255.6L1309.5 1250.7L1294.1 1245.7L1276.3 1240.8L1261 1237.2L1238 1232.8L1220.1 1230L1197.1 1227L1174.1 1224.6L1146 1222.3L1110.3 1220L1072 1218.2L990.3 1215.5L893.2 1213.8Z"/>
<path fill="#70ff8f" stroke="#70ff8f" stroke-width="0.7" d="M663 58.2L671.5 55.7L1177.9 55.7L1192 61.8L1220.1 75L1248.2 89.7L1273.7 105L1294.1 119.3L1301.8 125.3L1312 134.1L1319.7 141.5L1327.3 149.7L1335 159.2L1340.1 166.5L1347.8 179.8L1351.7 188.6L1354.6 196.3L1356.8 203.9L1358.5 211.6L1359.8 219.3L1360.9 229.5L1361.6 249.9L1361 293.4L1360.1 311.3L1358.9 326.6L1357.4 339.4L1355.4 349.6L1353.4 357.3L1350.3 365.4L1345.2 375L1337.6 385.4L1327.3 396.1L1312 409.4L1294.1 422.9L1276.3 434.9L1258.4 445.7L1235.4 458L1215 467.6L1194.6 476.2L1174.1 483.8L1151.1 491.3L1125.6 498.6L1102.6 504.2L1077.1 509.6L1051.5 514.2L1020.9 518.8L990.3 522.5L959.6 525.4L926.4 527.6L895.8 528.8L865.1 529.1L837 528.6L806.4 527.2L780.9 525.1L755.3 522.1L729.8 518.1L706.8 513.6L686.4 508.6L663.4 501.9L643 494.8L622.5 486.5L599.5 475.5L579.1 464L558.7 450.6L540.8 437.2L522.9 421.9L507.6 406.6L499.9 397.7L494.8 391L489.7 383L487.2 378.2L483.7 370.1L480.6 359.8L478.6 349.6L477 336.7L475.9 321.5L475.1 301.1L474.7 239.7L474 232L470.7 211.6L470.2 203.9L470.4 196.3L471.9 186L474.8 175.8L479.5 165.1L484.6 156.5L492.3 146.3L499.9 138.1L510.2 128.8L520.4 120.9L533.1 112.3L545.9 104.8L563.8 95.5L579.1 88.5L599.5 80L620 72.3L643 64.5ZM821.7 111.8L757.9 115L704.2 119.2L673.6 122.5L650.6 125.5L627.6 129L607.2 132.7L589.3 136.6L571.4 141.2L556.1 145.8L540.8 151.3L528 156.8L517.8 162L507.6 168.3L497.4 176.1L489.7 183.8L484.1 191.1L479.5 199.9L476.7 209L475.6 219.3L476.4 242.3L476.2 290.8L476.7 313.8L477.8 331.7L479.5 346.7L481.5 357.3L484.6 367.5L487.9 375.2L492.3 382.8L499.9 392.8L505.1 398.2L512.7 405.4L520.4 411.7L528 417.3L543.4 427.1L553.6 432.7L563.8 437.7L581.7 445.3L604.6 453.3L630.2 460.2L653.2 465.1L678.7 469.4L709.3 473.3L742.5 476.4L778.3 478.6L819.2 480.1L860 480.7L903.4 480.5L949.4 479.5L987.7 478L1028.6 475.6L1064.3 472.8L1102.6 468.8L1130.7 465L1158.8 460.4L1184.3 455.2L1212.4 448.2L1238 440.2L1258.4 432.4L1278.8 423.1L1299.3 411.9L1306.9 407.1L1317.1 400L1329.9 389.4L1335 384.3L1340.1 378.3L1344.1 372.6L1347.8 366.1L1350.3 360.2L1352.2 354.7L1355.2 342L1357.3 326.6L1358.6 308.7L1359.7 280.6L1359.7 252.5L1358.5 234.6L1356.2 221.8L1352.9 211.6L1349.2 203.9L1344.2 196.3L1337.6 188.2L1329.9 180.9L1319.7 173L1309.5 166.5L1296.7 159.8L1281.4 153.1L1263.5 146.7L1245.6 141.3L1222.6 135.5L1199.7 130.8L1171.6 126L1146 122.5L1115.4 119.1L1082.2 116.1L1049 113.9L1015.8 112.2L977.5 110.9L939.2 110.3L900.9 110.2L860 110.7ZM786 1144.6L816.6 1143.2L847.2 1143.1L880.4 1143.9L916.2 1145.9L952 1148.8L992.8 1153.2L1031.1 1158.3L1066.9 1164L1095 1169.2L1128.2 1176.3L1158.8 1184.1L1184.3 1191.5L1209.9 1199.9L1235.4 1209.3L1261 1220L1289 1232.9L1319.7 1248.5L1332.5 1255.6L1342.7 1262.1L1347.8 1265.8L1352.9 1270.5L1356.3 1274.9L1359 1280L1360.8 1285.2L1362 1290.3L1363.2 1297.9L1364.1 1308.2L1365.4 1331.2L1367.4 1392.5L1367.5 1402.7L1367 1410.4L1365.7 1417.3L1363.1 1423.8L1360.5 1428.1L1355.4 1434.7L1350.3 1439.9L1345.2 1444.5L1337.6 1450.4L1329.9 1455.5L1317.1 1462.6L1299.3 1470.5L1283.9 1475.8L1266.1 1480.9L1243.1 1486L1217.5 1490.6L1194.6 1494L1161.4 1498.1L1125.6 1501.8L1074.5 1506.3L1013.2 1511.1L872.8 1520.9L793.6 1525.1L757.9 1526.4L727.2 1526.8L699.1 1526.7L673.6 1525.9L650.6 1524.5L627.6 1522.3L607.2 1519.4L589.3 1516.1L571.4 1511.8L553.6 1506.2L540.8 1501.2L525.5 1493.8L512.7 1485.8L502.5 1477.9L494.8 1470.7L489.7 1464.9L484.6 1458.2L479.5 1450.2L476.2 1443.6L473.1 1436L471 1428.3L470.3 1423.2L470.2 1418.1L472 1331.2L473.5 1297.9L474.7 1287.7L477 1278.3L479.5 1272.2L482.1 1268.1L484.6 1264.8L489.7 1259.6L494.8 1255.1L507.6 1245.3L530.6 1229.6L551 1216.7L571.4 1204.8L586.8 1196.6L607.2 1186.8L625.1 1179.1L643 1172.3L660.8 1166.4L681.3 1160.6L701.7 1155.7L722.1 1151.8L742.5 1148.7L765.5 1146.2ZM770.6 1193.1L722.1 1195.3L699.1 1197.1L676.2 1199.4L655.7 1202L637.8 1204.7L622.5 1207.6L602.1 1212.1L584.2 1216.9L568.9 1221.7L553.6 1227.2L540.8 1232.5L522.9 1240.9L510.2 1247.8L497.4 1255.9L489.7 1261.9L484.6 1267L482.1 1270.3L479.5 1274.8L477.5 1280L476.2 1285.2L475 1292.8L473.4 1313.3L472.3 1361.8L471.7 1402.7L471.9 1416.8L472.8 1423.2L474.4 1428.3L477 1433.3L482.1 1440.4L489.7 1447.8L499.9 1455.1L510.2 1460.8L525.5 1467.3L540.8 1472.3L556.1 1476.2L576.6 1480.2L597 1483.1L620 1485.6L645.5 1487.5L671 1488.8L699.1 1489.6L768.1 1490L860 1488.4L1005.6 1483.7L1117.9 1478.7L1161.4 1476.1L1194.6 1473.5L1222.6 1470.8L1245.6 1468L1266.1 1464.8L1289 1460.1L1306.9 1455.2L1322.2 1449.7L1337.6 1442.5L1345.2 1437.8L1350.3 1434.1L1355.4 1429.5L1358 1426.7L1360.6 1423.2L1363.3 1418.1L1365.4 1410.4L1366.2 1400.2L1364.5 1338.8L1363.7 1318.4L1362.6 1303L1360.7 1290.3L1358.6 1282.6L1356.3 1277.5L1352.9 1272.7L1347.8 1267.8L1342.7 1264L1332.5 1258.1L1322.2 1253L1296.7 1242.2L1278.8 1235.8L1261 1230.1L1240.5 1224.6L1217.5 1219.3L1194.6 1214.9L1166.5 1210.5L1140.9 1207.2L1110.3 1204L1066.9 1200.4L1028.6 1197.9L990.3 1196L941.7 1194.1L893.2 1192.8L849.8 1192.3L808.9 1192.3Z"/>
<path fill="#80ff80" stroke="#80ff80" stroke-width="0.7" d="M397.6 55.7L671.5 55.7L635.3 67L599.5 80L581.7 87.3L568.9 93.1L545.9 104.8L535.7 110.8L525.5 117.3L517.8 122.8L507.6 131L499.9 138.1L492.3 146.3L487.2 152.8L482.1 160.5L477 170.4L473.2 180.9L471 191.1L470.2 203.9L471 214.1L474 232L474.7 239.7L475.1 298.5L475.8 318.9L476.8 334.3L477.9 344.5L479.5 355L482 365L484.6 372.6L487.2 378.2L492.3 387.2L497.4 394.4L505.1 403.8L520.4 419.5L530.6 428.7L540.8 437.2L551 445.1L563.8 454.2L574 460.8L586.8 468.5L609.8 480.6L632.7 490.8L655.7 499.4L681.3 507.3L709.3 514.1L737.4 519.5L768.1 523.7L798.7 526.6L831.9 528.5L867.7 529.1L903.4 528.5L939.2 526.9L974.9 524.1L1010.7 520.1L1046.4 515L1077.1 509.6L1105.2 503.6L1135.8 495.8L1161.4 488.1L1186.9 479.2L1212.4 468.8L1235.4 458L1258.4 445.7L1278.8 433.2L1301.8 417.3L1319.7 403L1327.3 396.1L1335 388.3L1341.6 380.3L1346.7 372.6L1350.3 365.4L1353.4 357.3L1355.4 349.6L1357.4 339.4L1359.4 321.5L1360.8 298.5L1361.6 265.3L1361.4 239.7L1360.4 224.4L1358.5 211.6L1355.4 199L1351.7 188.6L1347.8 179.8L1342.7 170.6L1337.6 162.7L1329.9 152.7L1322.2 144.1L1314.6 136.5L1306.9 129.6L1296.7 121.3L1286.5 113.7L1273.7 105L1258.4 95.6L1245.6 88.3L1215 72.5L1197.1 64.1L1177.9 55.7L1419.7 55.7L1409.1 65.9L1401.4 74.4L1393.7 84.4L1388.6 92.1L1383.5 101.2L1378.4 112.3L1374 124.7L1370.8 136.5L1368.5 147.7L1366.9 157.9L1364.9 180.9L1364.2 201.4L1363 283.2L1361.9 308.7L1360.3 329.2L1358.2 344.5L1355.3 357.3L1352.9 364.3L1350.4 370.1L1345.2 379.2L1340.1 386.3L1335 392.6L1319.7 408.8L1294.1 433.3L1263.5 461.3L1232.9 488.4L1197.1 519.3L1091.1 607.8L1058.1 635.9L1026.6 664L1002.9 687L988.4 702.4L977.5 715.1L967.7 727.9L959.3 740.7L952.4 753.5L948.1 763.7L945.1 773.9L942.9 786.7L942.6 796.9L943.4 807.2L945.3 817.4L948.1 827.6L951.8 837.8L957.3 850.6L963.8 863.4L971 876.2L981.9 894.1L993.7 912L1009.7 935L1024.6 955.4L1059.7 1001.4L1078.2 1024.4L1095.2 1044.9L1122.1 1075.6L1148.5 1103.7L1176.9 1131.8L1204.8 1157.4L1235 1182.9L1267.8 1208.5L1296.3 1228.9L1337.6 1256.3L1345.2 1261.8L1350.3 1266L1354.1 1269.8L1356.2 1272.4L1359.3 1277.5L1362 1285.2L1363.6 1292.8L1364.8 1303L1365.9 1318.4L1368.9 1400.2L1368.7 1410.4L1368.1 1415.5L1366.9 1420.6L1363.1 1430.3L1358 1439.4L1347.8 1454.4L1337.6 1467.3L1329.9 1475.6L1322.2 1482.8L1312 1491L1301.8 1498L1291.6 1503.9L1281.4 1509.1L1271.2 1513.7L1258.4 1518.7L1232.9 1527.1L1215 1532.1L1197.1 1536.5L1161.4 1544.4L1123.1 1551.8L915.9 1589.3L457.9 1589.3L454 1584.2L449.8 1576.6L447.2 1568.9L446.1 1561.2L446 1553.5L446.8 1545.9L448.3 1538.2L451 1528L461.6 1492.1L464.5 1479.4L466.5 1466.6L467.6 1451.3L467.7 1425.7L469.2 1410.4L469.8 1400.2L471.1 1331.2L471.9 1308.2L473.8 1287.7L475.4 1280L477 1274.9L481.1 1267.3L487.2 1259.7L494.8 1252L519.7 1228.9L532.6 1216.1L549.4 1198.2L566.9 1177.8L582.8 1157.4L601 1131.8L616.1 1108.8L631.7 1083.2L655.1 1042.3L685.5 986.1L728.8 904.3L740.5 881.3L749 863.4L758.7 840.4L762.3 830.2L765.3 819.9L767.2 812.3L768.9 802.1L769.7 791.8L769.8 784.2L769 773.9L766.6 761.2L762.8 748.4L757.7 735.6L751.6 722.8L743 707.5L733.3 692.1L722.8 676.8L698.1 643.6L667.4 605.2L631.3 561.8L545.9 460.8L517.8 426.7L505.1 410.4L497.4 399.8L492.3 391.9L487.2 382.8L482.8 372.6L480.4 365L478.1 354.7L476.2 342L475 326.6L474.1 306.2L473.4 244.8L472.8 237.1L471.3 229.5L469.3 223L454 181.2L443.8 155.4L431 127L407.5 78.7ZM786 1144.6L765.5 1146.2L742.5 1148.7L722.1 1151.8L701.7 1155.7L681.3 1160.6L660.8 1166.4L643 1172.3L625.1 1179.1L607.2 1186.8L586.8 1196.6L571.4 1204.8L551 1216.7L530.6 1229.6L507.6 1245.3L494.8 1255.1L489.7 1259.6L484.6 1264.8L482.1 1268.1L479.5 1272.2L477 1278.3L474.7 1287.7L473.5 1297.9L472 1331.2L470.2 1418.1L470.3 1423.2L471 1428.3L473.1 1436L476.2 1443.6L479.5 1450.2L484.6 1458.2L489.7 1464.9L494.8 1470.7L502.5 1477.9L512.7 1485.8L525.5 1493.8L540.8 1501.2L553.6 1506.2L571.4 1511.8L589.3 1516.1L607.2 1519.4L627.6 1522.3L650.6 1524.5L673.6 1525.9L699.1 1526.7L727.2 1526.8L757.9 1526.4L793.6 1525.1L872.8 1520.9L1013.2 1511.1L1074.5 1506.3L1125.6 1501.8L1161.4 1498.1L1194.6 1494L1217.5 1490.6L1243.1 1486L1266.1 1480.9L1283.9 1475.8L1299.3 1470.5L1317.1 1462.6L1329.9 1455.5L1337.6 1450.4L1345.2 1444.5L1350.3 1439.9L1355.4 1434.7L1360.5 1428.1L1363.1 1423.8L1365.7 1417.3L1367 1410.4L1367.5 1402.7L1367.4 1392.5L1365.4 1331.2L1364.1 1308.2L1363.2 1297.9L1362 1290.3L1360.8 1285.2L1359 1280L1356.3 1274.9L1352.9 1270.5L1347.8 1265.8L1342.7 1262.1L1332.5 1255.6L1319.7 1248.5L1289 1232.9L1261 1220L1235.4 1209.3L1209.9 1199.9L1184.3 1191.5L1158.8 1184.1L1128.2 1176.3L1095 1169.2L1066.9 1164L1031.1 1158.3L992.8 1153.2L952 1148.8L916.2 1145.9L880.4 1143.9L847.2 1143.1L816.6 1143.2ZM1682.2 1190.6L1682.3 1188.9L1682.3 1461.7L1679.5 1446.2L1677.5 1428.3L1676.4 1407.9L1676.1 1384.8L1676.6 1349.1L1678.1 1292.8L1680 1239.1Z"/>
<path fill="#8fff70" stroke="#8fff70" stroke-width="0.7" d="M150.1 55.7L397.6 55.7L407.5 78.7L431 127L443.8 155.4L454 181.2L469.3 223L471.3 229.5L472.8 237.1L473.4 244.8L474.1 306.2L475 326.6L476.2 342L478.1 354.7L480.4 365L482.8 372.6L487.2 382.8L492.3 391.9L499.9 403.4L520.4 429.9L548.5 463.8L659 595L690.1 633.3L715.4 666.6L726.4 681.9L736.6 697.3L744.5 710L751.6 722.8L756.6 733L761.9 745.8L765.2 756L767.7 766.3L769.3 776.5L769.8 784.2L769.6 794.4L768.5 804.6L766.6 814.8L763.9 825.1L759.7 837.8L754.6 850.6L741.8 878.7L723.5 914.5L671.8 1011.7L642.2 1065.3L624.1 1096L606.2 1124.1L590.3 1147.1L573 1170.1L553.9 1193.1L537.6 1211L519.7 1228.9L494.8 1252L487.2 1259.7L481.1 1267.3L477 1275.2L475.4 1280L473.8 1287.7L471.9 1308.2L471.1 1331.2L469.8 1400.2L469.2 1410.4L467.7 1425.7L467.6 1451.3L466.5 1466.6L464.5 1479.4L461.6 1492.1L451 1528L448.3 1538.2L446.8 1545.9L446 1553.5L446.3 1563.8L447.9 1571.4L449.8 1576.6L452.4 1581.7L457.9 1589.3L150.1 1589.3ZM331.4 160.1L321.2 162.4L308.4 166.6L298.2 171.1L288 176.8L278.3 183.5L269.1 191.1L261.3 198.8L252.6 209L245.2 219.3L238.9 229.5L232.1 242.3L226.4 255L220.5 270.4L215.5 285.7L212 298.5L207.6 316.4L203 339.4L200 357.3L194.3 400.7L189.7 451.9L186.3 510.7L184.3 574.6L183.6 643.6L184.4 720.3L186.5 804.6L189.9 899.2L195.1 1016.8L200.5 1119L205.7 1200.8L210.2 1254.5L215.2 1297.9L217.9 1315.8L221.1 1333.7L224.9 1351.6L228.1 1364.4L232.7 1379.7L238.3 1395.1L243.9 1407.9L249.2 1418.1L255.4 1428.3L262.8 1438.5L271.6 1448.7L280.3 1457L290.5 1464.9L300.8 1471.2L311 1476.3L321.2 1480.3L334 1484L346.7 1486.4L359.5 1487.6L372.3 1487.7L387.6 1486.3L400.3 1483.9L413.1 1480.2L425.9 1474.8L436.1 1468.8L441.2 1465.1L446.3 1460.6L451.4 1455.1L454 1451.8L458.8 1443.6L461.6 1436.8L464.2 1428.2L467.1 1415.5L468.3 1407.9L469.1 1390L471.1 1308.2L472.5 1290.3L473.8 1282.6L475.1 1277.5L478.2 1269.8L482.1 1263.4L509.1 1231.5L518.3 1218.7L526.2 1205.9L534.3 1190.6L539.9 1177.8L546.7 1159.9L552.2 1142L556.9 1124.1L560.3 1108.8L567.2 1070.4L573 1027L578.7 970.8L583.4 906.9L586.7 840.4L588.1 779L587.5 725.4L586.3 697.3L584.7 674.2L582.6 651.2L579.4 625.7L575.8 602.7L571.2 579.7L565.7 556.7L560.6 538.8L555.6 523.4L550.1 508.1L543.9 492.8L537.1 477.4L529.6 462.1L521.4 446.8L489.7 392.6L482.9 377.7L478.8 365L477 356.3L475.6 347.1L473.8 326.6L472.8 301.1L472.3 255L471.7 242.3L470.6 234.6L468 226.9L464.2 219.6L456.5 207.7L448.9 198.1L443.8 192.6L436.1 185.7L428.4 179.9L420.8 175L413.1 170.9L405.5 167.5L395.2 163.9L385 161.2L372.3 158.9L362 158.1L351.8 158L341.6 158.6ZM1416.9 58.2L1419.7 55.7L1682.3 55.7L1682.3 305.7L1676.4 283.2L1673 272.9L1668.1 260.2L1663.5 249.9L1656.9 237.1L1650.9 226.9L1644.1 216.7L1638.4 209L1629.9 198.8L1620.3 188.6L1612.1 180.9L1603.1 173.4L1595.5 167.6L1585.3 160.7L1576.2 155.4L1567.4 150.8L1557.2 146.1L1544.4 141.4L1534.2 138.3L1524 135.8L1511.2 133.7L1501 132.6L1488.2 132.1L1475.5 132.6L1465.2 133.6L1455 135.4L1444.8 137.8L1434.6 141.1L1426.9 144.1L1416.7 149.2L1409.1 153.8L1401.4 159.4L1393.7 166.3L1388.6 171.8L1383.5 178.6L1379 186L1375.9 192.2L1373.3 198.6L1370.8 206.9L1368.2 219.3L1366.5 234.6L1363.8 303.6L1361.7 331.7L1360.4 342L1358.4 352.2L1355.6 362.4L1352.9 369.4L1347.8 379.3L1340.1 390.7L1303 436.5L1285.8 459.5L1272.1 480L1259.8 500.4L1246.5 526L1239.5 541.3L1234.1 554.1L1224 582.2L1216 610.3L1211.2 630.8L1207.8 648.7L1204.3 671.7L1201.9 692.1L1200.1 712.6L1198.7 735.6L1198 758.6L1197.9 784.2L1198.3 812.3L1199.4 840.4L1201.1 871.1L1203.6 904.3L1206.6 937.5L1210.3 970.8L1213.9 998.9L1218.2 1027L1221.8 1047.4L1226.5 1070.4L1231.5 1090.9L1236.6 1108.8L1242.5 1126.7L1248.5 1142L1255.3 1157.4L1262 1170.1L1269.6 1182.9L1276.4 1193.1L1284.1 1203.4L1292.7 1213.6L1302.4 1223.8L1313.3 1234L1325.5 1244.3L1347.8 1261.7L1352.9 1266.3L1356 1269.8L1359.4 1274.9L1362.6 1282.6L1363.9 1287.7L1365.1 1295.4L1366.7 1313.3L1370.5 1407.9L1370.1 1415.5L1368.9 1423.2L1363.5 1443.6L1361.5 1453.9L1360.8 1461.5L1360.7 1471.8L1361.5 1482L1363.1 1491.6L1370.5 1522.9L1372.3 1533.1L1372.8 1543.3L1372.2 1548.4L1370.9 1553.5L1368.8 1558.7L1365.7 1563.8L1359.1 1571.4L1353.2 1576.6L1347.8 1580.6L1333.2 1589.3L915.9 1589.3L1107.7 1554.7L1161.4 1544.4L1192 1537.7L1215 1532.1L1235.4 1526.3L1258.4 1518.7L1276.3 1511.4L1294.1 1502.5L1309.5 1492.9L1322.2 1482.8L1329.9 1475.6L1335 1470.2L1347.8 1454.4L1355.4 1443.3L1360.5 1435.1L1364.1 1428.3L1366.1 1423.2L1367.6 1418.1L1368.5 1413L1369 1402.7L1365.4 1310.7L1364.3 1297.9L1362.6 1287.7L1360.4 1280L1358 1275.1L1356.2 1272.4L1350.3 1266L1342.7 1259.9L1296.3 1228.9L1264.4 1205.9L1238.2 1185.5L1213.6 1165L1185 1139.5L1156 1111.3L1129.1 1083.2L1101.8 1052.6L1067.8 1011.7L1032.2 965.6L1015.2 942.6L999 919.6L986.9 901.7L975.6 883.8L966.6 868.5L959.8 855.7L953.9 842.9L949.8 832.7L946.6 822.5L944.2 812.3L942.9 802.1L942.6 791.8L943.6 781.6L946.5 768.8L951.2 756L957.8 743.3L965.9 730.5L975.4 717.7L986.1 704.9L1000.4 689.6L1026.6 664L1058.1 635.9L1091.1 607.8L1197.1 519.3L1232.9 488.4L1263.5 461.3L1294.1 433.3L1319.7 408.8L1335 392.6L1340.1 386.3L1345.2 379.2L1350.4 370.1L1352.9 364.3L1355.3 357.3L1358.2 344.5L1360.3 329.2L1361.9 308.7L1363 283.2L1364.2 201.4L1364.9 180.9L1366.9 157.9L1368.5 147.7L1370.5 137.5L1373.3 126.9L1377.6 114.5L1382 104.2L1387.5 94L1393.7 84.4L1401.4 74.4L1409.1 65.9ZM1682.1 551.6L1682.3 549.4L1682.3 1188.9L1680.1 1236.6L1678.2 1290.3L1676.6 1346.5L1676.1 1384.8L1676.4 1407.9L1677.5 1428.3L1679.5 1446.2L1682.3 1461.7L1682.3 1589.3L1553.3 1589.3L1548.6 1584.2L1544.7 1579.1L1541.6 1574L1539.4 1568.9L1538.1 1563.8L1537.6 1558.7L1537.9 1553.5L1538.8 1548.4L1541.4 1540.8L1546.3 1530.5L1554 1517.8L1572.5 1488.8L1580.2 1475.8L1589.1 1459L1597.1 1441.1L1604.6 1420.6L1608.4 1407.9L1611.7 1395.1L1616.9 1369.5L1620.6 1343.9L1624.1 1310.7L1626.8 1272.4L1636.9 1052.6L1641.5 975.5L1646.6 905L1651.7 844.1L1659.3 763.9Z"/>
<path fill="#9fff60" stroke="#9fff60" stroke-width="0.7" d="M1479.1 132.3L1495.9 132.3L1513.8 134L1529.1 137L1547 142.2L1564.8 149.6L1580.2 157.6L1595.5 167.6L1609.2 178.4L1622.8 191.1L1634.3 203.9L1645.9 219.3L1655.5 234.6L1663.5 249.9L1671.1 267.8L1677.9 288.3L1682.3 305.7L1682.3 549.4L1659.3 763.9L1651.7 844.1L1646.2 909.4L1641.5 975.5L1638.1 1029.5L1634 1111.3L1627.6 1257L1625.3 1295.4L1622.6 1326.1L1618.9 1356.7L1614 1384.8L1607.7 1410.4L1600.1 1433.4L1592.7 1451.3L1583.8 1469.2L1572.5 1488.8L1547.8 1528L1542.5 1538.2L1538.8 1548.4L1537.9 1553.5L1537.6 1558.7L1538.1 1563.8L1539.4 1568.9L1541.6 1574L1544.7 1579.1L1548.6 1584.2L1553.3 1589.3L1333.2 1589.3L1342.1 1584.2L1349.8 1579.1L1356.3 1574L1361.6 1568.9L1365.7 1563.8L1368.8 1558.7L1370.9 1553.5L1372.6 1545.9L1372.8 1538.2L1372 1530.5L1369.9 1520.3L1363.1 1491.6L1361.5 1482L1360.7 1471.8L1360.8 1461.5L1361.9 1451.3L1363.5 1443.6L1368.9 1423.2L1369.8 1418.1L1370.4 1410.4L1370.3 1400.2L1367.1 1320.9L1366.2 1305.6L1364.8 1292.8L1363.3 1285.2L1361.7 1280L1359.4 1274.9L1355.4 1269.1L1347.8 1261.7L1325.5 1244.3L1316.2 1236.6L1302.4 1223.8L1295 1216.1L1286.2 1205.9L1280.2 1198.2L1272.9 1188L1266.4 1177.8L1260.6 1167.6L1255.3 1157.4L1249.5 1144.6L1244.4 1131.8L1239.8 1119L1232.2 1093.4L1227.1 1073L1223.3 1055.1L1219.1 1032.1L1215.4 1009.1L1211.5 981L1208.5 955.4L1205.6 927.3L1202.7 894.1L1200.6 863.4L1199.1 835.3L1197.9 784.2L1198 761.2L1198.6 738.1L1199.9 715.1L1201.6 694.7L1204.3 671.7L1207.8 648.7L1211.8 628.2L1216.6 607.8L1222.4 587.3L1229.3 566.9L1236.2 549L1244.1 531.1L1251.6 515.8L1259.8 500.4L1267.3 487.6L1277.1 472.3L1287.7 457L1301 439.1L1335 397.3L1342.7 387.1L1350.3 374.7L1355.4 362.8L1357.8 354.7L1359.5 347.1L1361.1 336.8L1362.5 324.1L1364.1 298.5L1366.1 242.3L1367.5 224.4L1369.1 214.1L1370.9 206.5L1373.3 198.6L1377.6 188.6L1381 182.5L1385.5 175.8L1393.7 166.3L1404 157.4L1409.1 153.8L1416.7 149.2L1429.5 143.1L1444.8 137.8L1452.5 135.9L1462.7 134ZM1444.8 165.3L1434.6 167.5L1421.8 171.5L1411.6 175.9L1401.4 181.7L1393.7 187.5L1386.1 194.9L1381 201.6L1375.9 210.6L1371.8 221.8L1370.1 229.5L1368.9 237.1L1367.6 252.5L1365.5 303.6L1363.9 326.6L1361.2 347.1L1359.6 354.7L1357.5 362.4L1353.6 372.6L1347.8 383.6L1342.7 391.7L1318.9 426.3L1311.1 439.1L1304 451.9L1297.6 464.6L1290.9 480L1285.1 495.3L1280 510.7L1273.1 536.2L1267.7 561.8L1262.8 592.4L1259.3 623.1L1256.6 658.9L1254.8 697.3L1253.8 740.7L1253.8 789.3L1254.8 848.1L1256.8 914.5L1259.6 975.9L1263.1 1029.5L1266.7 1070.4L1270.8 1103.7L1275.5 1131.8L1278.3 1144.6L1282.2 1159.9L1287.1 1175.2L1293.1 1190.6L1299.4 1203.4L1307 1216.1L1316.5 1228.9L1325.6 1239.1L1333.5 1246.8L1350.3 1261.7L1355.4 1266.9L1359.5 1272.4L1363.1 1280.2L1365.1 1287.7L1366.3 1295.4L1368.1 1318.4L1370.2 1372.1L1372.1 1407.9L1372.1 1415.5L1371.2 1430.9L1371.1 1438.5L1371.7 1443.6L1372.8 1448.7L1375.9 1456.6L1381 1464.5L1388.6 1472.6L1396.3 1478.4L1406.5 1484.1L1416.7 1488.2L1429.5 1491.7L1442.3 1493.7L1455 1494.2L1467.8 1493.5L1480.6 1491.6L1493.3 1488.3L1506.1 1483.6L1516.3 1478.8L1526.5 1472.8L1536.8 1465.3L1546.6 1456.4L1554.6 1447.5L1561.3 1438.5L1567.6 1428.3L1574 1415.5L1579 1402.7L1583.1 1390L1586.9 1374.6L1589.9 1359.3L1593.6 1333.7L1596.2 1308.2L1598.3 1277.5L1600.1 1241.7L1609.6 952.9L1613.4 860.1L1621.8 674.2L1624.3 610.3L1626.1 541.3L1626.4 480L1625.4 434L1623.3 393.1L1620 357.3L1615.2 324.1L1609.5 295.9L1606.1 283.2L1602.2 270.4L1594.4 249.9L1589.7 239.7L1584.1 229.5L1579.4 221.8L1572 211.6L1565.5 203.9L1557.9 196.3L1549.5 189.2L1541.9 183.7L1534.2 179.1L1526.5 175.3L1518.9 172L1508.7 168.6L1498.4 166.1L1488.2 164.4L1478 163.4L1465.2 163.3L1455 163.9ZM329.5 160.5L339.1 158.9L349.3 158L362 158.1L372.3 158.9L379.9 160.1L390.1 162.4L402.9 166.5L410.6 169.7L420.8 175L428.4 179.9L436.1 185.7L443.8 192.6L448.9 198.1L456.5 207.7L464.2 219.6L468 226.9L470.6 234.6L471.7 242.3L472.3 255L472.8 301.1L473.8 326.6L475.6 347.1L477 356.3L478.8 365L482.9 377.7L489.7 392.6L521.4 446.8L529.6 462.1L537.1 477.4L543.9 492.8L550.1 508.1L555.6 523.4L560.6 538.8L565.7 556.7L570.6 577.1L575.3 600.1L578.7 620.6L582 646.1L584.5 671.7L586.1 694.7L587.4 722.8L588.1 773.9L587.1 830.2L584 896.6L579.6 960.5L573.6 1021.9L567.6 1067.9L564.3 1088.3L560.3 1108.8L556.9 1124.1L552.2 1142L546.7 1159.9L539.9 1177.8L534.3 1190.6L526.2 1205.9L518.3 1218.7L509.1 1231.5L482.1 1263.4L478.2 1269.8L475.1 1277.5L473.8 1282.6L472.5 1290.3L471.1 1308.2L469.1 1390L468.3 1407.9L467.1 1415.5L464.2 1428.2L461.6 1436.8L458.8 1443.6L454 1451.8L451.4 1455.1L446.3 1460.6L441.2 1465.1L436.1 1468.8L425.9 1474.8L413.1 1480.2L400.3 1483.9L387.6 1486.3L372.3 1487.7L359.5 1487.6L346.7 1486.4L334 1484L321.2 1480.3L311 1476.3L300.8 1471.2L290.5 1464.9L280.3 1457L271.6 1448.7L262.8 1438.5L255.4 1428.3L249.2 1418.1L243.9 1407.9L238.3 1395.1L232.7 1379.7L228.1 1364.4L224.9 1351.6L221.1 1333.7L217.9 1315.8L215.2 1297.9L210.2 1254.5L205.9 1203.4L200.6 1121.6L195.4 1021.9L190.2 906.9L186.8 814.8L184.5 727.9L183.6 651.2L184.2 579.7L186.1 515.8L189.5 454.4L194.3 400.7L200 357.3L203 339.4L207.6 316.4L212 298.5L215.5 285.7L220.5 270.4L226.4 255L232.1 242.3L238.9 229.5L245.2 219.3L252.6 209L261.3 198.8L269.1 191.1L278.3 183.5L288 176.8L298.2 171.1L308.4 166.6L318.6 163.1ZM344.2 183L334 185.3L323.7 188.8L316.1 192.1L305.9 198.1L298.2 203.9L290.5 211.2L283.8 219.3L278.6 226.9L273 237.1L268.4 247.4L263.7 260.2L260.7 270.4L256.4 288.3L253.4 303.6L250.7 321.5L248.2 342L245.7 367.5L243.6 395.6L240.4 457L238.1 533.7L237 618L237 715.1L238.2 827.6L240.7 970.8L243.8 1103.7L245.9 1170.1L248.1 1226.4L250.6 1269.8L253.4 1305.6L256.6 1333.7L260.8 1359.3L265.5 1379.7L271.3 1397.6L275.7 1407.9L279.6 1415.5L284.3 1423.2L288 1428.3L292.3 1433.4L298.2 1439.4L305.9 1445.7L311 1449.1L318.6 1453.4L326.3 1456.8L336.5 1460.3L344.2 1462.2L351.8 1463.6L362 1464.8L369.7 1465.3L379.9 1465.4L392.7 1464.5L408 1462L415.7 1460.1L423.3 1457.7L433.5 1453.4L443.8 1447.4L451.4 1440.8L456.5 1434.7L461.6 1425.7L464.2 1419.6L466.2 1413L467.6 1402.7L468.4 1384.8L470.1 1310.7L471.4 1292.8L473.4 1280L475.8 1272.4L479.5 1264.9L499.6 1236.6L505.7 1226.4L510.9 1216.1L516.2 1203.4L519.7 1193.1L523.3 1180.4L526.4 1167.6L529.4 1152.2L531.9 1136.9L536.4 1098.6L540 1052.6L543.1 993.8L546.2 906.9L547.8 825.1L548.3 748.4L547.3 681.9L545.1 628.2L541.5 582.2L539.2 561.8L536.4 541.3L533.9 526L529.8 505.5L524 482.5L515.9 457L511.1 444.2L505.7 431.4L484.6 387.1L479.5 373.1L477.4 365L475.8 357.3L473.8 342L472.4 321.5L471.7 301.1L470.7 247.4L470 239.7L468 232L465.4 226.9L461.6 221.4L456.5 215.4L448.9 208.1L441.2 202.2L433.5 197.3L425.9 193.4L418.2 190.1L410.6 187.4L400.3 184.7L390.1 182.7L382.5 181.7L372.3 181L362 181.1L351.8 181.9Z"/>
<path fill="#afff50" stroke="#afff50" stroke-width="0.7" d="M1443.5 165.6L1455 163.9L1465.2 163.3L1475.5 163.3L1485.7 164.1L1495.9 165.6L1506.1 167.9L1516.3 171.1L1526.5 175.3L1534.2 179.1L1541.9 183.7L1549.5 189.2L1557.9 196.3L1565.5 203.9L1572 211.6L1579.4 221.8L1584.1 229.5L1589.7 239.7L1594.4 249.9L1602.2 270.4L1606.1 283.2L1609.5 295.9L1615.2 324.1L1620 357.3L1623.3 393.1L1625.4 434L1626.4 480L1626.1 541.3L1624.3 610.3L1621.8 674.2L1613.4 860.1L1609.6 952.9L1600.1 1241.7L1598.3 1277.5L1596.2 1308.2L1593.6 1333.7L1589.9 1359.3L1586.9 1374.6L1583.1 1390L1579 1402.7L1574 1415.5L1567.6 1428.3L1561.3 1438.5L1554.6 1447.5L1546.6 1456.4L1536.8 1465.3L1526.5 1472.8L1516.3 1478.8L1506.1 1483.6L1493.3 1488.3L1480.6 1491.6L1467.8 1493.5L1455 1494.2L1442.3 1493.7L1429.5 1491.7L1416.7 1488.2L1406.5 1484.1L1396.3 1478.4L1388.6 1472.6L1381 1464.5L1375.9 1456.6L1372.8 1448.7L1371.7 1443.6L1371.1 1438.5L1371.2 1430.9L1372.1 1415.5L1372.1 1407.9L1370.2 1372.1L1368.1 1318.4L1366.3 1295.4L1365.1 1287.7L1363.1 1280.2L1359.5 1272.4L1355.4 1266.9L1350.3 1261.7L1333.5 1246.8L1325.6 1239.1L1316.5 1228.9L1307 1216.1L1299.4 1203.4L1293.1 1190.6L1287.1 1175.2L1282.2 1159.9L1278.3 1144.6L1275.5 1131.8L1270.8 1103.7L1266.7 1070.4L1263.1 1029.5L1259.8 978.4L1256.9 917.1L1254.8 850.6L1253.8 791.8L1253.8 743.3L1254.7 699.8L1256.6 658.9L1259.1 625.7L1262.5 595L1267.2 564.3L1273.1 536.2L1280 510.7L1285.1 495.3L1290.9 480L1297.6 464.6L1304 451.9L1311.1 439.1L1318.9 426.3L1342.7 391.7L1347.8 383.6L1353.6 372.6L1357.5 362.4L1359.6 354.7L1361.2 347.1L1363.9 326.6L1365.5 303.6L1367.6 252.5L1368.9 237.1L1370.1 229.5L1371.8 221.8L1375.9 210.6L1381 201.6L1386.1 194.9L1393.7 187.5L1401.4 181.7L1411.6 175.9L1421.8 171.5L1432.1 168.2ZM1439.7 180.8L1429.5 182.9L1416.7 186.8L1409.1 190L1398.9 195.6L1391.2 201.3L1386.1 206.2L1381 212.6L1376 221.8L1372.6 232L1370.4 244.8L1369.1 260.2L1367 306.2L1365.5 326.6L1363.4 344.5L1360.1 359.8L1356.7 370.1L1352.1 380.3L1347.8 388.2L1328.1 421.2L1317.9 441.6L1312.6 454.4L1308.1 467.2L1304.1 480L1300.7 492.8L1295.3 518.3L1290.6 549L1287.3 579.7L1284.5 618L1282.7 658.9L1281.6 707.5L1281.3 763.7L1281.7 830.2L1282.9 899.2L1284.6 968.2L1286.7 1027L1288.8 1067.9L1291.9 1108.8L1295 1136.9L1298.7 1159.9L1303.8 1182.9L1307.7 1195.7L1311.5 1205.9L1316.2 1216.1L1322 1226.4L1327.1 1234L1333.2 1241.7L1340.2 1249.4L1352.9 1261.9L1358 1267.8L1362.3 1274.9L1365.1 1282.6L1367.1 1292.8L1368.7 1308.2L1371.7 1377.2L1375 1425.7L1376.2 1433.4L1379 1441.1L1383.5 1448L1388.6 1453.2L1396.3 1458.8L1406.5 1464L1416.7 1467.6L1429.5 1470.6L1442.3 1472.2L1455 1472.5L1467.8 1471.7L1480.6 1469.8L1490.8 1467.4L1503.6 1463.1L1513.8 1458.3L1521.4 1453.9L1529.1 1448.4L1537.4 1441.1L1544.3 1433.4L1549.9 1425.7L1555.9 1415.5L1560.6 1405.3L1565.2 1392.5L1568.8 1379.7L1571.6 1367L1574.2 1351.6L1577.1 1328.6L1579.7 1295.4L1581.7 1257L1583.3 1205.9L1588.5 975.9L1596.6 653.8L1597.9 564.3L1597.7 490.2L1596.7 441.6L1594.9 398.2L1592.1 359.8L1588.8 329.2L1584.4 301.1L1581.8 288.3L1578.6 275.5L1572.1 255L1569.1 247.4L1564.3 237.1L1560 229.5L1555 221.8L1549.5 214.8L1544.2 209L1538.7 203.9L1531.6 198.4L1524 193.5L1516.3 189.6L1508.7 186.4L1498.4 183.2L1490.8 181.4L1480.6 179.8L1470.4 179L1460.1 178.9L1449.9 179.5ZM341.9 183.5L349.3 182.2L359.5 181.2L369.7 181L379.9 181.5L390.1 182.7L400.3 184.7L410.6 187.4L418.2 190.1L425.9 193.4L433.5 197.3L441.2 202.2L448.9 208.1L456.5 215.4L461.6 221.4L465.4 226.9L468 232L470 239.7L470.7 247.4L471.7 301.1L472.4 321.5L473.8 342L475.8 357.3L477.4 365L479.5 373.1L484.6 387.1L505.7 431.4L511.1 444.2L515.9 457L524 482.5L529.8 505.5L533.9 526L536.4 541.3L539.2 561.8L541.5 582.2L544.9 625.7L547.2 676.8L548.2 738.1L548 812.3L546.5 894.1L543.8 978.4L540.5 1044.9L537.1 1090.9L532.6 1131.8L529.8 1149.7L526.9 1165L524 1177.8L519.7 1193.1L516.2 1203.4L510.9 1216.1L505.7 1226.4L499.6 1236.6L479.5 1264.9L475.8 1272.4L473.4 1280L471.4 1292.8L470.1 1310.7L468.4 1384.8L467.6 1402.7L466.2 1413L464.2 1419.6L461.6 1425.7L456.5 1434.7L451.4 1440.8L443.8 1447.4L433.5 1453.4L423.3 1457.7L415.7 1460.1L408 1462L392.7 1464.5L379.9 1465.4L369.7 1465.3L362 1464.8L351.8 1463.6L344.2 1462.2L336.5 1460.3L326.3 1456.8L318.6 1453.4L311 1449.1L305.9 1445.7L298.2 1439.4L292.3 1433.4L288 1428.3L284.3 1423.2L279.6 1415.5L275.7 1407.9L271.3 1397.6L265.5 1379.7L260.8 1359.3L256.6 1333.7L253.6 1308.2L250.9 1274.9L248.5 1234L246.2 1180.4L244.3 1119L240.9 983.5L238.4 840.4L237.1 725.4L237 625.7L238 538.8L240.2 462.1L243.5 398.2L245.5 370.1L247.9 344.5L250.4 324.1L253 306.2L255.8 290.8L259.3 275.5L262.9 262.7L266.4 252.5L271.7 239.7L277.1 229.5L283.8 219.3L290.2 211.6L295.6 206.1L303.3 199.9L311 194.9L321.2 189.8L331.4 186.1ZM356.9 193.5L346.7 194.9L336.5 197.3L326.3 200.9L318.6 204.6L311 209.5L305.4 214.1L300.5 219.3L294.6 226.9L290 234.6L286.4 242.3L281.6 255L278.7 265.3L276.3 275.5L273.5 290.8L271.3 306.2L269.3 324.1L265.9 370.1L263.1 434L261.1 513.2L260.1 602.7L260 710L260.7 840.4L262.7 1011.7L264.6 1131.8L266.1 1198.2L267.8 1249.4L269.4 1285.2L271.6 1318.4L274.2 1343.9L277.2 1364.4L281.7 1384.8L286.6 1400.2L292.5 1413L299.1 1423.2L303.5 1428.3L308.4 1433L313.5 1437L318.6 1440.3L323.7 1443L331.4 1446.3L336.5 1448L346.7 1450.6L356.9 1452.4L364.6 1453.2L382.5 1453.7L397.8 1452.7L413.1 1450.3L425.9 1446.9L436.1 1443L443.8 1438.9L451.4 1433.2L456.5 1427.9L459.1 1424.5L462.7 1418.1L464.2 1414.6L465.4 1410.4L466.8 1400.2L467.6 1382.3L469.4 1308.2L470.5 1292.8L472.4 1280L474.4 1273.1L477 1267L479.5 1262.3L493.9 1239.1L501.1 1223.8L503.9 1216.1L507.1 1205.9L509.7 1195.7L512.3 1182.9L516.5 1154.8L519.8 1119L522.4 1075.6L524.6 1014.2L526.7 924.7L527.9 825.1L528.2 735.6L527.4 661.5L526 615.5L523.8 572L521.2 538.8L517.2 505.5L511.9 474.9L505.7 449.3L498.2 426.3L484.6 392.5L480.1 380.3L477 369.4L475 359.8L472.9 344.5L471.4 324.1L469.6 249.9L468.9 242.3L467.1 234.6L464.5 229.5L461.6 225.6L456.5 220.3L451.4 216L446.3 212.3L438.7 207.8L425.9 202L410.6 197.3L400.3 195.1L392.7 194L374.8 192.7L364.6 192.9Z"/>
<path fill="#bfff40" stroke="#bfff40" stroke-width="0.7" d="M1439.2 180.9L1449.9 179.5L1460.1 178.9L1470.4 179L1480.6 179.8L1490.8 181.4L1498.4 183.2L1508.7 186.4L1516.3 189.6L1524 193.5L1531.6 198.4L1538.7 203.9L1544.2 209L1549.5 214.8L1555 221.8L1560 229.5L1564.3 237.1L1569.1 247.4L1572.1 255L1578.6 275.5L1581.8 288.3L1584.4 301.1L1588.8 329.2L1592.1 359.8L1594.9 398.2L1596.7 441.6L1597.7 490.2L1597.9 564.3L1596.6 653.8L1588.5 975.9L1583.3 1205.9L1581.7 1257L1579.7 1295.4L1577.1 1328.6L1574.2 1351.6L1571.6 1367L1568.8 1379.7L1565.2 1392.5L1560.6 1405.3L1555.9 1415.5L1549.9 1425.7L1544.3 1433.4L1537.4 1441.1L1529.1 1448.4L1521.4 1453.9L1513.8 1458.3L1503.6 1463.1L1490.8 1467.4L1480.6 1469.8L1467.8 1471.7L1455 1472.5L1442.3 1472.2L1429.5 1470.6L1416.7 1467.6L1406.5 1464L1396.3 1458.8L1388.6 1453.2L1383.5 1448L1379 1441.1L1376.2 1433.4L1375 1425.7L1371.7 1377.2L1368.7 1308.2L1367.1 1292.8L1365.1 1282.6L1362.3 1274.9L1358 1267.8L1352.9 1261.9L1340.2 1249.4L1333.2 1241.7L1327.1 1234L1322 1226.4L1316.2 1216.1L1311.5 1205.9L1307.7 1195.7L1303.8 1182.9L1299.7 1165L1295.4 1139.5L1292.1 1111.3L1289.3 1075.6L1287.1 1034.7L1284.8 975.9L1283 904.3L1281.8 832.7L1281.3 766.3L1281.6 710L1282.6 661.5L1284.3 620.6L1287 582.2L1290.2 551.6L1294.8 520.9L1300.1 495.3L1303.4 482.5L1308.1 467.2L1312.6 454.4L1317.9 441.6L1328.1 421.2L1347.8 388.2L1352.1 380.3L1356.7 370.1L1360.1 359.8L1363.4 344.5L1365.5 326.6L1367 306.2L1369.1 260.2L1370.4 244.8L1372.6 232L1376 221.8L1381 212.6L1386.1 206.2L1391.2 201.3L1398.9 195.6L1409.1 190L1416.7 186.8L1429.5 182.9ZM1437.2 191L1426.9 193L1416.7 195.9L1406.5 199.9L1398.9 204L1391.2 209.4L1386.1 214.3L1381 220.9L1377.7 226.9L1375.9 231.6L1374.3 237.1L1372 249.9L1370.7 265.3L1368.6 306.2L1367.2 326.6L1365.1 344.5L1362.6 357.3L1359.7 367.5L1355.4 378.2L1350.3 388.5L1335.6 416.1L1330.9 426.3L1326.7 436.5L1323 446.8L1319.1 459.5L1315.8 472.3L1313.1 485.1L1308.4 513.2L1304.9 543.9L1302.2 579.7L1300.1 628.2L1298.9 681.9L1298.4 743.3L1298.7 817.4L1299.6 901.7L1301.4 998.9L1303.9 1075.6L1305.5 1106.2L1307.2 1129.2L1308.8 1147.1L1311.5 1167.6L1314.7 1185.5L1318.4 1200.8L1322.6 1213.6L1326.9 1223.8L1330.9 1231.5L1337.6 1241.7L1343.7 1249.4L1355.4 1262.3L1360.5 1269L1363.8 1274.9L1366.4 1282.6L1368.3 1292.8L1369.8 1308.2L1372.6 1369.5L1373.9 1390L1375.9 1409.5L1378.4 1424.7L1381 1431.6L1383.5 1435.9L1386.1 1439.1L1388.6 1441.7L1393.7 1445.8L1401.4 1450.2L1406.5 1452.4L1414.2 1455.1L1426.9 1458L1439.7 1459.7L1455 1460.1L1465.2 1459.5L1478 1457.9L1488.2 1455.6L1498.4 1452.5L1508.7 1448.1L1516.3 1443.9L1524 1438.5L1532.4 1430.9L1538.7 1423.2L1543.7 1415.5L1547.8 1407.9L1552 1397.6L1555.3 1387.4L1558.6 1374.6L1561 1361.8L1563.3 1346.5L1566.1 1318.4L1568.1 1285.2L1569.6 1246.8L1571.1 1185.5L1579.7 674.2L1580.6 569.4L1580.2 487.6L1579.2 436.5L1577.4 390.5L1575.3 357.3L1572.2 324.1L1568.7 298.5L1564.1 275.5L1558.9 257.6L1552.9 242.3L1548.9 234.6L1544.1 226.9L1539.3 220.6L1534.2 215L1529.1 210.3L1521.4 204.7L1513.8 200.3L1508.7 198L1501 195.1L1493.3 192.9L1485.7 191.3L1475.5 189.9L1465.2 189.2L1455 189.2L1444.8 190ZM354.9 193.7L362 193L372.3 192.7L382.5 193L392.7 194L400.3 195.1L410.6 197.3L425.9 202L438.7 207.8L446.3 212.3L451.4 216L456.5 220.3L461.6 225.6L464.5 229.5L467.1 234.6L468.9 242.3L469.6 249.9L471.4 324.1L472.9 344.5L475 359.8L477 369.4L480.1 380.3L484.6 392.5L498.2 426.3L505.7 449.3L511.9 474.9L517.2 505.5L521.2 538.8L523.8 572L525.9 612.9L527.2 656.4L528.2 730.5L528 817.4L526.8 919.6L524.7 1011.7L522.4 1075.6L519.8 1119L516.5 1154.8L512.3 1182.9L509.7 1195.7L507.1 1205.9L503.9 1216.1L501.1 1223.8L493.9 1239.1L479.5 1262.3L477 1267L474.4 1273.1L472.4 1280L470.5 1292.8L469.4 1308.2L467.6 1382.3L466.8 1400.2L465.4 1410.4L464.2 1414.6L462.7 1418.1L459.1 1424.5L456.5 1427.9L451.4 1433.2L443.8 1438.9L436.1 1443L425.9 1446.9L413.1 1450.3L397.8 1452.7L382.5 1453.7L364.6 1453.2L356.9 1452.4L346.7 1450.6L334 1447.2L326.3 1444.2L321.2 1441.7L316.1 1438.7L311 1435.1L305.9 1430.7L301.2 1425.7L297.2 1420.6L293.9 1415.5L291.1 1410.4L287.6 1402.7L282.4 1387.4L278.7 1372.1L274.9 1349.1L272.3 1326.1L270.3 1300.5L268.4 1264.7L266.7 1218.7L265.3 1165L263.2 1047.4L261 876.2L260.1 738.1L260 620.6L260.9 526L262.8 444.2L265.5 377.7L268.9 329.2L271 308.7L273.5 290.8L276.3 275.5L278.7 265.3L281.6 255L286.4 242.3L290 234.6L294.6 226.9L300.5 219.3L305.4 214.1L311 209.5L318.6 204.6L326.3 200.9L336.5 197.3L346.7 194.9ZM356.9 201.3L346.7 202.8L339.1 204.6L331.4 207L323.7 210.4L316.1 215L311 219.3L306.2 224.4L302.4 229.5L298 237.1L294.6 244.8L291.9 252.5L289.1 262.7L286.5 275.5L284.4 288.3L281 321.5L278.2 367.5L275.9 439.1L274.3 528.5L273.7 628.2L273.8 763.7L274.7 929.9L276.4 1101.1L278.4 1218.7L279.6 1262.2L281 1297.9L282.5 1323.5L284.5 1346.5L286.8 1364.4L290.1 1382.3L294.4 1397.6L298.6 1407.9L304.5 1418.1L311 1425.7L318.6 1431.9L323.7 1434.9L328.8 1437.4L334 1439.3L341.6 1441.7L354.4 1444.2L369.7 1445.7L385 1445.9L400.3 1445L413.1 1443.2L425.9 1440.3L436.1 1436.9L443.8 1433.2L451.4 1428.1L456.5 1423.3L459.1 1420.3L462 1415.5L464.1 1410.4L464.7 1407.9L466.1 1395.1L468.5 1310.7L469.4 1295.4L471 1282.6L472.8 1274.9L475.6 1267.3L487.9 1244.3L491.4 1236.6L494.4 1228.9L499 1213.6L501.3 1203.4L503.6 1190.6L507 1162.5L509.7 1124.1L511.7 1075.6L513.4 1006.5L514.8 904.3L515.6 786.7L515.5 697.3L514.4 623.1L513.3 584.8L511.5 546.4L509.3 515.8L506.6 490.2L501.9 459.5L496.7 436.5L490.7 416.1L479.5 383.8L476.3 372.6L473.7 359.8L471.7 344.5L470.3 324.1L468.5 252.5L467.5 242.3L466.3 237.1L464.2 232.5L461.6 228.9L456.5 223.9L451.4 220L443.8 215.4L438.7 212.9L425.9 207.9L415.7 205.1L408 203.5L390.1 201L372.3 200.4Z"/>
<path fill="#cfff30" stroke="#cfff30" stroke-width="0.7" d="M1436.2 191.1L1444.8 190L1455 189.2L1465.2 189.2L1475.5 189.9L1485.7 191.3L1493.3 192.9L1501 195.1L1508.7 198L1513.8 200.3L1521.4 204.7L1527.5 209L1533.3 214.1L1538.2 219.3L1542.3 224.4L1547.4 232L1551.6 239.7L1558.1 255L1563.4 272.9L1568.3 295.9L1571.9 321.5L1574.7 349.6L1577.1 385.4L1579 428.9L1580.1 480L1580.6 564.3L1579.8 669.1L1571.2 1182.9L1569.7 1244.3L1568.1 1285.2L1566.1 1318.4L1563.3 1346.5L1561 1361.8L1558.6 1374.6L1555.3 1387.4L1552 1397.6L1547.8 1407.9L1543.7 1415.5L1538.7 1423.2L1532.4 1430.9L1524 1438.5L1516.3 1443.9L1508.7 1448.1L1498.4 1452.5L1488.2 1455.6L1478 1457.9L1465.2 1459.5L1455 1460.1L1439.7 1459.7L1426.9 1458L1414.2 1455.1L1406.5 1452.4L1401.4 1450.2L1393.7 1445.8L1388.6 1441.7L1386.1 1439.1L1383.5 1435.9L1381 1431.6L1378.4 1424.7L1375.9 1409.5L1373.9 1390L1372.6 1369.5L1369.8 1308.2L1368.3 1292.8L1366.4 1282.6L1363.8 1274.9L1360.5 1269L1355.4 1262.3L1343.7 1249.4L1337.6 1241.7L1330.9 1231.5L1326.9 1223.8L1322.6 1213.6L1318.4 1200.8L1314.7 1185.5L1311.5 1167.6L1309.1 1149.7L1307.4 1131.8L1305.5 1106.2L1304 1078.1L1301.5 1004L1299.7 912L1298.7 822.5L1298.4 748.4L1298.8 684.5L1300 630.8L1302.1 582.2L1304.7 546.4L1308.1 515.8L1312.6 487.6L1318.4 462.1L1323 446.8L1326.7 436.5L1330.9 426.3L1335.6 416.1L1350.3 388.5L1355.4 378.2L1359.7 367.5L1362.6 357.3L1365.1 344.5L1367.2 326.6L1371.7 252.5L1373.7 239.7L1376.7 229.5L1379 224.4L1383.5 217.3L1388.6 211.7L1396.3 205.6L1404 201.1L1414.2 196.7L1426.9 193ZM1434.6 198.7L1426.9 200.1L1416.7 202.8L1406.5 206.6L1398.9 210.5L1391.2 215.9L1386.1 220.9L1381.7 226.9L1378.4 233.4L1375.7 242.3L1373.6 255L1372.3 270.4L1368.9 326.6L1366.8 344.5L1364.4 357.3L1361.6 367.5L1358 377.3L1342 411L1333.9 431.4L1330.6 441.6L1326.6 457L1321.6 482.5L1317.9 510.7L1314.9 546.4L1312.8 587.3L1311.4 638.5L1310.6 699.8L1310.5 776.5L1311 868.5L1312.2 965.6L1313.6 1044.9L1315.7 1106.2L1318.4 1149.7L1321.8 1180.4L1324 1193.1L1326.8 1205.9L1330.6 1218.7L1334.6 1228.9L1338.5 1236.6L1343.3 1244.3L1361.1 1267.3L1365.2 1274.9L1367.6 1282.6L1369.5 1292.8L1371 1308.2L1373.6 1364.4L1375.1 1387.4L1377.3 1405.3L1379.9 1418.1L1383 1425.7L1386.4 1430.9L1388.7 1433.4L1393.7 1437.6L1401.4 1442L1411.6 1446L1424.4 1449.1L1437.2 1450.8L1452.5 1451.4L1465.2 1450.8L1475.5 1449.5L1485.7 1447.5L1495.9 1444.5L1506.1 1440.3L1513.8 1436.1L1521 1430.9L1526.5 1425.7L1531.6 1419.7L1536.2 1413L1540.3 1405.3L1543.5 1397.6L1547.6 1384.8L1550.1 1374.6L1552.4 1361.8L1554.2 1349.1L1556.7 1323.5L1558.8 1287.7L1560.4 1241.7L1561.6 1180.4L1568 674.2L1568.6 566.9L1568 480L1567 428.9L1565.5 388L1563.6 352.2L1561.1 321.5L1557.9 295.9L1554.1 275.5L1549.2 257.6L1546.5 249.9L1543.2 242.3L1540.6 237.1L1535.8 229.5L1531.8 224.4L1527.1 219.3L1521.4 214.4L1516.3 210.8L1511.2 207.9L1503.6 204.4L1495.9 201.7L1488.2 199.8L1478 198L1470.4 197.2L1452.5 196.9L1442.3 197.7ZM356.5 201.4L372.3 200.4L390.1 201L408 203.5L415.7 205.1L425.9 207.9L438.7 212.9L443.8 215.4L451.4 220L456.5 223.9L461.6 228.9L464.2 232.5L466.3 237.1L467.5 242.3L468.5 252.5L470.3 324.1L471.7 344.5L473.7 359.8L476.3 372.6L479.5 383.8L490.7 416.1L496.7 436.5L501.9 459.5L506.6 490.2L509.3 515.8L511.5 546.4L513.2 582.2L514.4 620.6L515.4 694.7L515.6 784.2L514.9 901.7L513.4 1004L511.8 1073L509.7 1124.1L507 1162.5L503.6 1190.6L501.3 1203.4L499 1213.6L494.4 1228.9L491.4 1236.6L487.9 1244.3L475.6 1267.3L472.8 1274.9L471 1282.6L469.4 1295.4L468.5 1310.7L466.1 1395.1L464.7 1407.9L464.1 1410.4L462 1415.5L459.1 1420.3L456.5 1423.3L451.4 1428.1L443.8 1433.2L436.1 1436.9L425.9 1440.3L413.1 1443.2L400.3 1445L385 1445.9L369.7 1445.7L354.4 1444.2L341.6 1441.7L334 1439.3L328.8 1437.4L323.7 1434.9L318.6 1431.9L311 1425.7L304.5 1418.1L298.6 1407.9L294.4 1397.6L290.1 1382.3L286.8 1364.4L284.5 1346.5L282.5 1323.5L281 1297.9L278.5 1221.3L276.5 1103.7L274.8 935L273.8 768.8L273.7 630.8L274.3 528.5L275.9 439.1L278.2 367.5L281 321.5L284.4 288.3L286.5 275.5L289.1 262.7L291.9 252.5L294.6 244.8L298 237.1L302.4 229.5L306.2 224.4L311 219.3L316.1 215L323.7 210.4L331.4 207L339.1 204.6L346.7 202.8ZM364.6 206.4L354.4 207.3L346.7 208.5L339.1 210.3L331.4 212.8L323.7 216.4L318.6 219.6L313.2 224.4L309 229.5L304.4 237.1L302 242.3L299.2 249.9L296.5 260.2L294.4 270.4L292.4 283.2L289.5 311.3L286.9 359.8L285 426.3L283.8 508.1L283.1 605.2L283 743.3L283.7 917.1L284.9 1080.7L286.4 1208.5L288.5 1292.8L289.6 1318.4L291.4 1343.9L293.6 1364.4L296 1379.7L299 1392.5L302.4 1402.7L307.3 1413L313.1 1420.6L316.1 1423.6L321.2 1427.5L328.8 1431.7L339.1 1435.3L351.8 1438.1L367.2 1439.9L385 1440.3L400.3 1439.5L413.1 1438L425.9 1435.4L436.1 1432.4L443.8 1429.1L451.4 1424.4L456.5 1420L459.1 1417L461.6 1412.8L463.9 1405.3L465.3 1392.5L467.6 1310.7L468.5 1295.4L470.1 1282.6L471.8 1274.9L474.4 1267.1L484.1 1246.8L489.1 1234L493.3 1218.7L496.6 1200.8L499.5 1175.2L501.7 1142L503.5 1096L504.7 1037.2L506 932.4L506.8 807.2L506.8 702.4L506 623.1L504.9 574.6L503.7 541.3L501.7 508.1L499.2 480L495.8 454.4L491.4 431.4L486.1 411L477 380.7L474.4 370.1L472.1 357.3L470.4 342L469.1 321.5L467.2 252.5L466.5 244.8L464.6 237.1L461.7 232L459.5 229.5L456.5 226.9L451.4 223.2L441.2 217.9L428.4 213.2L415.7 209.9L397.8 207.2L379.9 206.1Z"/>
<path fill="#dfff20" stroke="#dfff20" stroke-width="0.7" d="M1434 198.8L1442.3 197.7L1452.5 196.9L1470.4 197.2L1478 198L1488.2 199.8L1495.9 201.7L1503.6 204.4L1511.2 207.9L1516.3 210.8L1521.4 214.4L1527.1 219.3L1531.8 224.4L1535.8 229.5L1540.6 237.1L1543.2 242.3L1548.4 255L1553.5 272.9L1557.9 295.9L1560.8 318.9L1563.4 349.6L1565.4 385.4L1566.9 426.3L1568 477.4L1568.6 564.3L1568 671.7L1561.6 1180.4L1560.4 1241.7L1558.8 1287.7L1556.7 1323.5L1554.2 1349.1L1552.4 1361.8L1550.1 1374.6L1547.6 1384.8L1543.5 1397.6L1540.3 1405.3L1536.2 1413L1531.6 1419.7L1526.5 1425.7L1521 1430.9L1513.8 1436.1L1506.1 1440.3L1495.9 1444.5L1485.7 1447.5L1475.5 1449.5L1465.2 1450.8L1452.5 1451.4L1437.2 1450.8L1424.4 1449.1L1411.6 1446L1401.4 1442L1393.7 1437.6L1388.7 1433.4L1386.4 1430.9L1383 1425.7L1379.9 1418.1L1377.3 1405.3L1375.1 1387.4L1373.6 1364.4L1371 1308.2L1369.5 1292.8L1367.6 1282.6L1365.2 1274.9L1361.1 1267.3L1343.3 1244.3L1338.5 1236.6L1334.6 1228.9L1330.6 1218.7L1326.8 1205.9L1324 1193.1L1321.8 1180.4L1318.4 1149.7L1315.7 1106.2L1313.7 1047.4L1312.3 973.3L1311.1 876.2L1310.5 781.6L1310.6 704.9L1311.3 643.6L1312.7 589.9L1314.8 549L1317.7 513.2L1321.2 485.1L1323.9 469.8L1326.6 457L1330.6 441.6L1333.9 431.4L1342 411L1358 377.3L1361.6 367.5L1364.4 357.3L1366.8 344.5L1368.9 326.6L1372.3 270.4L1373.6 255L1375.7 242.3L1378.4 233.4L1381.7 226.9L1386.1 220.9L1391.2 215.9L1398.9 210.5L1406.5 206.6L1414.2 203.6L1424.4 200.7ZM1442.3 203.7L1429.5 205.4L1419.3 207.7L1409.1 211.1L1401.4 214.6L1393.7 219.4L1388.6 223.9L1384.2 229.5L1381 235.2L1377.7 244.8L1375.4 257.6L1374 272.9L1370.3 329.2L1368.5 344.5L1366.2 357.3L1363.5 367.5L1360.5 376.2L1346.6 408.4L1340.8 423.7L1335.6 441.6L1331.3 462.1L1327.6 487.6L1324.5 520.9L1322.6 554.1L1321 600.1L1320 653.8L1319.6 722.8L1320.3 901.7L1321.5 1011.7L1323.2 1090.9L1325.5 1144.6L1328.5 1180.4L1330.6 1195.7L1333.1 1208.5L1335.7 1218.7L1339.1 1228.9L1342.5 1236.6L1346.7 1244.3L1351.8 1251.9L1360.5 1263.7L1364.3 1269.8L1366.6 1274.9L1368.9 1282.6L1370.7 1292.8L1372.2 1308.2L1375.9 1379.7L1377.5 1395.1L1379.8 1407.9L1382.1 1415.5L1383.5 1418.9L1386.1 1423.3L1391.2 1429L1396.3 1432.8L1401.4 1435.6L1411.6 1439.5L1424.4 1442.5L1437.2 1444.1L1452.5 1444.7L1462.7 1444.2L1475.5 1442.8L1485.7 1440.7L1493.3 1438.5L1501 1435.6L1508.7 1431.8L1516.3 1426.6L1521.4 1422L1526.5 1416.2L1530.5 1410.4L1534.5 1402.7L1538.6 1392.5L1540.9 1384.8L1543.9 1372.1L1546 1359.3L1547.6 1346.5L1550 1318.4L1551.5 1287.7L1552.9 1241.7L1553.9 1182.9L1558.9 704.9L1559.4 595L1559.1 505.5L1558.4 451.9L1557.3 405.9L1555.8 365L1553.5 329.2L1551 303.6L1548 283.2L1544.1 265.3L1539.1 249.9L1535.7 242.3L1533 237.1L1529.6 232L1525.6 226.9L1521.4 222.6L1516.3 218.4L1511.2 215L1506.1 212.3L1501 210.1L1493.3 207.5L1485.7 205.6L1478 204.3L1470.4 203.5L1460.1 203ZM363.2 206.5L379.9 206.1L397.8 207.2L415.7 209.9L428.4 213.2L441.2 217.9L451.4 223.2L456.5 226.9L459.5 229.5L461.7 232L464.6 237.1L466.5 244.8L467.2 252.5L469.1 321.5L470.4 342L472.1 357.3L474.4 370.1L477 380.7L486.1 411L491.4 431.4L495.8 454.4L499.2 480L501.5 505.5L503.6 538.8L504.8 572L505.9 618L506.8 697.3L506.8 802.1L506.1 927.3L504.8 1034.7L503.5 1096L501.7 1142L499.5 1175.2L496.6 1200.8L493.3 1218.7L489.1 1234L484.1 1246.8L474.4 1267.1L471.8 1274.9L470.1 1282.6L468.5 1295.4L467.6 1310.7L465.3 1392.5L463.9 1405.3L461.6 1412.8L459.1 1417L456.5 1420L451.4 1424.4L443.8 1429.1L436.1 1432.4L425.9 1435.4L413.1 1438L400.3 1439.5L385 1440.3L367.2 1439.9L351.8 1438.1L339.1 1435.3L328.8 1431.7L321.2 1427.5L316.1 1423.6L313.5 1421.1L310.9 1418.1L307.3 1413L303.5 1405.3L299.7 1395.1L296.5 1382.3L293.9 1367L291.6 1346.5L289.9 1323.5L288.7 1297.9L286.5 1216.1L285 1090.9L283.8 927.3L283.1 750.9L283.1 607.8L283.8 508.1L285 426.3L286.9 359.8L289.5 311.3L292.4 283.2L294.4 270.4L296.5 260.2L299.2 249.9L302 242.3L304.4 237.1L309 229.5L313.2 224.4L318.6 219.6L323.7 216.4L328.8 213.8L336.5 211L344.2 209.1L351.8 207.6ZM356.9 211.5L346.7 212.9L339.1 214.7L331.4 217.2L326.3 219.5L321.2 222.6L316.2 226.9L314 229.5L310.5 234.6L307.9 239.7L304.9 247.4L302 257.6L300 267.8L297 290.8L294.9 318.9L292.8 372.6L291.3 441.6L290.3 541.3L289.9 653.8L290.1 830.2L291.2 1055.1L292.3 1185.5L293.9 1277.5L296.1 1333.7L297.4 1351.6L299.3 1369.5L301.9 1384.8L304.4 1395.1L308 1405.3L312 1413L316.1 1418.2L321.2 1422.8L328.8 1427.3L336.5 1430.3L346.7 1432.8L359.5 1434.8L372.3 1435.7L387.6 1435.8L400.3 1435.2L413.1 1433.8L425.9 1431.5L436.1 1428.7L446.3 1424.5L451.4 1421.4L456.5 1417.1L459.1 1414L461.1 1410.4L463.2 1402.7L464.5 1390L466.7 1313.3L467.5 1297.9L468.8 1285.2L470.2 1277.5L472.3 1269.8L481.8 1246.8L486.1 1234L489.1 1221.3L491.6 1205.9L494.2 1180.4L496.3 1142L497.8 1085.8L498.9 1016.8L499.9 889L500.3 745.8L499.8 641L498.7 569.4L497.6 536.2L495.9 500.4L493.9 474.9L491.3 451.9L489 436.5L486 421.2L473.6 372.6L471.7 362.4L470 349.6L467.9 318.9L466.3 257.6L465.4 247.4L463.8 239.7L461.6 235L459.3 232L456.5 229.4L451.4 225.9L441.2 220.9L433.5 218.2L425.9 216L410.6 212.9L392.7 211L374.8 210.4Z"/>
<path fill="#efff10" stroke="#efff10" stroke-width="0.7" d="M1440 203.9L1457.6 202.9L1467.8 203.3L1475.5 204L1483.1 205.1L1490.8 206.8L1495.9 208.3L1503.6 211.1L1508.7 213.6L1513.9 216.7L1518.9 220.4L1524 225.2L1527.7 229.5L1531.4 234.6L1534.4 239.7L1538.1 247.4L1541 255L1543.4 262.7L1547.5 280.6L1550.7 301.1L1553.3 326.6L1555.4 357.3L1556.9 393.1L1558.3 441.6L1559 495.3L1559.4 584.8L1558.9 697.3L1554 1177.8L1552.9 1241.7L1551.5 1287.7L1550 1318.4L1547.6 1346.5L1546 1359.3L1543.9 1372.1L1540.9 1384.8L1538.6 1392.5L1534.5 1402.7L1530.5 1410.4L1526.5 1416.2L1521.4 1422L1516.3 1426.6L1508.7 1431.8L1501 1435.6L1493.3 1438.5L1485.7 1440.7L1475.5 1442.8L1462.7 1444.2L1452.5 1444.7L1437.2 1444.1L1424.4 1442.5L1411.6 1439.5L1401.4 1435.6L1393.7 1431.1L1388 1425.7L1386.1 1423.3L1383.5 1418.9L1380.5 1410.4L1378.3 1400.2L1376.1 1382.3L1374.9 1364.4L1372.2 1308.2L1370.7 1292.8L1368.9 1282.6L1366.6 1274.9L1364.3 1269.8L1360.5 1263.7L1351.8 1251.9L1346.7 1244.3L1342.5 1236.6L1339.1 1228.9L1335.7 1218.7L1333.1 1208.5L1330.6 1195.7L1328.8 1182.9L1325.8 1149.7L1323.5 1101.1L1321.8 1032.1L1320.6 940.1L1319.6 745.8L1319.8 671.7L1320.7 612.9L1321.9 569.4L1324 528.5L1326.8 495.3L1330.5 467.2L1333.3 451.9L1335.6 441.6L1340.8 423.7L1346.6 408.4L1360.5 376.2L1363.5 367.5L1366.2 357.3L1368.5 344.5L1370.3 329.2L1374 272.9L1375.4 257.6L1377.7 244.8L1380.1 237.1L1383.5 230.4L1388.6 223.9L1393.7 219.4L1401.4 214.6L1409.1 211.1L1419.3 207.7L1429.5 205.4ZM1439.7 209L1429.5 210.4L1419.3 212.6L1409.1 215.9L1401.4 219.4L1393.7 224.4L1388.6 229.3L1384.8 234.6L1382.2 239.7L1379 249.9L1376.9 262.7L1375.7 275.5L1372.3 326.6L1370.6 342L1368.5 354.7L1366.1 365L1363.1 374.9L1349.7 408.4L1344.6 423.7L1339.6 444.2L1336.1 464.6L1333.1 490.2L1330.5 526L1328.8 566.9L1327.6 618L1327 684.5L1326.8 766.3L1328.2 988.6L1329.3 1067.9L1330.8 1124.1L1332.9 1165L1335.6 1193.1L1339 1213.6L1341.6 1223.8L1344.1 1231.5L1347.3 1239.1L1351.3 1246.8L1363 1264.7L1365.7 1269.4L1368 1274.9L1370.2 1282.6L1372 1292.8L1373.4 1308.2L1376 1359.3L1377.4 1379.7L1378.9 1392.5L1381.4 1405.3L1384.1 1413L1386.1 1416.9L1388.6 1420.5L1393.7 1425.5L1401.4 1430.2L1411.6 1434.1L1424.4 1437.1L1437.2 1438.6L1452.5 1439.1L1462.7 1438.6L1472.9 1437.6L1483.1 1435.7L1490.8 1433.7L1498.4 1430.9L1506.1 1427.1L1512.1 1423.2L1517.9 1418.1L1522.4 1413L1525.9 1407.9L1529.9 1400.2L1532.9 1392.5L1535.3 1384.8L1537.7 1374.6L1540 1361.8L1541.6 1349.1L1543.8 1323.5L1545.6 1285.2L1546.8 1239.1L1547.8 1170.1L1551.8 697.3L1552.1 579.7L1551.7 485.1L1550.9 434L1549.8 390.5L1548.2 352.2L1546.2 321.5L1543.6 295.9L1540.8 278L1537.3 262.7L1533.1 249.9L1528.1 239.7L1524.8 234.6L1520.7 229.5L1516.3 225.2L1511.2 221.3L1506.1 218.2L1501 215.8L1493.3 213L1488.2 211.6L1480.6 210L1472.9 209L1457.6 208.1ZM355.9 211.6L372.3 210.5L390.1 210.8L408 212.6L423.3 215.4L438.7 219.9L446.3 223.2L451.4 225.9L456.5 229.4L459.1 231.8L461.4 234.6L462.8 237.1L464.2 241L465 244.8L466.1 255L467.9 318.9L470 349.6L471.7 362.4L473.6 372.6L486 421.2L489 436.5L491.3 451.9L493.7 472.3L495.7 497.9L497.1 523.4L498.4 559.2L499.7 628.2L500.2 727.9L500 855.7L499 1001.4L498 1075.6L496.6 1134.3L494.5 1175.2L491.9 1203.4L489.1 1221.3L486.1 1234L481.8 1246.8L472.3 1269.8L470.2 1277.5L468.8 1285.2L467.5 1297.9L466.7 1313.3L464.5 1390L463.2 1402.7L461.1 1410.4L459.1 1414L456.5 1417.1L454 1419.5L446.3 1424.5L438.7 1427.8L431 1430.3L418.2 1433L405.5 1434.7L390.1 1435.7L374.8 1435.7L359.5 1434.8L346.7 1432.8L336.5 1430.3L328.8 1427.3L321.2 1422.8L316.1 1418.2L312 1413L308 1405.3L304.4 1395.1L301.9 1384.8L299.7 1372.1L297.6 1354.2L296.4 1338.8L294.1 1285.2L292.5 1195.7L291.3 1070.4L290.2 842.9L289.9 661.5L290.3 546.4L291.3 444.2L292.8 372.6L294.9 318.9L297 290.8L300 267.8L302 257.6L304.9 247.4L307.9 239.7L310.5 234.6L314 229.5L316.2 226.9L321.2 222.6L326.3 219.5L331.4 217.2L339.1 214.7L346.7 212.9ZM372.3 214.1L354.4 215.3L339.1 218.2L331.4 220.7L326.3 223.1L321.2 226.6L318.1 229.5L314.3 234.6L311.6 239.7L309.6 244.8L307.2 252.5L304.1 267.8L301.2 293.4L299.1 329.2L297.4 388L296.2 467.2L295.5 569.4L295.6 850.6L296.4 1055.1L297.3 1190.6L298.9 1287.7L299.8 1318.4L301 1341.4L302.3 1359.3L304.4 1377.2L306.8 1390L309.7 1400.2L312.8 1407.9L317.7 1415.5L321.2 1419L323.7 1420.9L331.4 1424.9L341.6 1428.2L354.4 1430.5L369.7 1431.9L385 1432.2L402.9 1431.4L418.2 1429.7L431 1427.2L438.7 1424.9L443.8 1422.9L451.4 1418.8L454 1416.9L457.8 1413L459.4 1410.4L461.4 1405.3L462.7 1397.6L464.1 1377.2L465.9 1310.7L467.6 1287.7L468.7 1280L470.5 1272.4L472 1267.3L480.6 1244.3L483.4 1234L485.5 1223.8L488.8 1198.2L491.3 1157.4L493.2 1078.1L494.4 947.7L495 753.5L494.4 612.9L492.7 528.5L491.3 495.3L489.3 467.2L486.6 441.6L483.8 423.7L480.7 408.4L472.8 375.2L470.9 365L469.3 353.6L467.9 339.4L466.9 321.5L465 257.6L464.2 248.5L462.9 242.3L461.6 238.7L459.2 234.6L456.5 231.9L454 229.9L446.3 225.6L433.5 221L420.8 217.9L405.5 215.6L390.1 214.4Z"/>
<path fill="#ffff00" stroke="#ffff00" stroke-width="0.7" d="M1439.6 209L1457.6 208.1L1472.9 209L1480.6 210L1488.2 211.6L1493.3 213L1501 215.8L1506.1 218.2L1511.2 221.3L1516.3 225.2L1520.7 229.5L1524.8 234.6L1528.1 239.7L1533.1 249.9L1537.3 262.7L1540.8 278L1543.6 295.9L1546.2 321.5L1548.2 352.2L1549.8 390.5L1550.9 434L1551.7 485.1L1552.1 579.7L1551.8 697.3L1547.8 1170.1L1546.8 1239.1L1545.6 1285.2L1543.8 1323.5L1541.6 1349.1L1540 1361.8L1537.7 1374.6L1535.3 1384.8L1532.9 1392.5L1529.9 1400.2L1525.9 1407.9L1522.4 1413L1517.9 1418.1L1512.1 1423.2L1506.1 1427.1L1498.4 1430.9L1490.8 1433.7L1483.1 1435.7L1472.9 1437.6L1462.7 1438.6L1452.5 1439.1L1437.2 1438.6L1424.4 1437.1L1411.6 1434.1L1401.4 1430.2L1393.7 1425.5L1388.6 1420.5L1386.1 1416.9L1384.1 1413L1381.4 1405.3L1378.9 1392.5L1377.4 1379.7L1376 1359.3L1373.4 1308.2L1372 1292.8L1370.2 1282.6L1368 1274.9L1365.7 1269.4L1363 1264.7L1351.3 1246.8L1347.3 1239.1L1344.1 1231.5L1341.6 1223.8L1339 1213.6L1335.6 1193.1L1332.9 1165L1330.8 1124.1L1329.3 1067.9L1328.2 988.6L1326.8 766.3L1327 684.5L1327.6 618L1328.8 566.9L1330.5 526L1333.1 490.2L1336.1 464.6L1339.6 444.2L1344.6 423.7L1349.7 408.4L1363.1 374.9L1366.1 365L1368.5 354.7L1370.6 342L1372.3 326.6L1375.7 275.5L1376.9 262.7L1379 249.9L1382.2 239.7L1384.8 234.6L1388.6 229.3L1393.7 224.4L1401.4 219.4L1409.1 215.9L1419.3 212.6L1429.5 210.4ZM1434.6 214.1L1424.4 215.8L1416.7 217.7L1409.1 220.3L1400.6 224.4L1396.3 227.2L1390.9 232L1386.1 238.6L1383.2 244.8L1380.3 255L1378.4 267.7L1374.1 326.6L1372.4 342L1370.3 354.7L1368.1 365L1365 375.2L1353.6 405.9L1348.8 421.2L1344.1 441.6L1340.6 464.6L1337.9 492.8L1335.7 531.1L1334.2 577.1L1333.3 635.9L1332.9 717.7L1333 825.1L1333.7 958L1334.8 1055.1L1335.8 1108.8L1337 1147.1L1338.8 1177.8L1341.5 1203.4L1344.8 1221.3L1346.9 1228.9L1349.5 1236.6L1354.1 1246.8L1364.8 1264.7L1367.4 1269.8L1369.5 1274.9L1371.6 1282.6L1373.3 1292.8L1374.6 1305.6L1377.4 1359.3L1378.7 1377.2L1381 1394.3L1383.5 1404.4L1386.1 1410.6L1388.6 1414.8L1391.2 1418L1396.3 1422.4L1404 1426.6L1414.2 1430.2L1424.4 1432.3L1437.2 1433.8L1452.5 1434.3L1462.7 1433.8L1472.9 1432.7L1483.1 1430.8L1490.8 1428.7L1498.4 1425.8L1506.1 1421.7L1511.2 1417.9L1516.3 1413L1520.3 1407.9L1523.4 1402.7L1527 1395.1L1529.7 1387.4L1532.3 1377.2L1533.8 1369.5L1535.8 1356.7L1537.2 1343.9L1539.1 1315.8L1540.7 1274.9L1541.7 1223.8L1542.7 1142L1546 669.1L1546.1 549L1545.3 454.4L1543.2 367.5L1541.6 334.3L1539.9 311.3L1537.6 290.8L1534.6 272.9L1530.6 257.6L1526.7 247.4L1524 242.3L1520.8 237.1L1514 229.5L1506.1 223.6L1501 220.9L1495.9 218.7L1483.1 215.2L1467.8 213.1L1449.9 212.8ZM371.9 214.1L390.1 214.4L405.5 215.6L420.8 217.9L433.5 221L446.3 225.6L454 229.9L456.5 231.9L459.2 234.6L461.6 238.7L462.9 242.3L464.2 248.5L465 257.6L466.9 321.5L467.9 339.4L469.3 353.6L470.9 365L472.8 375.2L480.7 408.4L483.8 423.7L486.6 441.6L489.3 467.2L491.3 495.3L492.7 528.5L494.4 612.9L495 753.5L494.4 947.7L493.2 1078.1L491.3 1157.4L488.8 1198.2L485.5 1223.8L483.4 1234L480.6 1244.3L472 1267.3L470.5 1272.4L468.7 1280L467.6 1287.7L465.9 1310.7L464.1 1377.2L462.7 1397.6L461.4 1405.3L459.4 1410.4L457.8 1413L454 1416.9L451.4 1418.8L443.8 1422.9L438.7 1424.9L431 1427.2L418.2 1429.7L402.9 1431.4L385 1432.2L369.7 1431.9L354.4 1430.5L341.6 1428.2L331.4 1424.9L323.7 1420.9L321.2 1419L317.7 1415.5L312.8 1407.9L309.7 1400.2L306.8 1390L304.4 1377.2L302.3 1359.3L301 1341.4L299.8 1318.4L298.9 1287.7L297.4 1193.1L296.4 1057.7L295.6 858.3L295.5 574.6L296.2 472.3L297.3 393.1L298.9 334.3L301 295.9L303.7 270.4L307.2 252.5L309.6 244.8L311.6 239.7L314.3 234.6L318.1 229.5L321.2 226.6L326.3 223.1L331.4 220.7L339.1 218.2L354.4 215.3ZM349.3 219.1L341.6 220.5L336.5 221.9L331.4 223.7L326.3 226.2L321.8 229.5L319.4 232L317.5 234.6L314.7 239.7L312.7 244.8L310.4 252.5L307.1 270.4L304.8 293.4L303.2 324.1L301.6 382.8L300.4 477.4L299.8 584.8L299.7 720.3L300.1 947.7L301.1 1152.2L302.2 1259.6L303.8 1323.5L305.6 1356.7L307.1 1372.1L309 1384.8L310.6 1392.5L312.7 1400.2L315.9 1407.9L319 1413L321.3 1415.5L326.3 1419.5L331.4 1422L341.6 1425.3L351.8 1427.2L364.6 1428.5L377.4 1429.1L392.7 1429L408 1428L418.2 1426.9L431 1424.5L438.7 1422.4L446.3 1419.4L451.4 1416.5L454 1414.5L456.5 1411.9L459.1 1407.6L461.2 1400.2L462.5 1387.4L465 1310.7L465.9 1295.4L467 1285.2L468.2 1277.5L470.1 1269.8L476.3 1251.9L479.9 1239.1L482.4 1226.4L484.2 1213.6L486.6 1182.9L488.3 1136.9L489.3 1075.6L490.2 973.3L490.8 809.7L490.7 671.7L489.9 579.7L488.4 510.7L486.1 467.2L483.2 436.5L481 421.2L478.7 408.4L470.5 370.1L467.7 349.6L465.7 318.9L463.7 257.6L462.5 247.4L461.6 243.5L460.2 239.7L458.8 237.1L456.5 234.4L453.8 232L448.9 229.1L441.2 225.8L436.1 224.2L420.8 220.6L402.9 218.2L385 217.2L364.6 217.5Z"/>
<path fill="#ffef00" stroke="#ffef00" stroke-width="0.7" d="M1434 214.1L1449.9 212.8L1467.8 213.1L1483.1 215.2L1495.9 218.7L1501 220.9L1506.1 223.6L1514 229.5L1520.8 237.1L1524 242.3L1526.7 247.4L1530.6 257.6L1534.6 272.9L1537.6 290.8L1539.9 311.3L1541.6 334.3L1543.2 367.5L1545.2 451.9L1546 546.4L1546 666.6L1542.7 1139.5L1541.7 1223.8L1540.7 1274.9L1539.1 1315.8L1537.2 1343.9L1535.8 1356.7L1533.8 1369.5L1532.3 1377.2L1529.7 1387.4L1527 1395.1L1523.4 1402.7L1520.3 1407.9L1516.3 1413L1511.2 1417.9L1506.1 1421.7L1498.4 1425.8L1490.8 1428.7L1483.1 1430.8L1472.9 1432.7L1462.7 1433.8L1452.5 1434.3L1437.2 1433.8L1424.4 1432.3L1414.2 1430.2L1404 1426.6L1396.3 1422.4L1391.2 1418L1388.6 1414.8L1386.1 1410.6L1383.5 1404.4L1381 1394.3L1378.7 1377.2L1377.4 1359.3L1374.6 1305.6L1373.3 1292.8L1371.6 1282.6L1369.5 1274.9L1367.4 1269.8L1364.8 1264.7L1354.1 1246.8L1349.5 1236.6L1346.9 1228.9L1344.8 1221.3L1341.5 1203.4L1339 1180.4L1337.2 1149.7L1335.8 1111.3L1334.8 1057.7L1333.8 960.5L1333 830.2L1332.9 722.8L1333.3 638.5L1334.1 579.7L1335.5 533.7L1337.7 495.3L1340.3 467.2L1344.1 441.6L1348.8 421.2L1353.6 405.9L1365 375.2L1368.1 365L1370.3 354.7L1372.4 342L1374.1 326.6L1378.4 267.7L1380.3 255L1383.2 244.8L1385.5 239.7L1388.7 234.6L1393.7 229.2L1398.9 225.4L1406.5 221.3L1414.2 218.4L1424.4 215.8ZM1429.5 218.8L1419.3 221L1411.6 223.4L1404 226.7L1398.9 229.8L1393.7 234L1390.9 237.1L1387.5 242.3L1384.3 249.9L1381.8 260.2L1380.3 270.4L1375.6 329.2L1374.2 342L1372.2 354.7L1367.9 372.6L1356.4 405.9L1351.4 423.7L1347 446.8L1344.2 469.8L1341.7 503L1340 543.9L1338.9 592.4L1338.2 653.8L1338 756L1338.4 889L1339.2 1014.2L1340.3 1098.6L1341.3 1136.9L1342.5 1165L1344 1188L1346.3 1208.5L1349.6 1226.4L1353.6 1239.1L1358.1 1249.4L1368.2 1268L1370.9 1274.9L1372.9 1282.6L1374.6 1292.8L1376.1 1308.2L1378.6 1354.2L1380.1 1374.6L1382.1 1390L1384.7 1400.2L1387.9 1407.9L1391.3 1413L1396.3 1417.7L1404 1422.3L1414.2 1425.9L1424.4 1428.1L1437.2 1429.6L1452.5 1430L1462.7 1429.5L1472.9 1428.4L1483.1 1426.4L1490.8 1424.2L1498.4 1421.1L1503.6 1418.2L1508.7 1414.5L1512.9 1410.4L1516.9 1405.3L1520 1400.2L1523.5 1392.5L1526 1384.8L1528 1377.2L1529.9 1367L1533 1341.4L1535 1308.2L1536.3 1267.3L1537.4 1203.4L1538.2 1108.8L1540.9 641L1540.7 518.3L1539.7 423.7L1537.5 349.6L1535.9 321.5L1533.9 298.5L1531.4 280.6L1528.3 265.3L1525.1 255L1520.5 244.8L1515.3 237.1L1511.2 232.8L1507.2 229.5L1503.6 227L1498.4 224.4L1488.2 220.7L1475.5 218.1L1460.1 216.8L1444.8 217.1ZM348.2 219.3L364.6 217.5L382.5 217.1L402.9 218.2L420.8 220.6L436.1 224.2L441.2 225.8L448.9 229.1L453.8 232L456.5 234.4L458.8 237.1L460.2 239.7L461.6 243.5L462.5 247.4L463.7 257.6L465.7 318.9L467.7 349.6L470.5 370.1L478.7 408.4L481 421.2L483.2 436.5L486.1 467.2L488.4 510.7L489.9 579.7L490.7 671.7L490.8 809.7L490.2 973.3L489.3 1075.6L488.3 1136.9L486.6 1182.9L484.2 1213.6L482.4 1226.4L479.9 1239.1L476.3 1251.9L470.1 1269.8L468.2 1277.5L467 1285.2L465.9 1295.4L465 1310.7L462.5 1387.4L461.2 1400.2L459.1 1407.6L456.5 1411.9L454 1414.5L451.4 1416.5L446.3 1419.4L438.7 1422.4L431 1424.5L418.2 1426.9L408 1428L392.7 1429L377.4 1429.1L364.6 1428.5L351.8 1427.2L341.6 1425.3L331.4 1422L326.3 1419.5L321.3 1415.5L319 1413L315.9 1407.9L312.7 1400.2L310.6 1392.5L309 1384.8L307.1 1372.1L305.6 1356.7L303.8 1323.5L302.2 1259.6L301.1 1154.8L300.2 952.9L299.7 725.4L299.8 589.9L300.3 482.5L301.5 385.4L303.1 326.6L304.6 295.9L307.1 270.4L310.4 252.5L312.7 244.8L314.7 239.7L317.5 234.6L319.4 232L321.8 229.5L326.3 226.2L334 222.7L341.6 220.5ZM349.3 221.6L339.1 223.7L334 225.2L328.8 227.4L325.5 229.5L322.5 232L320.3 234.6L317.4 239.7L315.3 244.8L313.1 252.5L310.3 267.8L308.1 290.8L306.6 318.9L305.1 377.7L304 464.6L303.5 577.1L303.4 722.8L304.6 1152.2L305.5 1259.6L307.1 1328.6L309.2 1364.4L310.2 1374.6L312.1 1387.4L314.5 1397.6L316.2 1402.7L318.5 1407.9L322 1413L326.3 1416.7L331.4 1419.5L339.1 1422.1L346.7 1423.8L356.9 1425.2L369.7 1426.2L382.5 1426.5L395.2 1426.2L410.6 1425.2L420.8 1424L431 1422.2L441.2 1419.4L448.9 1415.9L453.1 1413L456.5 1409L458.4 1405.3L460.3 1397.6L461.7 1384.8L464 1313.3L465.7 1287.7L468.4 1272.4L475.4 1249.4L477.9 1239.1L480.1 1226.4L481.6 1213.6L483.7 1182.9L485.2 1134.3L486.1 1067.9L486.7 968.2L487.2 789.3L487.1 653.8L486.3 561.8L484.8 500.4L483 462.1L480.2 431.4L476.3 405.9L469.3 370L466.6 349.6L464.6 321.5L462.6 260.2L461.5 249.9L460.3 244.8L459.1 241.4L456.5 237.1L454 234.6L448.9 231.2L443.8 228.8L436.1 226.3L423.3 223.4L405.5 221L385 219.8L364.6 220.1Z"/>
<path fill="#ffdf00" stroke="#ffdf00" stroke-width="0.7" d="M1427.2 219.3L1442.3 217.3L1460.1 216.8L1475.5 218.1L1488.2 220.7L1498.4 224.4L1503.6 227L1507.2 229.5L1511.2 232.8L1515.3 237.1L1520.5 244.8L1525.1 255L1528.3 265.3L1531.4 280.6L1533.9 298.5L1535.7 318.9L1537.4 347.1L1539.5 416.1L1540.7 510.7L1540.9 633.3L1538.3 1098.6L1537.4 1198.2L1536.4 1264.7L1535 1308.2L1533 1341.4L1529.9 1367L1528 1377.2L1526 1384.8L1523.5 1392.5L1520 1400.2L1516.9 1405.3L1512.9 1410.4L1508.7 1414.5L1503.6 1418.2L1498.4 1421.1L1490.8 1424.2L1483.1 1426.4L1472.9 1428.4L1462.7 1429.5L1452.5 1430L1439.7 1429.7L1426.9 1428.5L1416.7 1426.6L1406.5 1423.4L1398.9 1419.5L1393.7 1415.6L1391.2 1412.8L1388.6 1409.2L1385.5 1402.7L1382.7 1392.5L1380.3 1377.2L1378.7 1356.7L1376.1 1308.2L1374.6 1292.8L1372.9 1282.6L1370.9 1274.9L1368.2 1268L1358.1 1249.4L1353.6 1239.1L1349.6 1226.4L1346.6 1211L1344.5 1193.1L1342.9 1172.7L1341.6 1144.6L1340.5 1106.2L1339.3 1024.4L1338.5 901.7L1338 761.2L1338.2 656.4L1338.9 592.4L1340 543.9L1341.7 503L1344.2 469.8L1347 446.8L1351.4 423.7L1356.4 405.9L1367.9 372.6L1372.2 354.7L1374.2 342L1375.6 329.2L1380.3 270.4L1381.8 260.2L1384.3 249.9L1387.5 242.3L1390.9 237.1L1393.7 234L1398.9 229.8L1404 226.7L1411.6 223.4L1419.3 221ZM1437.2 221.5L1426.9 223.1L1419.3 224.8L1411.6 227.3L1404 230.8L1398.9 234.2L1393.7 239L1389.7 244.8L1387.2 249.9L1384.3 260.2L1382.2 272.9L1377.5 329.2L1376.1 342L1374.1 354.7L1370 372.6L1360 403.3L1355.7 418.6L1352.1 436.5L1349.3 457L1346.7 487.6L1344.9 523.4L1343.7 566.9L1343 625.7L1342.6 712.6L1342.7 827.6L1344.2 1070.4L1345 1119L1346.3 1159.9L1347.9 1188L1349.9 1208.5L1352.4 1223.8L1355.7 1236.6L1359.5 1246.8L1370.7 1269.8L1373.2 1277.5L1374.9 1285.2L1376.3 1295.4L1377.5 1308.2L1381.3 1369.5L1383.5 1386.8L1386.1 1397.1L1389.7 1405.3L1393.7 1410.7L1398.9 1415.1L1406.5 1419.3L1416.7 1422.6L1426.9 1424.6L1439.7 1425.8L1452.5 1426.1L1462.7 1425.6L1472.9 1424.4L1480.6 1423L1488.2 1420.9L1495.9 1417.8L1501 1415.1L1506.1 1411.3L1509.7 1407.9L1513.8 1402.8L1516.8 1397.6L1519.2 1392.5L1521.9 1384.8L1523.9 1377.2L1525.9 1367L1528.7 1343.9L1530.6 1315.8L1532 1274.9L1533 1223.8L1533.7 1147.1L1536.3 674.2L1536.3 549L1535.6 451.9L1533.7 365L1532.6 336.8L1530.9 311.3L1528.8 290.8L1526.4 275.5L1523.3 262.7L1519.7 252.5L1517.2 247.4L1514.1 242.3L1508.7 236L1506.1 233.8L1501 230.2L1493.3 226.5L1488.2 224.8L1480.6 222.9L1467.8 221.1L1452.5 220.6ZM348.3 221.8L364.6 220.1L382.5 219.7L402.9 220.7L420.8 222.9L436.1 226.3L446.3 229.9L450.4 232L454 234.5L456.5 237.1L458.2 239.7L459.5 242.3L461 247.4L462.4 257.6L464.6 321.5L466.6 349.6L469.3 370L476.3 405.9L479.8 428.9L482.6 457L484.4 490.2L486.1 549L487 635.9L487.2 766.3L486.8 942.6L486.2 1055.1L485.3 1129.2L483.8 1180.4L481.6 1213.6L480.1 1226.4L477.9 1239.1L475.4 1249.4L468.4 1272.4L465.7 1287.7L464 1313.3L461.7 1384.8L460.3 1397.6L458.4 1405.3L456.5 1409L453.1 1413L448.9 1415.9L441.2 1419.4L431 1422.2L420.8 1424L410.6 1425.2L395.2 1426.2L382.5 1426.5L369.7 1426.2L356.9 1425.2L346.7 1423.8L339.1 1422.1L331.4 1419.5L326.3 1416.7L322 1413L318.5 1407.9L316.2 1402.7L314.5 1397.6L312.1 1387.4L310.2 1374.6L309.2 1364.4L307.2 1331.2L305.6 1262.2L304.6 1157.4L303.4 730.5L303.5 582.2L304 467.2L305 380.3L306.6 318.9L308.1 290.8L310.3 267.8L313.1 252.5L315.3 244.8L317.4 239.7L320.3 234.6L322.5 232L325.5 229.5L328.8 227.4L334 225.2L339.1 223.7ZM346.7 224.3L339.1 225.9L334 227.5L328.8 229.8L326.3 231.5L323.7 233.8L321.2 237.1L317.7 244.8L314.4 257.6L312.2 272.9L310.4 295.9L309.3 321.5L307.9 388L307 482.5L306.5 763.7L307.7 1175.2L308.7 1282.6L310.2 1338.8L312.1 1369.5L315 1390L316.8 1397.6L319.6 1405.3L322.6 1410.4L324.9 1413L328.8 1415.9L334 1418.2L339.1 1419.9L349.3 1422L359.5 1423.1L372.3 1423.9L385 1424.1L397.8 1423.8L420.8 1421.9L431 1420.1L438.7 1418.2L445.7 1415.5L450.2 1413L454 1409.6L456.7 1405.3L459.1 1397.2L460.7 1382.3L463 1313.3L464.8 1287.7L467.4 1272.4L473.2 1251.9L475.6 1241.7L477.7 1228.9L479.1 1216.1L481.1 1182.9L482.5 1129.2L483.3 1050L483.9 924.7L484.2 748.4L483.9 620.6L483 538.8L481.4 480L479.8 451.9L477.5 426.3L475 408.4L467.7 367.5L465.4 349.6L463.5 321.5L461.4 262.7L459.9 249.9L459.1 246.5L457.5 242.3L456.1 239.7L454 237.1L451 234.6L446.3 231.9L436.1 228.2L423.3 225.4L402.9 222.9L382.5 222.1L362 222.6Z"/>
<path fill="#ffcf00" stroke="#ffcf00" stroke-width="0.7" d="M1434.9 221.8L1449.9 220.6L1465.2 220.9L1478 222.4L1485.7 224L1490.8 225.6L1499.7 229.5L1507.1 234.6L1511.2 238.7L1513.8 241.9L1518.9 250.6L1522.6 260.2L1525.9 272.9L1528.5 288.3L1530.7 308.7L1532.3 331.7L1533.5 359.8L1535.5 441.6L1536.3 538.8L1536.3 664L1533.8 1134.3L1532.1 1269.8L1530.9 1310.7L1529 1341.4L1526.3 1364.4L1524.5 1374.6L1522.7 1382.3L1520.2 1390L1516.8 1397.6L1513.8 1402.8L1509.7 1407.9L1506.1 1411.3L1501 1415.1L1495.9 1417.8L1488.2 1420.9L1480.6 1423L1472.9 1424.4L1462.7 1425.6L1452.5 1426.1L1439.7 1425.8L1426.9 1424.6L1416.7 1422.6L1406.5 1419.3L1398.9 1415.1L1393.7 1410.7L1389.7 1405.3L1386.1 1397.1L1383.5 1386.8L1381.3 1369.5L1377.5 1308.2L1376.3 1295.4L1374.9 1285.2L1373.2 1277.5L1370.7 1269.8L1359.5 1246.8L1355.7 1236.6L1352.4 1223.8L1349.9 1208.5L1347.9 1188L1346.4 1162.5L1345.3 1129.2L1344.4 1083.2L1343.5 988.6L1342.8 848.1L1342.6 725.4L1342.9 633.3L1343.6 574.6L1344.7 528.5L1346.5 490.2L1349 459.5L1352.1 436.5L1355.7 418.6L1360 403.3L1370 372.6L1374.1 354.7L1376.1 342L1377.5 329.2L1382.2 272.9L1383.7 262.7L1386.3 252.5L1388.6 246.7L1391.2 242.3L1396.3 236.3L1401.4 232.4L1409.1 228.3L1416.7 225.5L1424.4 223.6ZM1447.4 224.3L1437.2 225.1L1426.9 226.7L1416.7 229.3L1409.1 232.2L1404 234.9L1397.8 239.7L1393.7 244.4L1390.5 249.9L1388.6 254.4L1386.9 260.2L1384.5 272.9L1383.1 285.7L1379.2 331.7L1377.3 347.1L1375.6 357.3L1371.3 375.2L1360.5 411L1356.1 431.4L1353.3 451.9L1351.2 474.9L1349.5 503L1348.3 538.8L1346.9 641L1346.7 802.1L1347.6 998.9L1348.8 1116.5L1349.8 1152.2L1351 1180.4L1352.5 1200.8L1354.7 1218.7L1356.6 1228.9L1359.3 1239.1L1363.1 1249.4L1372.3 1269.8L1374.7 1277.5L1376.3 1285.2L1377.8 1295.4L1379 1308.2L1381.6 1351.6L1383.3 1372.1L1385.8 1387.4L1389 1397.6L1391.6 1402.7L1396.3 1408.6L1401.4 1412.6L1409.1 1416.4L1416.7 1418.8L1426.9 1420.9L1437.2 1422L1449.9 1422.4L1460.1 1422.1L1467.8 1421.4L1478 1419.7L1484.5 1418.1L1490.8 1415.9L1496.9 1413L1501 1410.4L1506.1 1406L1509 1402.7L1512.4 1397.6L1515.1 1392.5L1518 1384.8L1520.1 1377.2L1522.2 1367L1524.8 1346.5L1526.6 1320.9L1527.8 1290.3L1529.6 1185.5L1531.9 771.4L1532.3 564.3L1531.4 439.1L1529.4 354.7L1527.9 324.1L1526.1 301.1L1523.8 283.2L1520.8 267.8L1517.6 257.6L1515.5 252.5L1512.7 247.4L1509.1 242.3L1506.1 239L1503.6 236.8L1498.4 233.3L1493.3 230.7L1488.2 228.7L1478 226.1L1462.7 224.4ZM346.5 224.4L362 222.6L382.5 222.1L402.9 222.9L420.8 225L433.5 227.6L443.8 230.8L451.4 234.9L454 237.1L456.5 240.4L459.3 247.4L461 257.6L461.8 270.4L463.5 321.5L465.2 347.1L467.7 367.5L474.2 403.3L477.2 423.7L479.2 444.2L481.3 477.4L483 536.2L483.9 615.5L484.2 740.7L483.9 917.1L483.4 1044.9L482.5 1126.7L481.2 1180.4L479.1 1216.1L477.7 1228.9L475.6 1241.7L473.2 1251.9L467.4 1272.4L464.8 1287.7L463 1313.3L460.7 1382.3L459.1 1397.2L456.7 1405.3L454 1409.6L450.2 1413L445.7 1415.5L438.7 1418.2L431 1420.1L420.8 1421.9L397.8 1423.8L385 1424.1L372.3 1423.9L359.5 1423.1L349.3 1422L339.1 1419.9L334 1418.2L328.8 1415.9L324.9 1413L322.6 1410.4L319.6 1405.3L316.8 1397.6L315 1390L312.1 1369.5L310.2 1338.8L308.7 1282.6L307.7 1175.2L306.5 763.7L307 482.5L307.9 388L309.3 321.5L310.4 295.9L312.2 272.9L314.4 257.6L317.7 244.8L321.2 237.1L323.7 233.8L326.3 231.5L328.8 229.8L334 227.5L339.1 225.9ZM369.7 224.3L351.8 225.6L339.1 228L334 229.6L329 232L326.3 234.1L323.7 237L322 239.7L319.8 244.8L318.2 249.9L316.6 257.6L314.4 272.9L312.7 295.9L311.4 334.3L310.3 403.3L309.5 497.9L309.2 615.5L309.8 1067.9L310.4 1205.9L311.4 1297.9L312.7 1343.9L314.9 1374.6L316.6 1387.4L318.2 1395.1L320.6 1402.7L323.2 1407.9L326.3 1411.5L331.4 1415L336.5 1417L344.2 1419L351.8 1420.2L364.6 1421.5L377.4 1422L390.1 1422L405.5 1421.4L418.2 1420.2L428.4 1418.7L438.7 1416.3L446.3 1413.2L450.6 1410.4L454 1406.6L456 1402.7L458.1 1395.1L459.5 1382.3L462.1 1310.7L463.8 1287.7L466.3 1272.4L473.5 1244.3L476.4 1223.8L478.1 1200.8L479.3 1167.6L480.2 1116.5L480.8 1044.9L481.5 717.7L481.2 607.8L480.4 531.1L478.9 474.9L476.6 436.5L473.4 408.4L466.9 370.1L464.5 352.2L462.4 324.1L459.9 262.7L458.7 252.5L456.6 244.8L453.7 239.7L451.4 237.4L448.9 235.5L441.2 231.7L431 228.8L418.2 226.6L402.9 225L385 224.2Z"/>
<path fill="#ffbf00" stroke="#ffbf00" stroke-width="0.7" d="M368 224.4L385 224.2L402.9 225L418.2 226.6L431 228.8L441.2 231.7L448.9 235.5L451.4 237.4L453.7 239.7L456.6 244.8L458.7 252.5L459.9 262.7L462.4 324.1L464.5 352.2L466.9 370.1L473.4 408.4L476.4 434L478.8 472.3L480.3 526L481.2 600.1L481.5 707.5L480.8 1039.8L480.2 1116.5L479.3 1167.6L478.1 1200.8L476.4 1223.8L473.5 1244.3L466.3 1272.4L463.8 1287.7L462.1 1310.7L459.5 1382.3L458.1 1395.1L456 1402.7L454 1406.6L450.6 1410.4L446.3 1413.2L438.7 1416.3L428.4 1418.7L418.2 1420.2L405.5 1421.4L390.1 1422L377.4 1422L364.6 1421.5L351.8 1420.2L344.2 1419L336.5 1417L331.4 1415L326.3 1411.5L323.2 1407.9L320.6 1402.7L318.2 1395.1L316.6 1387.4L314.9 1374.6L312.7 1343.9L311.5 1300.5L310.5 1211L309.8 1078.1L309.2 625.7L310.2 411L311.3 339.4L312.6 298.5L314.4 272.9L316.6 257.6L318.2 249.9L319.8 244.8L322 239.7L323.7 237L326.3 234.1L329 232L334 229.6L339.1 228L351.8 225.6ZM359.5 226.8L346.7 228.2L336.5 230.7L331.4 232.9L328.8 234.5L326.3 236.9L324.3 239.7L321.8 244.8L320.2 249.9L317.7 262.7L315.8 280.6L314.5 303.6L313.2 357.3L312.3 434L311.6 684.5L312.4 1147.1L313.2 1262.2L314.4 1331.2L315.8 1361.8L318.2 1384.8L319.6 1392.5L321.7 1400.2L324 1405.3L326.3 1408.7L328.8 1411.1L334 1414.1L339.1 1415.9L346.7 1417.6L356.9 1419L367.2 1419.7L379.9 1420.1L395.2 1419.9L418.2 1418.4L428.4 1416.9L436.1 1415.2L442.7 1413L447.5 1410.4L451.4 1407L454.2 1402.7L456.6 1395.1L458.5 1379.7L461 1313.3L462.8 1287.7L465.2 1272.4L469.8 1254.5L471.9 1244.3L473.5 1234L474.8 1221.3L476.4 1193.1L477.6 1147.1L478.7 988.6L479 648.7L478.5 554.1L477.3 490.2L475.9 454.4L473.9 426.3L471.1 403.3L465.6 370.1L463.2 352.2L461.1 324.1L458.6 265.3L457 252.5L454.5 244.8L450.9 239.7L447.9 237.1L443.8 234.8L436.1 231.9L425.9 229.6L410.6 227.5L392.7 226.3L374.8 226.1ZM1446.7 224.4L1462.7 224.4L1475.5 225.7L1483.1 227.3L1488.2 228.7L1493.3 230.7L1498.4 233.3L1503.6 236.8L1506.1 239L1509.1 242.3L1512.7 247.4L1515.5 252.5L1517.6 257.6L1520.8 267.8L1523.8 283.2L1526.1 301.1L1527.9 324.1L1529.3 352.2L1531.3 434L1532.2 556.7L1531.9 766.3L1529.6 1185.5L1527.8 1290.3L1526.6 1320.9L1524.8 1346.5L1522.2 1367L1520.1 1377.2L1518 1384.8L1515.1 1392.5L1512.4 1397.6L1509 1402.7L1506.1 1406L1501 1410.4L1496.9 1413L1490.8 1415.9L1484.5 1418.1L1478 1419.7L1467.8 1421.4L1460.1 1422.1L1449.9 1422.4L1437.2 1422L1426.9 1420.9L1416.7 1418.8L1409.1 1416.4L1404 1414.1L1398.4 1410.4L1393.7 1405.7L1390.2 1400.2L1388 1395.1L1386.1 1388.5L1383.5 1373.8L1381.8 1354.2L1378.8 1305.6L1377.5 1292.8L1375.8 1282.6L1374.7 1277.5L1372.3 1269.8L1363.1 1249.4L1360.2 1241.7L1357.2 1231.5L1355.1 1221.3L1353 1205.9L1351.3 1185.5L1349.9 1157.4L1349 1124.1L1347.7 1014.2L1346.8 827.6L1346.8 653.8L1348.1 546.4L1349.3 508.1L1351 477.4L1353.3 451.9L1355.7 434L1357.6 423.7L1360.5 411L1371.3 375.2L1375.6 357.3L1377.3 347.1L1379.2 331.7L1384.2 275.5L1386.3 262.7L1389.4 252.5L1391.8 247.4L1396.3 241.2L1401.4 236.7L1409.1 232.2L1416.7 229.3L1426.9 226.7L1437.2 225.1ZM1432.1 229.3L1424.4 230.8L1416.7 233L1409.1 236.2L1404 239.3L1400.3 242.3L1396.3 246.7L1393.7 250.6L1390.7 257.6L1388 267.8L1386.1 279.6L1381.5 329.2L1378.1 354.7L1374.2 372.6L1365.2 403.3L1361.5 418.6L1358.4 436.5L1355.7 459.5L1353.6 490.2L1352.2 528.5L1351.2 577.1L1350.6 643.6L1350.4 750.9L1350.8 899.2L1351.5 1032.1L1352.4 1113.9L1354.3 1177.8L1355.8 1200.8L1357.5 1216.1L1359.6 1228.9L1362.1 1239.1L1365.6 1249.4L1374.1 1269.8L1377.4 1282.6L1379.1 1292.8L1380.2 1303L1383.5 1354.1L1384.7 1367L1386.5 1379.7L1389 1390L1392.2 1397.6L1396.3 1403.7L1401.4 1408.3L1409.1 1412.5L1416.7 1415.1L1426.9 1417.3L1439.7 1418.6L1452.5 1418.9L1462.7 1418.3L1470.4 1417.4L1478 1416L1485.7 1413.8L1493.3 1410.6L1497.9 1407.9L1501.2 1405.3L1506.1 1400.2L1509.5 1395.1L1512.1 1390L1514.1 1384.8L1516.4 1377.2L1519.8 1359.3L1522.1 1336.3L1523.9 1303L1525.1 1254.5L1526.7 1080.7L1528.5 633.3L1528.3 510.7L1527.3 418.6L1525.5 349.6L1524.2 324.1L1522.7 303.6L1520.6 285.7L1518.2 272.9L1515.5 262.7L1511.2 252.5L1506.2 244.8L1501 239.7L1493.3 234.8L1488.2 232.7L1483.1 231L1472.9 228.9L1460.1 227.8L1444.8 227.9Z"/>
<path fill="#ffaf00" stroke="#ffaf00" stroke-width="0.7" d="M357.5 226.9L374.8 226.1L392.7 226.3L410.6 227.5L425.9 229.6L436.1 231.9L443.8 234.8L447.9 237.1L450.9 239.7L454.5 244.8L457 252.5L458.6 265.3L461.1 324.1L463.2 352.2L465.6 370.1L471.1 403.3L473.9 426.3L475.8 451.9L477.2 485.1L478.4 546.4L479 638.5L478.8 975.9L477.6 1144.6L476.4 1193.1L474.8 1221.3L473.5 1234L471.9 1244.3L469.8 1254.5L465.2 1272.4L462.8 1287.7L461 1313.3L458.5 1379.7L456.6 1395.1L454.2 1402.7L451.4 1407L447.5 1410.4L442.7 1413L436.1 1415.2L428.4 1416.9L418.2 1418.4L395.2 1419.9L379.9 1420.1L367.2 1419.7L356.9 1419L346.7 1417.6L339.1 1415.9L334 1414.1L328.8 1411.1L326.3 1408.7L324 1405.3L321.7 1400.2L319.6 1392.5L318.2 1384.8L315.8 1361.8L314.5 1333.7L313.2 1264.7L312.4 1154.8L311.6 697.3L312.2 441.6L313.1 359.8L314.4 306.2L315.6 283.2L317.7 262.7L320.2 249.9L321.8 244.8L323.7 240.6L326.1 237.1L328.8 234.6L334 231.7L339.1 229.9L344.2 228.7ZM351.8 229.3L344.2 230.5L339.1 231.8L332.4 234.6L328.8 237.1L326.6 239.7L323.8 244.8L320.9 255L318.9 267.8L317.3 285.7L316.2 311.3L315 370.1L314.2 467.2L313.7 766.3L314.7 1193.1L315.5 1290.3L316.9 1346.5L318.5 1372.1L320.9 1390L323.7 1400.3L326.2 1405.3L328.8 1408.5L331.4 1410.6L336.5 1413.1L344.2 1415.3L351.8 1416.6L362 1417.6L374.8 1418.2L400.3 1418L413.1 1417.1L423.3 1416L431 1414.6L438.7 1412.6L443.9 1410.4L448.9 1406.9L451.4 1403.8L454 1398.6L456 1390L457.4 1377.2L460 1310.7L461.4 1290.3L463.6 1274.9L470.5 1244.3L473.1 1221.3L474.8 1185.5L475.8 1136.9L476.8 919.6L476.7 602.7L476 520.9L474.7 467.2L473.2 439.1L471.3 416.1L468.9 398.2L463.2 362.4L461 342L459.8 324.1L457.9 278L456.8 262.7L455.1 252.5L454 248.8L452.1 244.8L450.4 242.3L447.8 239.7L444.2 237.1L441.2 235.7L433.5 233L420.8 230.5L402.9 228.6L385 227.8L367.2 228.1ZM1431.1 229.5L1444.8 227.9L1457.6 227.7L1470.4 228.6L1483.1 231L1488.2 232.7L1493.3 234.8L1501 239.7L1506.2 244.8L1511.2 252.5L1515.5 262.7L1518.2 272.9L1520.6 285.7L1522.4 301.1L1524.1 321.5L1525.3 344.5L1527.2 413.5L1528.3 505.5L1528.5 628.2L1526.7 1070.4L1525.1 1254.5L1523.9 1303L1522.1 1336.3L1519.8 1359.3L1516.4 1377.2L1514.1 1384.8L1512.1 1390L1509.5 1395.1L1506.1 1400.2L1501.2 1405.3L1497.9 1407.9L1493.3 1410.6L1485.7 1413.8L1478 1416L1470.4 1417.4L1462.7 1418.3L1452.5 1418.9L1439.7 1418.6L1426.9 1417.3L1416.7 1415.1L1409.1 1412.5L1401.4 1408.3L1396.3 1403.7L1392.2 1397.6L1389 1390L1386.5 1379.7L1384.7 1367L1383.5 1354.1L1380.2 1303L1379.1 1292.8L1377.4 1282.6L1374.1 1269.8L1365.6 1249.4L1362.1 1239.1L1359.6 1228.9L1357.5 1216.1L1355.8 1200.8L1354.3 1177.8L1352.5 1116.5L1351.5 1034.7L1350.8 904.3L1350.4 753.5L1350.6 643.6L1351.2 577.1L1352.2 528.5L1353.6 490.2L1355.7 459.5L1358.4 436.5L1361.5 418.6L1365.2 403.3L1374.2 372.6L1378.1 354.7L1381.5 329.2L1386.1 279.6L1388 267.8L1390.7 257.6L1393.7 250.6L1396.3 246.7L1400.3 242.3L1404 239.3L1409.1 236.2L1416.7 233L1424.4 230.8ZM1439.7 231.8L1429.5 233.3L1421.8 235.1L1414.2 237.8L1409.1 240.4L1404 243.9L1398.9 249.2L1396.3 253L1393.1 260.2L1390.8 267.8L1388.5 280.6L1383.1 334.3L1380.3 354.7L1376.5 372.6L1368.6 400.7L1365.4 413.5L1362.1 431.4L1359.9 449.3L1357.6 477.4L1356.1 510.7L1355 556.7L1354.3 612.9L1354 799.5L1355.1 1055.1L1355.9 1116.5L1356.8 1157.4L1358.1 1188L1360 1211L1362.1 1226.4L1364.9 1239.1L1368.1 1249.4L1375.9 1269.8L1378 1277.5L1379.6 1285.2L1382.1 1305.6L1386.1 1361L1387.9 1374.6L1389.5 1382.3L1391.9 1390L1393.7 1394.1L1395.8 1397.6L1400.3 1402.7L1406.5 1407.3L1414.2 1410.6L1424.4 1413.3L1437.2 1415L1449.9 1415.4L1465.2 1414.5L1472.9 1413.4L1480.6 1411.6L1488.2 1408.8L1493.3 1406.2L1498.2 1402.7L1501 1400.1L1505 1395.1L1508 1390L1510.3 1384.8L1512.8 1377.2L1516 1361.8L1518.6 1338.8L1520.2 1310.7L1521.3 1274.9L1522.9 1149.7L1524.9 697.3L1525 574.6L1524.5 480L1523.1 385.4L1522.1 352.2L1520.8 324.1L1519.2 303.6L1517 285.7L1514.6 272.9L1511.6 262.7L1508.3 255L1503.2 247.4L1500.8 244.8L1495.9 240.8L1488.2 236.7L1478 233.5L1467.8 231.9L1455 231.1Z"/>
<path fill="#ff9f00" stroke="#ff9f00" stroke-width="0.7" d="M350.5 229.5L367.2 228.1L385 227.8L402.9 228.6L420.8 230.5L433.5 233L441.2 235.7L444.2 237.1L447.8 239.7L450.4 242.3L452.1 244.8L454 248.8L455.1 252.5L456.8 262.7L457.9 278L459.8 324.1L461 342L463.2 362.4L468.9 398.2L471 413.5L473.1 436.5L474.5 464.6L476 518.3L476.7 597.6L476.9 906.9L475.8 1134.3L474.8 1185.5L473.1 1221.3L470.5 1244.3L463.6 1274.9L461.4 1290.3L460 1310.7L457.4 1377.2L456 1390L454 1398.6L451.4 1403.8L448.9 1406.9L443.9 1410.4L438.7 1412.6L431 1414.6L423.3 1416L413.1 1417.1L400.3 1418L374.8 1418.2L362 1417.6L351.8 1416.6L344.2 1415.3L336.5 1413.1L331.4 1410.6L328.8 1408.5L326.2 1405.3L323.7 1400.3L320.9 1390L318.5 1372.1L316.9 1346.5L315.5 1290.3L314.7 1195.7L313.8 776.5L314.2 472.3L315 372.6L316.1 313.8L317.2 288.3L318.9 267.8L320.9 255L323.8 244.8L326.6 239.7L328.8 237.1L332.4 234.6L339.1 231.8ZM346.7 231.8L341.6 233L336.7 234.6L331.4 237.6L329.2 239.7L327.3 242.3L325.9 244.8L324 249.9L321.7 260.2L319.9 275.5L318.7 293.4L317.7 321.5L316.7 390.5L316 508.1L315.8 840.4L316.7 1221.3L317.5 1303L318.9 1351.6L320.5 1374.6L322.7 1390L323.9 1395.1L326.3 1401.4L328.7 1405.3L331.4 1408.1L335.1 1410.4L341.6 1412.8L354.4 1415.2L374.8 1416.5L400.3 1416.3L413.1 1415.4L423.3 1414.3L431 1412.9L438.7 1410.6L443.8 1408.2L447.6 1405.3L449.7 1402.7L452.4 1397.6L454.4 1390L456.2 1374.6L458.7 1313.3L460.6 1287.7L463 1272.4L468.6 1246.8L470.1 1236.6L471.3 1223.8L473 1188L474 1131.8L475 866L474.7 582.2L473.9 503L472.4 454.4L471.1 431.4L469.2 411L467.1 395.6L462.2 365L459.8 344.5L458.3 324.1L456.4 280.6L455.3 265.3L453.7 255L451 247.4L448.9 244L446.3 241.3L443.8 239.3L439.7 237.1L431 234.2L419.9 232L400.3 230.1L379.9 229.5L362 230.1ZM1437.8 232L1452.5 231.1L1465.2 231.6L1478 233.5L1488.2 236.7L1495.9 240.8L1500.8 244.8L1503.2 247.4L1508.3 255L1511.6 262.7L1514.6 272.9L1517 285.7L1518.9 301.1L1520.6 321.5L1521.9 347.1L1522.9 377.7L1524.4 467.2L1525 561.8L1525 684.5L1522.9 1142L1521.4 1272.4L1520.2 1310.7L1518.6 1338.8L1516 1361.8L1512.8 1377.2L1510.3 1384.8L1508 1390L1505 1395.1L1501 1400.1L1498.2 1402.7L1493.3 1406.2L1488.2 1408.8L1480.6 1411.6L1472.9 1413.4L1465.2 1414.5L1449.9 1415.4L1437.2 1415L1424.4 1413.3L1414.2 1410.6L1407.6 1407.9L1401.4 1403.8L1396.3 1398.3L1393 1392.5L1390.2 1384.8L1387.9 1374.6L1386.1 1361L1382.1 1305.6L1379.6 1285.2L1378 1277.5L1375.9 1269.8L1368.1 1249.4L1364.9 1239.1L1362.1 1226.4L1360 1211L1358.3 1190.6L1357 1162.5L1356 1124.1L1355.3 1073L1354 822.5L1354.2 620.6L1354.9 561.8L1355.9 515.8L1357.5 480L1359.6 451.9L1361.7 434L1364.9 416.1L1368.6 400.7L1376.5 372.6L1380.3 354.7L1383.1 334.3L1388.5 280.6L1390.8 267.8L1393.1 260.2L1396.3 253L1398.9 249.2L1404 243.9L1409.1 240.4L1414.2 237.8L1421.8 235.1L1429.5 233.3ZM1429.5 236.9L1421.8 238.9L1416.7 240.8L1411.6 243.3L1405.8 247.4L1401.4 252L1398.9 255.8L1396.3 260.9L1393.9 267.8L1392.2 275.5L1390.5 285.7L1385.4 334.3L1383 352.2L1379.4 370.1L1370.6 403.3L1367.2 418.6L1364 439.1L1361.8 462.1L1360 492.8L1358.7 533.7L1357.9 587.3L1357.4 656.4L1357.8 940.1L1358.5 1060.2L1359.4 1131.8L1361.1 1185.5L1362.3 1203.4L1363.9 1218.7L1365.9 1231.5L1368.3 1241.7L1377.8 1269.8L1379.9 1277.5L1381.4 1285.2L1383.9 1305.6L1388.4 1361.8L1390.4 1374.6L1393.1 1384.8L1396.3 1392.1L1400.3 1397.6L1406.2 1402.7L1411.6 1405.7L1419.3 1408.4L1429.5 1410.6L1439.7 1411.7L1452.5 1411.9L1462.7 1411.3L1470.4 1410.2L1478 1408.5L1483.1 1406.8L1488.2 1404.6L1493.3 1401.5L1497.9 1397.6L1501 1394L1503.7 1390L1506.3 1384.8L1508.7 1378.4L1510.4 1372.1L1513.6 1354.2L1515.8 1331.2L1517.5 1295.4L1518.7 1241.7L1520.2 1037.2L1521.7 615.5L1521.3 495.3L1520.2 405.9L1518.4 344.5L1517.2 321.5L1515.8 303.6L1513.9 288.3L1511.5 275.5L1508.6 265.3L1505.3 257.6L1500.1 249.9L1494.6 244.8L1488.2 240.9L1483.1 238.8L1478 237.3L1467.8 235.4L1455 234.6L1442.3 235.1Z"/>
<path fill="#ff8f00" stroke="#ff8f00" stroke-width="0.7" d="M345.7 232L359.5 230.2L379.9 229.5L400.3 230.1L419.9 232L431 234.2L439.7 237.1L443.8 239.3L446.3 241.3L448.9 244L451 247.4L453.7 255L455.3 265.3L456.4 280.6L458.3 324.1L459.8 344.5L462.2 365L467.1 395.6L469.2 411L471.1 431.4L472.4 454.4L473.9 503L474.7 582.2L475 866L474 1131.8L473 1188L471.3 1223.8L470.1 1236.6L468.6 1246.8L463 1272.4L460.6 1287.7L458.7 1313.3L456.2 1374.6L454.4 1390L452.4 1397.6L449.7 1402.7L447.6 1405.3L443.8 1408.2L438.7 1410.6L431 1412.9L423.3 1414.3L413.1 1415.4L400.3 1416.3L374.8 1416.5L354.4 1415.2L341.6 1412.8L335.1 1410.4L331.4 1408.1L328.7 1405.3L326.3 1401.4L323.9 1395.1L322.7 1390L320.5 1374.6L318.9 1351.6L317.6 1305.6L316.8 1223.8L315.8 853.2L315.9 515.8L316.6 395.6L317.7 324.1L318.5 298.5L319.9 275.5L321.7 260.2L324 249.9L325.9 244.8L327.3 242.3L329.2 239.7L331.4 237.6L336.7 234.6ZM359.5 231.9L346.7 233.6L339.1 235.8L336 237.1L332.2 239.7L329.8 242.3L328.2 244.8L325.2 252.5L322.7 265.3L321 283.2L320 303.6L318.9 352.2L318.1 439.1L317.5 694.7L318.2 1157.4L318.9 1274.9L320 1336.3L321.3 1364.4L323.5 1384.8L325.1 1392.5L326.7 1397.6L328.8 1401.9L331.4 1405.2L334.7 1407.9L339.1 1410L344.2 1411.6L351.8 1413.1L362 1414.2L372.3 1414.8L395.2 1414.8L408 1414.2L420.4 1413L428.4 1411.6L436.1 1409.5L441.2 1407.3L446.3 1403.5L448.9 1400.2L451.3 1395.1L453.6 1384.8L454.9 1372.1L457.6 1310.7L459.4 1287.7L461.3 1274.9L467.2 1246.8L469.5 1226.4L471 1198.2L472 1152.2L473 973.3L473.2 623.1L472.6 533.7L471.4 472.3L470.2 441.6L468.2 416.1L466.1 398.2L460.4 362.4L457.9 339.4L454 269.5L452.2 257.6L449.7 249.9L446.3 244.6L443.9 242.3L441.2 240.4L434.3 237.1L424.6 234.6L410.6 232.6L395.2 231.5L377.4 231.2ZM1428.5 237.1L1442.3 235.1L1455 234.6L1467.8 235.4L1478 237.3L1483.1 238.8L1488.2 240.9L1494.6 244.8L1500.1 249.9L1505.3 257.6L1508.6 265.3L1511.5 275.5L1513.8 287.4L1515.5 301.1L1517 318.9L1518.2 339.4L1520.1 400.7L1521.3 490.2L1521.7 605.2L1520.4 1014.2L1518.8 1236.6L1517.6 1292.8L1515.8 1331.2L1513.6 1354.2L1510.4 1372.1L1508.7 1378.4L1506.3 1384.8L1503.7 1390L1501 1394L1497.9 1397.6L1493.3 1401.5L1488.2 1404.6L1483.1 1406.8L1478 1408.5L1470.4 1410.2L1462.7 1411.3L1452.5 1411.9L1439.7 1411.7L1429.5 1410.6L1419.3 1408.4L1411.6 1405.7L1406.2 1402.7L1400.3 1397.6L1396.3 1392.1L1393.1 1384.8L1390.4 1374.6L1388.4 1361.8L1383.9 1305.6L1381.4 1285.2L1379.9 1277.5L1377.8 1269.8L1368.3 1241.7L1365.9 1231.5L1364.2 1221.3L1362.5 1205.9L1361.3 1188L1359.4 1134.3L1358.5 1062.8L1357.8 945.2L1357.4 658.9L1357.9 587.3L1358.7 533.7L1360 492.8L1361.8 462.1L1364 439.1L1367.2 418.6L1370.6 403.3L1379.4 370.1L1383 352.2L1385.4 334.3L1390.5 285.7L1392.2 275.5L1393.9 267.8L1396.3 260.9L1398.9 255.8L1401.4 252L1405.8 247.4L1409.1 244.8L1414.2 241.9L1419.5 239.7ZM1437.2 239.3L1429.5 240.7L1421.8 243L1416.7 245.1L1411.6 248L1406.5 252.3L1404 255.2L1400.7 260.2L1397.5 267.8L1394.8 278L1393 288.3L1387.6 336.8L1384.9 354.7L1381.9 370.1L1373.3 403.3L1370.8 415L1368 431.4L1365.7 451.9L1363.7 480L1362.3 515.8L1361.4 561.8L1360.8 623.1L1360.7 840.4L1362 1088.3L1363.6 1170.1L1364.8 1195.7L1366.6 1216.1L1368.4 1228.9L1370.5 1239.1L1373.3 1249.4L1379.9 1269.8L1383.3 1285.2L1385.6 1303L1390.2 1356.7L1391.6 1367L1393.7 1377L1396.4 1384.8L1398.9 1389.6L1400.9 1392.5L1405.8 1397.6L1411.6 1401.4L1419.3 1404.5L1426.9 1406.4L1437.2 1407.9L1449.9 1408.4L1465.2 1407.3L1472.9 1405.9L1478 1404.5L1483.1 1402.6L1488.2 1400L1493.3 1396.2L1496.9 1392.5L1500.6 1387.4L1503.2 1382.3L1505.1 1377.2L1507.4 1369.5L1510.2 1354.2L1512.5 1331.2L1514 1303L1515.1 1262.2L1516.6 1121.6L1518.4 679.4L1518.4 556.7L1517.8 462.1L1516.3 377.7L1514 324.1L1512.6 306.2L1510.8 290.8L1508.4 278L1505.5 267.8L1503.4 262.7L1501 258.2L1496.8 252.5L1490.8 247.1L1483.1 243.1L1472.9 240L1462.7 238.6L1449.9 238.3Z"/>
<path fill="#ff8000" stroke="#ff8000" stroke-width="0.7" d="M358.3 232L374.8 231.2L392.7 231.4L410.6 232.6L424.6 234.6L434.3 237.1L441.2 240.4L443.9 242.3L446.3 244.6L449.7 249.9L452.2 257.6L454 269.5L458.1 342L460.4 362.4L465.7 395.6L468 413.5L470 439.1L471.4 469.8L472.5 528.5L473.1 618L473.1 965.6L472 1149.7L471.1 1195.7L469.5 1226.4L467.2 1246.8L461.3 1274.9L459.4 1287.7L457.6 1310.7L454.9 1372.1L453.6 1384.8L451.3 1395.1L448.9 1400.2L446.3 1403.5L441.2 1407.3L436.1 1409.5L428.4 1411.6L420.4 1413L408 1414.2L395.2 1414.8L372.3 1414.8L362 1414.2L351.8 1413.1L344.2 1411.6L339.1 1410L334.7 1407.9L331.4 1405.2L328.8 1401.9L326.7 1397.6L325.1 1392.5L323.5 1384.8L321.3 1364.4L320 1336.3L318.9 1274.9L318.2 1159.9L317.5 704.9L318 444.2L318.9 354.7L319.9 306.2L321 283.2L322.7 265.3L325.2 252.5L328.2 244.8L329.8 242.3L332.2 239.7L336 237.1L339.1 235.8L346.7 233.6ZM351.8 234.6L341.6 237L335.9 239.7L331.4 243.8L328.1 249.9L326.4 255L325.3 260.2L323.5 272.9L322.2 290.8L321.2 316.4L320.2 377.7L319.5 482.5L319.2 796.9L320.1 1203.4L320.8 1295.4L322 1346.5L323.6 1372.1L325.8 1387.4L327.1 1392.5L328.9 1397.6L331.4 1401.8L334 1404.5L336.5 1406.4L341.6 1408.8L347.1 1410.4L354.4 1411.7L364.6 1412.7L374.8 1413.2L397.8 1413.1L410.6 1412.3L420.8 1411.1L428.4 1409.7L435 1407.9L440.4 1405.3L443.8 1402.8L446.3 1400L449.1 1395.1L451.4 1387.3L453.4 1372.1L456.3 1310.7L458.1 1287.7L460 1274.9L465.7 1246.8L468 1226.4L469.6 1193.1L470.5 1142L471.5 917.1L471.4 592.4L470.7 510.7L469.3 457L468 431.4L466.2 411L464.2 395.3L458.6 359.8L456.9 344.5L455.4 326.6L453.3 285.7L452.1 270.4L451.4 264.6L450 257.6L448.9 254L447 249.9L443.1 244.8L439.9 242.3L436.1 240.2L428.4 237.4L418.2 235.3L402.9 233.6L385 232.9L367.2 233.1ZM1434.6 239.7L1447.4 238.4L1460.1 238.4L1471.2 239.7L1481 242.3L1488.2 245.5L1493.3 249.1L1495.9 251.5L1500.6 257.6L1504.5 265.3L1507.8 275.5L1509.9 285.7L1512.1 301.1L1513.7 318.9L1516 367.5L1517.5 444.2L1518.3 538.8L1518.4 661.5L1516.7 1106.2L1515.2 1257L1514.1 1300.5L1512.5 1331.2L1510.2 1354.2L1507.4 1369.5L1505.1 1377.2L1503.2 1382.3L1500.6 1387.4L1496.9 1392.5L1493.3 1396.2L1488.2 1400L1483.1 1402.6L1478 1404.5L1472.9 1405.9L1465.2 1407.3L1449.9 1408.4L1437.2 1407.9L1426.9 1406.4L1419.3 1404.5L1411.6 1401.4L1405.8 1397.6L1400.9 1392.5L1398.9 1389.6L1396.4 1384.8L1393.8 1377.2L1391.6 1367L1390.2 1356.7L1385.6 1303L1383.3 1285.2L1379.9 1269.8L1373.3 1249.4L1370.5 1239.1L1368.4 1228.9L1366.6 1216.1L1365 1198.2L1363.8 1175.2L1362.1 1103.7L1360.8 871.1L1360.7 633.3L1361.3 569.4L1362.2 520.9L1363.6 482.5L1365.5 454.4L1367.7 434L1370.5 416.1L1373.3 403.3L1381.9 370.1L1384.9 354.7L1387.6 336.8L1393 288.3L1394.8 278L1397.5 267.8L1399.5 262.7L1402.3 257.6L1406.3 252.5L1409.1 249.9L1414.2 246.4L1419.3 243.9L1426.9 241.4ZM1447.4 242.1L1437.2 243.2L1429.5 244.8L1421.8 247.4L1416.7 249.9L1411.6 253.4L1407.5 257.6L1404 262.7L1401.4 267.9L1398.8 275.5L1396.1 288.3L1389.8 339.4L1387.1 357.3L1383.9 372.6L1375.6 405.9L1371.4 428.9L1369 449.3L1367.3 472.3L1365.9 503L1364.9 541.3L1363.8 648.7L1363.8 817.4L1364.6 1016.8L1365.7 1126.7L1366.5 1162.5L1367.5 1188L1368.9 1208.5L1371 1226.4L1374 1241.7L1382.1 1269.8L1385 1282.6L1387.5 1300.5L1391.2 1343L1392.8 1356.7L1395.6 1372.1L1398.9 1381.6L1402 1387.4L1406.2 1392.5L1411.6 1396.7L1416.7 1399.3L1424.4 1401.9L1432.1 1403.5L1439.7 1404.3L1449.9 1404.7L1457.6 1404.3L1465.2 1403.4L1472.9 1401.8L1478 1400.2L1483.1 1398L1487.9 1395.1L1493.5 1390L1495.9 1386.9L1498.7 1382.3L1501 1377.2L1503.6 1369.4L1506.6 1354.2L1509.1 1331.2L1510.6 1305.6L1511.7 1272.4L1513.1 1165L1514.9 794.4L1515.2 572L1514.4 454.4L1512.8 370.1L1511.6 339.4L1510.1 316.4L1508.3 298.5L1506.1 284.9L1503.1 272.9L1501.2 267.8L1498.8 262.7L1495.9 258.2L1493.3 255.1L1488.2 250.7L1480.6 246.6L1475.5 244.8L1470.4 243.6L1460.1 242.2Z"/>
<path fill="#ff7000" stroke="#ff7000" stroke-width="0.7" d="M351.6 234.6L367.2 233.1L385 232.9L402.9 233.6L418.2 235.3L428.4 237.4L436.1 240.2L439.9 242.3L443.1 244.8L447 249.9L448.9 254L450 257.6L451.4 264.6L452.1 270.4L453.3 285.7L455.4 326.6L456.9 344.5L458.6 359.8L464.2 395.3L466.2 411L468 431.4L469.3 457L470.7 510.7L471.4 592.4L471.5 917.1L470.5 1142L469.6 1193.1L468 1226.4L465.7 1246.8L460 1274.9L458.1 1287.7L456.3 1310.7L453.4 1372.1L451.4 1387.3L449.1 1395.1L446.3 1400L443.8 1402.8L440.4 1405.3L435 1407.9L428.4 1409.7L420.8 1411.1L410.6 1412.3L397.8 1413.1L374.8 1413.2L364.6 1412.7L354.4 1411.7L347.1 1410.4L341.6 1408.8L336.5 1406.4L334 1404.5L331.4 1401.8L328.9 1397.6L327.1 1392.5L325.8 1387.4L323.6 1372.1L322 1346.5L320.8 1295.4L320.1 1203.4L319.2 796.9L319.5 482.5L320.2 377.7L321.2 316.4L322.2 290.8L323.5 272.9L325.3 260.2L326.4 255L328.1 249.9L331.4 243.8L335.9 239.7L341.6 237ZM374.8 234.6L359.5 235.4L348.3 237.1L344.2 238.3L339.1 240.5L336.2 242.3L333.6 244.8L331.4 247.9L329.3 252.5L327.2 260.2L325.3 272.9L323.7 293.4L322.6 329.2L321.8 382.8L320.9 584.8L321.1 1029.5L322.2 1280L323.2 1333.7L324.6 1364.4L325.9 1377.2L327.2 1384.8L328.8 1391.6L331.4 1397.6L334 1401.2L336.5 1403.6L341.6 1406.5L346.7 1408.3L354.4 1409.8L362 1410.8L374.8 1411.5L387.6 1411.6L400.3 1411.3L413.1 1410.3L423.3 1408.8L431 1407L436.1 1405L441.2 1401.8L445.1 1397.6L447.7 1392.5L449.9 1384.8L451.7 1372.1L452.9 1354.2L455.1 1308.2L456.8 1287.7L458.6 1274.9L464.2 1247L466 1231.5L467.5 1208.5L468.4 1177.8L469.4 1067.9L470 727.9L469.3 528.5L468 464.6L467.1 441.6L465.9 423.7L463.4 400.7L457.7 365L455.7 349.6L453.6 324.1L450.9 278L449.3 265.3L447.5 257.6L445.4 252.5L443.8 249.7L441.2 246.7L436.1 242.9L428.7 239.7L418.2 237.2L405.5 235.6L390.1 234.7ZM1445.6 242.3L1457.6 242.1L1470.4 243.6L1475.5 244.8L1480.6 246.6L1487.1 249.9L1490.6 252.5L1493.3 255.1L1498.4 262.1L1502.2 270.4L1505.2 280.6L1507.6 293.4L1509.7 311.3L1511.1 331.7L1512.3 357.3L1514.2 436.5L1515.1 546.4L1515 766.3L1513.2 1157.4L1511.7 1269.8L1510.6 1305.6L1509.1 1331.2L1506.6 1354.2L1503.6 1369.4L1501 1377.2L1498.7 1382.3L1495.9 1386.9L1493.5 1390L1487.9 1395.1L1483.1 1398L1478 1400.2L1472.9 1401.8L1465.2 1403.4L1457.6 1404.3L1449.9 1404.7L1437.2 1404.1L1426.9 1402.5L1416.7 1399.3L1413.3 1397.6L1409.1 1394.9L1403.9 1390L1401.4 1386.5L1399.2 1382.3L1396.3 1374.5L1393.7 1363.1L1391.2 1343L1387.5 1300.5L1385.4 1285.2L1382.1 1269.8L1375.9 1249L1372.8 1236.6L1370 1218.7L1368.1 1198.2L1366.5 1162.5L1365.5 1113.9L1364.1 917.1L1363.7 699.8L1364.5 566.9L1365.3 523.4L1366.5 487.6L1368.1 459.5L1370.4 436.5L1372.6 421.2L1375 408.4L1383.9 372.6L1387.1 357.3L1389.8 339.4L1396.1 288.3L1398.8 275.5L1401.4 267.9L1404 262.7L1407.5 257.6L1411.6 253.4L1416.7 249.9L1421.8 247.4L1429.5 244.8L1437.2 243.2ZM1439.7 247L1432.1 248.6L1426.9 250.1L1421.5 252.5L1416.7 255.4L1411.6 259.9L1409.1 263L1406.1 267.8L1402.9 275.5L1400.7 283.2L1398.7 293.4L1392.7 339.4L1389.8 357.3L1386.7 372.6L1378.6 405.9L1376.1 418.6L1373.8 434L1371.9 451.9L1370 480L1368.6 515.8L1367.7 559.2L1367.2 618L1367 814.8L1368.1 1067.9L1369.7 1162.5L1370.8 1190.6L1372.6 1213.6L1374.1 1226.4L1376.4 1239.1L1384.6 1269.8L1387.7 1285.2L1390.1 1303L1394.3 1346.5L1396.2 1359.3L1397.8 1367L1401.1 1377.2L1404 1382.8L1406.5 1386.4L1409.1 1389.1L1414.2 1393.1L1421.8 1396.7L1429.5 1398.9L1439.7 1400.4L1449.9 1400.7L1462.7 1399.7L1470.4 1398.1L1475.5 1396.5L1483.5 1392.5L1488.2 1388.8L1491.8 1384.8L1495.1 1379.7L1497.5 1374.6L1501 1363.6L1504.1 1346.5L1506.2 1323.5L1507.7 1295.4L1508.8 1254.5L1510.2 1119L1512 699.8L1512 579.7L1511.6 487.6L1510.3 400.7L1508.2 339.4L1506.8 318.9L1505.3 303.6L1503.4 290.8L1500.4 278L1497.6 270.4L1493.3 262.5L1488.2 256.7L1485.7 254.6L1480.6 251.6L1472.9 248.6L1462.7 246.6L1452.5 246.1Z"/>
<path fill="#ff6000" stroke="#ff6000" stroke-width="0.7" d="M373.6 234.6L390.1 234.7L405.5 235.6L417.9 237.1L428.4 239.6L435 242.3L438.7 244.5L441.2 246.7L443.8 249.7L445.4 252.5L447.5 257.6L449.3 265.3L450.9 278L453.6 324.1L455.7 349.6L457.7 365L463.4 400.7L465.7 421.2L467.8 457L469.1 513.2L469.7 589.9L470 704.9L469.5 1060.2L468.4 1177.8L467.5 1208.5L466 1231.5L464.2 1247L458.6 1274.9L456.8 1287.7L455.1 1308.2L452.9 1354.2L451.7 1372.1L449.9 1384.8L447.7 1392.5L445.1 1397.6L441.2 1401.8L436.1 1405L431 1407L423.3 1408.8L413.1 1410.3L390.1 1411.6L367.2 1411.1L356.9 1410.2L349.3 1408.9L344.2 1407.5L339 1405.3L336.5 1403.6L334 1401.2L331.4 1397.7L329.2 1392.5L327.7 1387.4L326.3 1379.7L325.1 1369.5L323.4 1341.4L322.4 1297.9L321.7 1213.6L321.2 1075.6L320.9 605.2L321.7 393.1L322.5 334.3L323.6 295.9L325 275.5L326.7 262.7L329.3 252.5L331.4 247.9L333.6 244.8L336.2 242.3L339.1 240.5L346.7 237.5L359.5 235.4ZM362 237.1L349.3 239.1L341.6 241.8L336.5 245.4L333 249.9L331.4 253.2L329.9 257.6L328.6 262.7L327.4 270.4L325.9 285.7L324.8 308.7L323.7 355.5L323 434L322.4 681.9L323 1147.1L323.7 1262.2L324.6 1326.1L325.8 1356.7L327.4 1374.6L329.8 1387.4L331.5 1392.5L334.2 1397.6L336.5 1400.3L341.6 1403.9L346.7 1406L351.8 1407.4L359.5 1408.6L369.7 1409.5L392.7 1409.8L405.5 1409.1L415.7 1408.1L423.3 1406.8L431 1404.6L436.1 1402.3L441.2 1398.3L443.8 1395L446.2 1390L448.8 1379.7L450.4 1367L453.4 1310.7L455.3 1287.7L457.6 1272.4L462.2 1249.4L464.7 1228.9L466.2 1200.8L467.1 1162.5L468.1 1004L468.3 635.9L467.8 538.8L466.8 474.9L465.3 439.1L463.3 413.5L461.4 398.2L455.6 362.4L453.5 344.5L448.5 275.5L446.3 262.7L443.8 255.3L440.3 249.9L437.8 247.4L434.2 244.8L428.4 242.1L420.3 239.7L408 237.7L392.7 236.6L377.4 236.3ZM1437.6 247.4L1449.9 246.1L1460.1 246.4L1470.4 248L1478 250.4L1482.3 252.5L1485.7 254.6L1490.8 259.3L1493.5 262.7L1495.9 266.7L1499.6 275.5L1502.4 285.7L1504.6 298.5L1506.4 313.8L1507.7 331.7L1510 388L1511.4 469.8L1512 561.8L1512 681.9L1510.3 1108.8L1508.8 1251.9L1507.8 1292.8L1506.2 1323.5L1504.1 1346.5L1501 1363.6L1497.5 1374.6L1495.1 1379.7L1491.8 1384.8L1488.2 1388.8L1483.5 1392.5L1475.5 1396.5L1470.4 1398.1L1462.7 1399.7L1449.9 1400.7L1439.7 1400.4L1429.5 1398.9L1421.8 1396.7L1414.2 1393.1L1409.1 1389.1L1406.5 1386.4L1404 1382.8L1401.1 1377.2L1398.4 1369.5L1396.3 1360.1L1394.6 1349.1L1390.1 1303L1387.7 1285.2L1384.6 1269.8L1376.4 1239.1L1374.5 1228.9L1372.8 1216.1L1371.2 1195.7L1369.9 1170.1L1368.3 1085.8L1367.1 842.9L1367.1 628.2L1367.6 566.9L1368.5 520.9L1369.9 482.5L1371.7 454.4L1373.5 436.5L1375.9 420L1378.6 405.9L1386.7 372.6L1389.8 357.3L1392.7 339.4L1398.3 295.9L1400.2 285.7L1402.1 278L1404 272.6L1406.5 267.1L1409.3 262.7L1414.2 257.4L1419.3 253.7L1424.4 251.2L1429.5 249.3ZM1437.2 252.2L1432.1 253.5L1426.9 255.4L1421.8 258.1L1416.7 262L1413.6 265.3L1410.2 270.4L1407.6 275.5L1404.9 283.2L1401.4 299.2L1395.4 342L1392.4 359.8L1389.7 372.6L1382.4 403.3L1379.4 418.6L1376.8 436.5L1374.7 457L1373 485.1L1371.7 523.4L1370.8 572L1370.3 630.8L1370.3 850.6L1371.6 1088.3L1373.2 1170.1L1374.5 1195.7L1376.1 1216.1L1377.8 1228.9L1379.6 1239.1L1387.2 1269.8L1390.3 1285.2L1392.4 1300.5L1397.1 1343.9L1398.9 1355.4L1400.9 1364.4L1404 1373.4L1407.4 1379.7L1411.6 1384.9L1416.7 1388.9L1424 1392.5L1432.1 1394.8L1439.7 1396L1449.9 1396.4L1462.7 1395.2L1472.9 1392.4L1478 1390L1482.1 1387.4L1485.7 1384.3L1489.4 1379.7L1492.5 1374.6L1494.7 1369.5L1498.4 1356.7L1501.2 1338.8L1503.2 1315.8L1504.6 1285.2L1505.7 1239.1L1507.1 1096L1508.8 684.5L1508.7 564.3L1508.2 474.9L1506.7 393.1L1504.6 339.4L1503.4 321.5L1501.4 303.6L1499.3 290.8L1496.7 280.6L1493.3 272.1L1491 267.8L1488.2 264.1L1483.1 259.1L1476.3 255L1467.8 252.2L1457.6 250.8L1447.4 250.8Z"/>
<path fill="#ff5000" stroke="#ff5000" stroke-width="0.7" d="M361.1 237.1L374.8 236.4L392.7 236.6L408 237.7L420.3 239.7L428.4 242.1L434.2 244.8L437.8 247.4L440.3 249.9L443.8 255.3L446.3 262.7L448.5 275.5L453.5 344.5L455.6 362.4L461.4 398.2L463.3 413.5L465.3 439.1L466.8 474.9L467.8 538.8L468.3 635.9L468.1 1004L467.1 1162.5L466.2 1200.8L464.7 1228.9L462.2 1249.4L457.6 1272.4L455.3 1287.7L453.4 1310.7L450.4 1367L448.8 1379.7L446.2 1390L443.8 1395L441.2 1398.3L436.1 1402.3L431 1404.6L423.3 1406.8L415.7 1408.1L405.5 1409.1L392.7 1409.8L372.3 1409.6L362 1408.9L354.4 1407.9L344.2 1405.1L339.5 1402.7L336.4 1400.2L334 1397.2L331.4 1392.3L329.2 1384.8L328.2 1379.7L326 1359.3L324.7 1328.6L323.7 1267.3L323.1 1154.8L322.4 699.8L322.9 444.2L323.7 359.8L324.7 311.3L325.7 288.3L327.1 272.9L328.8 261.7L331.7 252.5L334 248.4L336.5 245.4L341.6 241.8L349.3 239.1ZM359.5 239.4L349.3 241.5L346.7 242.3L341.6 244.8L339.1 246.7L336.5 249.4L333.3 255L330.8 262.7L328.8 273.9L327.4 290.8L326.3 313.8L325.3 365L324.5 449.3L324 699.8L324.7 1149.7L325.3 1262.2L326.3 1326.2L327.5 1354.2L329.4 1374.6L330.8 1382.3L332.2 1387.4L334 1392L336.5 1396.2L340.5 1400.2L344.2 1402.4L349.3 1404.4L354.4 1405.7L362 1406.8L372.3 1407.7L392.7 1407.9L405.5 1407.2L415.7 1406L423.3 1404.5L429 1402.7L434.3 1400.2L437.8 1397.6L441.2 1393.8L443.8 1389.1L446.6 1379.7L448.7 1364.4L452.1 1305.6L453.8 1287.7L455.6 1274.9L460.9 1246.8L463.2 1226.4L464.6 1198.2L465.5 1154.8L466.5 978.4L466.7 625.7L466.1 533.7L465.1 472.3L463.8 441.6L461.6 413.4L459.3 395.6L454.6 367.5L452.1 349.6L450.1 329.2L446.3 277.3L444.2 265.3L441.6 257.6L438.5 252.5L436.1 249.9L432.9 247.4L425.9 243.9L418.2 241.6L405.5 239.5L390.1 238.4L374.8 238.3ZM1435.8 252.5L1447.4 250.8L1457.6 250.8L1467.8 252.2L1475.5 254.7L1480.6 257.3L1483.1 259.1L1488.2 264.1L1492.4 270.4L1495.9 278.3L1498.7 288.3L1501 300.5L1502.9 316.4L1504.3 334.3L1506.5 385.4L1508 464.6L1508.7 554.1L1508.8 671.7L1507.2 1085.8L1505.7 1236.6L1504.6 1282.6L1503.2 1315.8L1501.2 1338.8L1498.4 1356.7L1494.7 1369.5L1492.5 1374.6L1489.4 1379.7L1485.7 1384.3L1482.1 1387.4L1478 1390L1472.9 1392.4L1462.7 1395.2L1449.9 1396.4L1439.7 1396L1432.1 1394.8L1424 1392.5L1416.7 1388.9L1411.6 1384.9L1407.4 1379.7L1404 1373.4L1400.9 1364.4L1398.9 1355.4L1397.1 1343.9L1392.4 1300.5L1390.3 1285.2L1387.2 1269.8L1379.6 1239.1L1377.8 1228.9L1376.1 1216.1L1374.5 1195.7L1373.3 1172.2L1371.7 1098.6L1370.4 871.1L1370.3 638.5L1370.8 576.3L1371.6 528.5L1372.8 490.2L1374.5 459.5L1376.5 439.1L1379.4 418.6L1382.4 403.3L1389.7 372.6L1392.4 359.8L1395.4 342L1401.4 299.2L1404.9 283.2L1406.6 278L1409.1 272.4L1411.7 267.8L1416 262.7L1419.3 259.8L1424.4 256.6L1429.5 254.4ZM1439.7 257L1434.6 258.4L1429.5 260.3L1424.4 263.2L1419.3 267.4L1416.7 270.4L1413.4 275.5L1411.6 278.9L1409 285.7L1406.5 294.8L1404.3 306.2L1398 347.1L1395.2 362.4L1386.1 402.4L1383.3 416.1L1380.6 434L1378.2 457L1376.4 485.1L1375.1 520.9L1374.2 566.9L1373.7 625.7L1373.6 817.4L1374.8 1062.8L1376.3 1157.4L1377.5 1188L1379.1 1211L1380.9 1226.4L1383 1239.1L1390.2 1269.8L1393.2 1285.2L1395.4 1300.5L1399.6 1336.3L1402.5 1354.2L1405.3 1364.4L1408.6 1372.1L1411.9 1377.2L1416.8 1382.3L1420.4 1384.8L1424.4 1387L1432.1 1389.6L1439.7 1391L1449.9 1391.5L1457.6 1390.9L1462.7 1390.1L1467.8 1388.6L1472.9 1386.6L1476.1 1384.8L1480.6 1381.5L1483.1 1379L1486.5 1374.6L1489.3 1369.5L1491.4 1364.4L1493.3 1358.4L1495 1351.6L1497.7 1333.7L1499.7 1310.7L1501 1282.6L1502.1 1239.1L1503.6 1106.2L1505.4 707.5L1505.4 589.9L1505 500.4L1503.7 413.5L1501.6 352.2L1500.3 331.7L1498.4 312.4L1496.3 298.5L1494 288.3L1490.8 278.8L1488.2 273.7L1486.1 270.4L1481.6 265.3L1475.5 260.9L1467.8 257.8L1460.1 256.2L1449.9 255.8Z"/>
<path fill="#ff4000" stroke="#ff4000" stroke-width="0.7" d="M357.3 239.7L372.3 238.4L387.6 238.3L405.5 239.5L418.2 241.6L425.9 243.9L432.9 247.4L436.1 249.9L438.5 252.5L441.6 257.6L444.2 265.3L446.3 277.3L450.1 329.2L452.1 349.6L454.6 367.5L459.3 395.6L461.6 413.4L463.7 439.1L465 469.8L466.1 528.5L466.7 620.6L466.6 970.8L465.6 1152.2L464.6 1198.2L463.2 1226.4L460.9 1246.8L455.6 1274.9L453.8 1287.7L452.1 1305.6L448.7 1364.4L446.6 1379.7L443.8 1389.1L441.2 1393.8L437.8 1397.6L434.3 1400.2L429 1402.7L423.3 1404.5L415.7 1406L405.5 1407.2L392.7 1407.9L372.3 1407.7L362 1406.8L354.4 1405.7L349.3 1404.4L344.2 1402.4L340.5 1400.2L336.5 1396.2L334 1392L332.2 1387.4L330.8 1382.3L329.4 1374.6L327.6 1356.7L326.4 1328.6L325.4 1267.3L324.7 1159.9L324 725.4L324.5 464.6L325.2 375.2L326.1 318.9L327.2 293.4L328.7 275.5L330.8 262.7L333.3 255L336.5 249.4L339.1 246.7L341.6 244.8L346.8 242.3ZM356.9 242.1L347.6 244.8L341.6 248.4L339.1 250.9L336.5 254.5L334 260.2L331.5 270.4L329.9 283.2L328.6 301.1L327.7 326.6L326.7 385.4L326.1 474.9L325.7 753.5L326.4 1162.5L327.1 1269.8L328.2 1328.6L329.4 1354.2L331.4 1373.7L334 1385L336.5 1391L339.1 1394.8L341.9 1397.6L345.9 1400.2L351.8 1402.5L356.9 1403.7L364.6 1404.9L372.3 1405.6L392.7 1405.8L402.9 1405.3L413.1 1404.1L420.8 1402.6L428.1 1400.2L432.8 1397.6L436.1 1395.1L440.1 1390L442.4 1384.8L444.6 1377.2L446.5 1364.4L450.2 1308.2L452 1287.7L454.4 1272.4L459.2 1246.8L461.6 1224L463.1 1193.1L464 1147.1L464.9 965.6L465 620.6L464.4 528.5L463.4 472.3L461.8 436.5L459.5 411L450.1 349.6L448.2 331.7L445.4 293.4L443.8 278L441.9 267.8L439.2 260.2L436.1 254.9L431 249.9L426.7 247.4L423.3 245.9L413.1 243L400.3 241.2L385 240.4L369.7 240.7ZM1437.2 257.6L1447.4 255.9L1457.6 256L1467.1 257.6L1474 260.2L1480.6 264.4L1485.7 269.8L1488.2 273.7L1490.5 278L1493.3 285.8L1495.9 296.1L1498 308.7L1499.6 324.1L1501 342L1503.4 400.7L1504.8 480L1505.4 569.4L1505.4 684.5L1503.8 1085.8L1502.3 1231.5L1501.2 1277.5L1499.8 1308.2L1498.3 1328.6L1495.9 1346.8L1494.4 1354.2L1492.3 1361.8L1490.5 1367L1488 1372.1L1484.6 1377.2L1480.6 1381.5L1476.1 1384.8L1472.9 1386.6L1467.8 1388.6L1462.7 1390.1L1457.6 1390.9L1449.9 1391.5L1439.7 1391L1432.1 1389.6L1424.4 1387L1420.4 1384.8L1416.8 1382.3L1411.9 1377.2L1408.6 1372.1L1405.3 1364.4L1403.1 1356.7L1401.4 1348.6L1399.9 1338.8L1395.1 1297.9L1392.8 1282.6L1390.2 1269.8L1383.5 1241.7L1381.2 1228.9L1379.6 1216.1L1377.9 1195.7L1376.6 1167.6L1375 1088.3L1373.7 853.2L1373.6 638.5L1374.2 574.6L1375 526L1376.2 490.2L1378 459.5L1380.2 436.5L1383.3 416.1L1386.1 402.4L1395.2 362.4L1398 347.1L1404 307.9L1406.3 295.9L1408.2 288.3L1410.9 280.6L1413.4 275.5L1416.7 270.4L1418.9 267.8L1421.8 265.1L1426.9 261.7L1432.1 259.3ZM1444.8 262.3L1439.7 263.4L1434.2 265.3L1429.2 267.8L1424.4 271.5L1420.7 275.5L1417.3 280.6L1414.8 285.7L1412.9 290.8L1408.9 306.2L1400 357.3L1388.6 408.4L1386.1 422L1384 436.5L1381.9 457L1380.3 480L1379.1 508.1L1378.2 543.9L1377.2 643.6L1377.1 799.5L1377.9 998.9L1379 1111.3L1380.7 1177.8L1382.1 1200.8L1383.7 1218.7L1386.7 1239.1L1394.6 1274.9L1396.9 1287.7L1404 1339.2L1406.5 1351.6L1409.1 1360.1L1411.6 1366L1415.4 1372.1L1419.3 1376.3L1423.8 1379.7L1428.7 1382.3L1434.6 1384.2L1439.7 1385.3L1447.4 1385.9L1457.6 1385.1L1462.7 1384L1467.8 1382.2L1472.5 1379.7L1476 1377.2L1480.6 1372.5L1483.1 1368.8L1485.7 1364L1487.6 1359.3L1491.1 1346.5L1493.6 1331.2L1495.7 1308.2L1497.1 1280L1498.3 1241.7L1499.7 1134.3L1501.5 807.2L1501.9 587.3L1501.1 474.9L1499.4 395.6L1498.2 365L1496.7 339.4L1495 321.5L1492.9 306.2L1490.8 295.9L1487.6 285.7L1485.7 281.4L1483.1 276.9L1478 270.8L1474.3 267.8L1470.4 265.6L1462.7 262.9L1455 261.9L1449.9 261.8Z"/>
<path fill="#ff3000" stroke="#ff3000" stroke-width="0.7" d="M356.4 242.3L369.7 240.7L385 240.4L400.3 241.2L413.1 243L423.3 245.9L426.7 247.4L431 249.9L436.1 254.9L439.2 260.2L441.9 267.8L443.8 278L445.4 293.4L448.2 331.7L450.1 349.6L459.5 411L461.6 434L463.3 469.8L464.4 523.4L465 615.5L464.9 958L464 1144.6L463.1 1193.1L461.6 1224L459.2 1246.8L454.4 1272.4L452 1287.7L450.2 1308.2L446.5 1364.4L444.6 1377.2L442.4 1384.8L440.1 1390L436.1 1395.1L432.8 1397.6L428.1 1400.2L420.8 1402.6L413.1 1404.1L402.9 1405.3L392.7 1405.8L372.3 1405.6L364.6 1404.9L356.9 1403.7L351.8 1402.5L345.9 1400.2L341.9 1397.6L339.1 1394.8L336.5 1391L334 1385L331.4 1373.7L329.4 1354.2L328.2 1328.6L327.1 1269.8L326.4 1162.5L325.7 753.5L326.1 474.9L326.7 385.4L327.7 326.6L328.6 301.1L329.9 283.2L331.5 270.4L334 260.4L336.5 254.5L339.1 250.9L341.6 248.4L347.6 244.8ZM359.5 244.4L354.4 245.5L349.3 247.4L344.2 250.4L341.6 252.8L339.1 256.2L336.1 262.7L333.5 272.9L331.6 288.3L330.4 306.2L329.6 329.2L328.6 380.3L327.9 469.8L327.4 720.3L328.1 1147.1L328.8 1257L329.7 1315.8L330.9 1346.5L332.8 1367L334 1374.5L335.2 1379.7L336.9 1384.8L339.4 1390L341.6 1392.9L344.2 1395.3L349.3 1398.5L354.4 1400.4L362 1402.1L369.7 1403L379.9 1403.6L390.1 1403.6L402.9 1402.9L410.6 1401.9L419 1400.2L425.9 1397.8L430.8 1395.1L433.9 1392.5L437.8 1387.4L440.2 1382.3L442.9 1372.1L444.7 1359.3L448.2 1308.2L450.2 1287.7L452.4 1272.4L457.2 1246.8L459.5 1226.4L461.1 1198.2L462 1159.9L463.1 998.9L463.3 641L462.8 543.9L461.8 480L460.2 441.6L457.8 413.5L456.1 400.7L450.4 367.5L447.8 349.6L445.7 329.2L442.8 293.4L441.3 280.6L439.3 270.4L436.6 262.7L433.5 257.5L428.4 252.4L424.5 249.9L420.8 248.2L413.1 245.9L402.9 244L387.6 242.8L372.3 242.9ZM1442.6 262.7L1452.5 261.8L1460.1 262.4L1467.8 264.5L1472.9 267L1475.5 268.7L1480.6 273.5L1483.1 276.9L1485.7 281.4L1489.4 290.8L1491.9 301.1L1494.1 313.8L1495.9 329.7L1497.5 352.2L1498.9 380.3L1500.9 459.5L1501.8 556.7L1501.7 766.3L1499.9 1119L1498.4 1234L1497.3 1274.9L1495.9 1305.6L1493.9 1328.6L1491.1 1346.5L1487.6 1359.3L1485.7 1364L1483.1 1368.8L1480.6 1372.5L1476 1377.2L1472.5 1379.7L1467.8 1382.2L1462.7 1384L1457.6 1385.1L1447.4 1385.9L1439.7 1385.3L1434.6 1384.2L1428.7 1382.3L1423.8 1379.7L1419.3 1376.3L1415.4 1372.1L1412.1 1367L1409.8 1361.8L1406.5 1351.7L1404.4 1341.4L1396 1282.6L1393 1267.3L1387.8 1244.3L1385 1228.9L1383.1 1213.6L1381.5 1193.1L1379.6 1142L1378.4 1062.8L1377.5 917.1L1377 712.6L1377.6 582.2L1378.3 536.2L1379.4 500.4L1380.9 469.8L1382.8 446.8L1385 428.9L1387.6 413.5L1399.5 359.8L1407.9 311.3L1412.1 293.4L1414.2 287.3L1416.7 281.7L1419.3 277.5L1423 272.9L1426.9 269.4L1432.1 266.3L1437.2 264.2ZM1444.8 269.9L1439.7 271.3L1434.6 273.6L1431.7 275.5L1426.9 279.7L1424.4 282.8L1421.8 286.7L1419.3 291.8L1416.7 298.4L1414.2 307.3L1412.1 316.4L1403.3 362.4L1392.9 408.4L1390 423.7L1387.8 439.1L1385.7 459.5L1384 485.1L1382.8 513.2L1381.9 549L1380.9 643.6L1380.9 794.4L1381.8 991.2L1383 1111.3L1383.7 1147.1L1384.8 1177.8L1386.1 1199.5L1387.9 1218.7L1391.2 1240.7L1400.4 1285.2L1407.8 1333.7L1410 1343.9L1413.1 1354.2L1415.3 1359.3L1418.2 1364.4L1421.8 1368.9L1425.4 1372.1L1429.5 1374.7L1434.6 1376.9L1439.7 1378.2L1447.4 1379L1452.5 1378.8L1457.6 1378L1462.7 1376.5L1467.8 1374L1472.9 1370.2L1475.5 1367.5L1478 1364.2L1480.6 1359.7L1483 1354.2L1484.7 1349.1L1487.6 1336.3L1490.1 1318.4L1491.7 1297.9L1493.3 1267.3L1494.2 1234L1495.9 1122.5L1497.8 796.9L1498.1 595L1497.4 490.2L1495.7 408.4L1493 352.2L1491 329.2L1488.9 313.8L1486.2 301.1L1483.1 291.7L1478.7 283.2L1474.6 278L1471.7 275.5L1467.8 273L1461.1 270.4L1457.6 269.6L1452.5 269.2Z"/>
<path fill="#ff2000" stroke="#ff2000" stroke-width="0.7" d="M357.1 244.8L369.7 243.1L382.5 242.7L397.8 243.4L410.6 245.3L420.8 248.2L424.5 249.9L428.4 252.4L433.5 257.5L436.6 262.7L439.3 270.4L441.3 280.6L442.8 293.4L445.7 329.2L447.8 349.6L450.4 367.5L456.1 400.7L457.8 413.5L460 439.1L461.7 474.9L462.7 536.2L463.3 633.3L463.1 988.6L462 1157.4L461.1 1198.2L459.5 1226.4L457.2 1246.8L452.4 1272.4L450.2 1287.7L448.2 1308.2L444.7 1359.3L442.9 1372.1L440.2 1382.3L437.8 1387.4L433.9 1392.5L430.8 1395.1L425.9 1397.8L419 1400.2L410.6 1401.9L402.9 1402.9L390.1 1403.6L379.9 1403.6L369.7 1403L362 1402.1L354.4 1400.4L349.3 1398.5L344.2 1395.3L341.6 1392.9L339.4 1390L336.9 1384.8L335.2 1379.7L334 1374.5L332.8 1367L331.1 1349.1L329.8 1318.4L328.8 1262.2L328.1 1154.8L327.4 743.3L327.8 482.5L328.5 390.5L329.4 334.3L330.3 308.7L331.6 288.3L333.5 272.9L336.1 262.7L339.1 256.2L341.6 252.8L344.2 250.4L349.3 247.4ZM362 246.9L356.9 248.1L351.8 249.9L346.7 253L344.2 255.3L341.6 258.6L338.4 265.3L336.2 272.9L333.9 288.3L332.5 308.7L331.4 336.5L330.4 395.6L329.7 480L329.2 712.6L329.9 1124.1L330.6 1236.6L331.5 1305.6L332.7 1338.8L334.6 1361.8L336.2 1372.1L337.5 1377.2L339.2 1382.3L341.6 1387L344.2 1390.4L346.7 1392.8L351.8 1396L356.9 1397.9L362 1399.1L369.7 1400.3L379.9 1401L390.1 1401L400.3 1400.4L408 1399.4L416.6 1397.6L423.3 1395.2L428.1 1392.5L431.1 1390L435.1 1384.8L437.6 1379.7L439.9 1372.1L441.7 1361.8L443.3 1346.5L445.9 1310.7L447.8 1290.3L449.9 1274.9L455.4 1244.3L457.6 1223.8L459.1 1197.8L460.1 1154.8L461.2 993.8L461.5 648.7L461 551.6L460 487.6L458.6 449.3L456.2 418.6L454 401.6L447.6 365L445.4 349.6L438.9 285.7L437 275.5L434.6 267.8L431 260.8L428.4 257.7L425.9 255.4L420.8 252.1L413.1 249.1L402.9 246.9L387.6 245.5L374.8 245.5ZM1442.8 270.4L1447.4 269.5L1452.5 269.2L1460.1 270.1L1467.8 272.9L1472.9 276.5L1478 282.1L1480.6 286.2L1482.8 290.8L1485.7 299.2L1488.2 310.1L1490.7 326.6L1492.4 344.5L1493.8 365L1495.2 395.6L1497.1 469.8L1498 569.4L1497.9 771.4L1495.9 1119L1494.3 1231.5L1493.3 1267.3L1491.7 1297.9L1490.1 1318.4L1487.6 1336.3L1484.7 1349.1L1483 1354.2L1480.6 1359.7L1478 1364.2L1475.5 1367.5L1472.9 1370.2L1467.8 1374L1462.7 1376.5L1457.6 1378L1452.5 1378.8L1447.4 1379L1439.7 1378.2L1434.6 1376.9L1429.5 1374.7L1425.4 1372.1L1421.8 1368.9L1418.2 1364.4L1415.3 1359.3L1413.1 1354.2L1410.7 1346.5L1408.3 1336.3L1399.9 1282.6L1391.4 1241.7L1388.6 1224.8L1386.6 1205.9L1385.4 1188L1383.3 1131.8L1382.1 1039.8L1381.2 878.7L1380.8 697.3L1381.5 579.7L1382.2 536.2L1383.3 500.4L1384.8 472.3L1386.7 449.3L1388.8 431.4L1392.4 411L1403.3 362.4L1412.1 316.4L1414.2 307.3L1416.7 298.5L1419.3 291.8L1421.8 286.7L1424.4 282.8L1426.9 279.7L1431.7 275.5L1434.6 273.6L1439.7 271.3ZM1444.8 279.9L1442.3 280.7L1437.2 283.3L1434 285.7L1429.5 290.6L1426.9 294.4L1424.4 299.3L1420.8 308.7L1416.7 323.4L1407.8 365L1398.3 405.9L1394.4 426.3L1391.9 444.2L1389.8 464.6L1388.3 487.6L1387 518.3L1386.1 553L1385.1 646.1L1385.1 781.6L1386 983.5L1387.2 1101.1L1388.9 1167.6L1390.3 1193.1L1392.1 1213.6L1393.7 1227.2L1395.7 1239.1L1404.5 1282.6L1411.6 1324L1414.2 1335.6L1416.7 1344.3L1419.3 1350.6L1421.8 1355.4L1424.6 1359.3L1429.5 1364.2L1433.9 1367L1437.2 1368.4L1442.3 1369.8L1447.4 1370.3L1452.5 1370L1457.6 1368.8L1462 1367L1465.2 1365L1467.8 1362.9L1471.2 1359.3L1473.1 1356.7L1476 1351.6L1478.2 1346.5L1480.6 1338.8L1483.1 1326.7L1485.7 1307.1L1487.5 1282.6L1488.8 1254.5L1490 1213.6L1491.6 1106.2L1493.5 812.3L1493.9 600.1L1493.2 500.4L1491.5 421.2L1490.2 390.5L1488.6 362.4L1486.8 342L1484.8 326.6L1482.5 313.8L1479.6 303.6L1475.5 294L1471.5 288.3L1469.1 285.7L1465.9 283.2L1460.1 280.3L1457.6 279.6L1452.5 279Z"/>
<path fill="#ff1000" stroke="#ff1000" stroke-width="0.7" d="M359.5 247.4L372.3 245.6L385 245.4L397.8 246.2L405.5 247.3L410.6 248.4L418.2 251L421.5 252.5L425.4 255L428.3 257.6L430.5 260.2L433.6 265.3L436.4 272.9L438.7 284.1L445.4 349.6L447.6 365L454 401.6L455.9 416.1L458.5 446.8L459.9 482.5L461 546.4L461.5 641L461.3 983.5L460.1 1152.2L459.1 1197.8L457.6 1223.8L455.4 1244.3L449.9 1274.9L447.8 1290.3L445.9 1310.7L443.3 1346.5L441.7 1361.8L439.9 1372.1L437.6 1379.7L435.1 1384.8L431.1 1390L428.1 1392.5L423.3 1395.2L416.6 1397.6L408 1399.4L400.3 1400.4L390.1 1401L379.9 1401L369.7 1400.3L362 1399.1L356.9 1397.9L351.8 1396L346.7 1392.8L344.2 1390.4L341.6 1387L339.2 1382.3L337.5 1377.2L336.2 1372.1L334.6 1361.8L332.9 1341.4L331.6 1308.2L330.6 1241.7L329.9 1131.8L329.2 720.3L329.7 482.5L330.4 395.6L331.4 336.5L332.3 311.3L333.7 290.8L335.3 278L337.6 267.8L340.7 260.2L344.4 255L347.3 252.5L351.7 249.9ZM364.6 249.8L355.3 252.5L349.3 256.1L346.7 258.4L344.2 261.7L341.1 267.8L338.8 275.5L336.5 289.4L334.9 308.7L333.8 334.3L332.6 390.5L331.8 469.8L331.2 681.9L331.8 1096L332.5 1216.1L333.5 1292.8L334.7 1328.6L336.5 1354.9L339.1 1370.7L341 1377.2L343.2 1382.3L346.7 1387.4L349.5 1390L353.4 1392.5L359.5 1395L364.6 1396.3L372.3 1397.5L387.6 1398.1L397.2 1397.6L405.5 1396.6L413.1 1395L420 1392.5L424.5 1390L428.4 1386.7L431.9 1382.3L434.5 1377.2L437 1369.5L439.3 1356.7L441 1341.4L445.4 1290.3L447.6 1274.9L453 1244.3L455.5 1221.3L456.9 1195.7L457.9 1157.4L459.1 1026.9L459.6 679.4L459.2 572L458.4 508.1L456.7 454.4L454 420.1L451.4 401.4L445.3 367.5L442.6 349.6L436.1 290.4L434.3 280.6L432.2 272.9L428.6 265.3L424.6 260.2L421.6 257.6L418.2 255.4L411.5 252.5L401.1 249.9L390.1 248.7L377.4 248.5ZM1442.6 280.6L1449.9 279L1455 279.2L1457.6 279.6L1460.9 280.6L1465.2 282.7L1470.4 286.9L1475.1 293.4L1478 299.3L1481.2 308.7L1484 321.5L1486.2 336.8L1488.2 357.3L1490.9 405.9L1492.9 480L1493.9 574.6L1493.7 779L1491.7 1093.4L1490.2 1205.9L1489 1249.4L1487.7 1280L1485.8 1305.6L1483.6 1323.5L1480.6 1338.8L1477.1 1349.1L1472.9 1357L1468.9 1361.8L1465.2 1365L1462 1367L1457.6 1368.8L1452.5 1370L1447.4 1370.3L1442.3 1369.8L1437.2 1368.4L1433.9 1367L1429.5 1364.2L1424.6 1359.3L1421.8 1355.4L1419.3 1350.6L1416.7 1344.3L1414.2 1335.6L1411.6 1324L1404.5 1282.6L1396.2 1241.7L1393 1221.3L1391.2 1204.8L1389.7 1182.9L1387.7 1126.7L1386.3 1029.5L1385.4 873.6L1385 699.8L1385.6 582.2L1386.3 541.3L1387.5 505.5L1388.7 480L1390.8 454.4L1393.6 431.4L1396.7 413.5L1407.8 365L1416.7 323.4L1419.3 313.5L1421.8 305.5L1424.4 299.3L1429.3 290.8L1434.6 285.2L1437.4 283.2ZM1447.4 293.3L1442.3 295.4L1439.7 297.2L1434.6 302.5L1432.1 306.3L1429.5 311.1L1425.5 321.5L1419.3 343.5L1404 405.9L1400.9 421.2L1397.9 439.1L1395.8 457L1393.7 481.3L1391.4 533.7L1390.1 607.8L1389.7 715.1L1390.3 901.7L1391.7 1065.3L1393.5 1149.7L1394.7 1177.8L1396.3 1200.8L1398.9 1223.6L1401.4 1239.4L1416.7 1315.2L1421 1331.2L1423.9 1338.8L1426.4 1343.9L1429.5 1348.5L1432.1 1351.4L1435.4 1354.2L1439.7 1356.5L1442.3 1357.4L1447.4 1358.1L1452.5 1357.6L1455 1356.9L1460.1 1354.2L1462.7 1352.2L1465.2 1349.5L1467.8 1346L1470.4 1341.4L1472.5 1336.3L1475.5 1326.1L1478.4 1310.7L1480.6 1292.3L1482.6 1264.7L1483.9 1236.6L1485 1198.2L1486.6 1101.1L1488.5 860.8L1489.3 646.1L1488.8 538.8L1487.5 459.5L1484.9 395.6L1483.1 370.2L1481 349.6L1478.7 334.3L1476.6 324.1L1473.6 313.8L1470.3 306.2L1467.8 302.2L1465.2 299.1L1460.1 295L1455 293.1L1452.5 292.8Z"/>
<path fill="#ff0000" stroke="#ff0000" stroke-width="0.7" d="M363.9 249.9L374.8 248.6L387.6 248.6L400.3 249.8L411.5 252.5L418.2 255.4L421.6 257.6L424.6 260.2L428.6 265.3L432.2 272.9L434.3 280.6L436.1 290.4L442.6 349.6L445.3 367.5L451.4 401.4L454 420.1L456.5 452L458.3 505.5L459.2 569.4L459.6 674.2L459.1 1024.4L457.9 1157.4L456.9 1195.7L455.5 1221.3L453 1244.3L447.6 1274.9L445.4 1290.3L441 1341.4L439.3 1356.7L437 1369.5L434.5 1377.2L431.9 1382.3L428.4 1386.7L424.5 1390L420 1392.5L413.1 1395L405.5 1396.6L397.2 1397.6L387.6 1398.1L372.3 1397.5L364.6 1396.3L359.5 1395L353.4 1392.5L349.5 1390L346.7 1387.4L343.2 1382.3L341 1377.2L339.1 1370.7L336.5 1354.9L334.7 1328.6L333.5 1292.8L332.5 1216.1L331.9 1098.6L331.2 687L331.8 472.3L332.6 393.1L333.7 336.8L334.8 311.3L336.3 290.8L338.3 278L341.1 267.8L344.2 261.7L346.7 258.4L349.3 256.1L355.3 252.5ZM374.8 252.3L364.6 253.9L356.9 256.6L351.5 260.2L349 262.7L345.6 267.8L344.2 270.9L341.9 278L339.5 290.8L337.9 306.2L336.5 330.7L335.3 375.2L334.3 441.6L333.5 610.3L333.8 1004L335 1228.9L336.1 1292.8L337.4 1328.6L339.5 1354.2L341.2 1364.4L343.3 1372.1L345.3 1377.2L348.4 1382.3L351.8 1386L356.9 1389.4L362 1391.5L369.7 1393.4L377.4 1394.3L387.6 1394.6L397.8 1393.9L405.5 1392.8L413.1 1390.6L418.2 1388.4L423.3 1385L426.1 1382.3L429.6 1377.2L432 1372.1L434.3 1364.4L436.2 1354.2L438.1 1338.8L442.7 1290.3L444.9 1274.9L450.7 1241.7L452.9 1221.3L454.3 1198.2L455.4 1165L456.7 1055.1L457.4 743.3L456.7 546.4L455 472.3L453.9 449.3L451.9 426.3L448.9 403.1L440.3 354.7L433.5 299.3L431.7 288.3L429.9 280.6L427.2 272.9L423.3 266.4L418.2 261.3L413.1 258L405.4 255L395.2 252.9L385 252.1ZM1447 293.4L1449.9 292.8L1455 293.1L1460.1 295L1465.2 299.1L1468.7 303.6L1472.6 311.3L1475.5 319.5L1478 330.3L1480.7 347.1L1483.1 370.2L1484.7 393.1L1487.3 454.4L1488.8 533.7L1489.3 641L1488.5 850.6L1486.6 1098.6L1485.1 1195.7L1484 1234L1482.6 1264.7L1480.6 1292.3L1478.4 1310.7L1475.5 1326.1L1472.5 1336.3L1470.4 1341.4L1467.8 1346L1465.2 1349.5L1462.7 1352.2L1460.1 1354.2L1455 1356.9L1452.5 1357.6L1447.4 1358.1L1442.3 1357.4L1439.7 1356.5L1435.4 1354.2L1432.1 1351.4L1429.5 1348.5L1426.4 1343.9L1423.9 1338.8L1421 1331.2L1416.7 1315.2L1401.4 1239.4L1398.9 1223.6L1396.3 1200.8L1394.7 1177.8L1393.5 1152.2L1391.7 1067.9L1390.3 909.4L1389.7 720.3L1390 615.5L1391.2 538.8L1392.3 508.1L1393.7 481.3L1395.5 459.5L1397.6 441.6L1400.4 423.7L1404 406.2L1419.3 343.5L1424.6 324.1L1429.5 311.1L1432.1 306.3L1434.6 302.5L1439.7 297.2L1442.3 295.4ZM1447.4 315.5L1444.8 316.8L1442.3 318.8L1439.7 321.7L1437.2 325.4L1432.1 335.7L1426.9 350L1419.3 375.9L1411.6 404.3L1406.5 427.6L1403.4 446.8L1401.3 464.6L1399.4 487.6L1397 538.8L1395.6 610.3L1395.2 710L1395.9 891.5L1397.4 1052.6L1399.1 1134.3L1400.6 1167.6L1402.1 1190.6L1404.8 1216.1L1409 1241.7L1419.3 1288L1424.4 1307.9L1426.9 1315.9L1429.5 1322.3L1432.1 1327.4L1434.6 1331.3L1437.2 1334.2L1439.7 1336.4L1442.3 1337.9L1444.8 1338.7L1447.4 1339.1L1449.9 1338.8L1452.5 1338L1455 1336.6L1457.6 1334.5L1460.1 1331.5L1462.7 1327.4L1464.5 1323.5L1467.8 1313.9L1470.4 1302.8L1473 1285.2L1475.5 1259.8L1476.9 1236.6L1479.3 1172.7L1480.9 1075.6L1483.1 824.6L1483.8 651.2L1483.4 551.6L1482.1 480L1479.8 423.7L1478 397.4L1476.1 377.7L1473.8 359.8L1471.4 347.1L1468 334.3L1465.2 327.3L1461.9 321.5L1460.1 319.3L1457.6 317L1455 315.5L1452.5 314.8L1449.9 314.8Z"/>
<path fill="#ef0000" stroke="#ef0000" stroke-width="0.7" d="M372.9 252.5L385 252.1L395.2 252.9L405.4 255L412.2 257.6L418.2 261.3L423.3 266.4L427.2 272.9L429.9 280.6L431.7 288.3L433.5 299.3L440.3 354.7L448.9 403.1L451.7 423.7L453.7 446.8L454.8 467.2L456.5 536.2L457.2 615.5L457.4 727.9L456.7 1050L455.4 1162.5L454.3 1198.2L452.9 1221.3L450.7 1241.7L444.9 1274.9L442.7 1290.3L438.1 1338.8L436.2 1354.2L434.3 1364.4L432 1372.1L429.6 1377.2L426.1 1382.3L423.3 1385L418.2 1388.4L413.1 1390.6L405.5 1392.8L397.8 1393.9L387.6 1394.6L377.4 1394.3L369.7 1393.4L364.6 1392.3L358 1390L353.6 1387.4L349.3 1383.4L346.6 1379.7L344.2 1374.6L341.8 1367L340.3 1359.3L339.1 1350.4L337.9 1336.3L336.3 1303L335.2 1244.3L333.9 1034.7L333.4 623.1L334.2 449.3L335.2 380.3L336.5 331.7L337.6 311.3L339.1 293.4L341.6 279L344.4 270.4L346.7 265.9L349 262.7L351.5 260.2L354.4 258L362 254.6ZM372.3 257.2L364.6 259L361.5 260.2L356.9 262.7L354.4 264.8L351.6 267.8L349.3 271.4L346.7 277L344.2 285.9L341.6 302.4L340.1 321.5L339 344.5L337.7 395.6L336.7 464.6L335.9 633.3L336.4 1024.4L337.8 1231.5L339 1292.8L340.4 1326.1L342.5 1349.1L344.2 1359.3L346.2 1367L349.3 1374.4L351.8 1378.4L355.6 1382.3L359.5 1385L364.8 1387.4L372.3 1389.3L379.9 1390.2L387.6 1390.3L395.2 1389.9L402.9 1388.6L410.6 1386.3L415.7 1383.8L420.8 1379.9L423.3 1377.1L425.9 1373.3L428.8 1367L431.1 1359.3L433.5 1345.7L439.6 1290.3L447.6 1241.7L450.4 1216.1L451.7 1193.1L452.9 1154.8L454.2 1034.7L454.9 725.4L454.7 615.5L454 538.8L452.1 469.8L450.8 446.8L448.9 425.7L446.1 405.9L436.7 354.7L429.5 301.1L428.1 293.4L425.9 284.4L423.3 277.5L419.1 270.4L414 265.3L408 261.6L400.3 258.8L392.7 257.2L382.5 256.5ZM1445.6 316.4L1447.4 315.5L1449.9 314.8L1452.5 314.8L1455 315.5L1457.6 317L1460.1 319.3L1462.7 322.6L1464.9 326.6L1467.8 333.6L1470.4 342.4L1472.9 354.5L1475.5 371.9L1477.9 395.6L1479.2 413.5L1481.7 467.2L1483.2 533.7L1483.8 625.7L1483.2 814.8L1481.1 1057.7L1479.5 1162.5L1477.2 1231.5L1475.5 1259.8L1473 1285.2L1470.4 1302.8L1467.8 1313.9L1464.5 1323.5L1462.7 1327.4L1460.1 1331.5L1457.6 1334.5L1455 1336.6L1452.5 1338L1449.9 1338.8L1447.4 1339.1L1444.8 1338.7L1442.3 1337.9L1439.7 1336.4L1437.2 1334.2L1434.6 1331.3L1432.1 1327.4L1429.5 1322.3L1426.9 1315.9L1424.4 1307.9L1419.3 1288L1409.1 1242.3L1405.1 1218.7L1402.3 1193.1L1400.7 1170.1L1399.3 1139.5L1397.6 1065.3L1396.1 929.9L1395.2 743.3L1395.4 635.9L1396.4 559.2L1398.7 497.9L1400.4 474.9L1402.1 457L1405 436.5L1409.1 415.2L1414.2 394.4L1424.4 358.2L1429.5 342.4L1434.6 330L1439.7 321.7L1442.3 318.8ZM1444.8 354.4L1442.3 356.8L1439.7 360.2L1434.6 369.3L1429.5 381.4L1424.4 395.8L1419.3 412.8L1414.3 434L1411.6 448.5L1409 467.2L1406.8 490.2L1405.6 508.1L1404.2 536.2L1403.3 564.3L1402.1 641L1402 743.3L1402.9 901.7L1404.6 1039.8L1406.5 1120.5L1407.8 1149.7L1409.4 1175.2L1411.6 1198.7L1414.4 1218.7L1419.3 1242.9L1424.4 1262.4L1429.5 1278.6L1432.1 1285.4L1437.2 1295.7L1439.7 1299.2L1442.3 1301.6L1444.8 1302.9L1447.4 1303.1L1449.9 1302.2L1452.5 1300L1455.5 1295.4L1457.6 1290.8L1460.1 1282.9L1462.7 1271.6L1465.2 1255.1L1467.5 1234L1470.4 1188.5L1472.9 1101.8L1474.7 978.4L1476.6 773.9L1477 628.2L1476.5 556.7L1475.2 497.9L1472.9 447.5L1469.7 411L1467.8 396L1465.2 381.7L1462.7 371.5L1460.1 364.1L1457.6 358.9L1455 355.5L1452.5 353.4L1449.9 352.7L1447.4 353Z"/>
<path fill="#df0000" stroke="#df0000" stroke-width="0.7" d="M369.8 257.6L379.9 256.6L390.1 256.9L400.3 258.8L408 261.6L414 265.3L419.1 270.4L423.3 277.5L425.9 284.4L428.1 293.4L429.5 301.1L436.7 354.7L446.1 405.9L448.9 425.7L450.8 446.8L452.1 469.8L454 537.4L454.6 612.9L454.9 722.8L454.2 1034.7L452.9 1154.8L451.7 1193.1L450.4 1216.1L447.6 1241.7L439.6 1290.3L433.5 1345.7L431.1 1359.3L428.8 1367L425.9 1373.3L423.3 1377.1L420.8 1379.9L415.7 1383.8L410.6 1386.3L402.9 1388.6L395.2 1389.9L387.6 1390.3L379.9 1390.2L372.3 1389.3L364.8 1387.4L359.5 1385L355.6 1382.3L351.8 1378.4L349.3 1374.4L346.7 1368.6L344.8 1361.8L343.2 1354.2L341.6 1341.8L340.7 1331.2L339.1 1296.1L338 1246.8L337.1 1167.6L336.5 1055.1L335.9 653.8L336.6 474.9L337.5 403.3L338.8 349.6L339.9 324.1L341.6 302.4L343.7 288.3L346.4 278L349.9 270.4L351.8 267.5L354.4 264.8L356.9 262.7L361.5 260.2ZM374.8 262.7L369.7 263.8L364.6 265.7L360.9 267.8L357.8 270.4L354.4 274.5L352.3 278L349.3 285.7L346.7 296.7L344.5 313.8L343 334.3L341.8 362.4L340.5 411L339.6 474.9L338.7 633.3L339.1 960.3L340.4 1193.1L341.6 1266.2L343.1 1308.2L345.1 1336.3L346.7 1348.6L348.4 1356.7L350.8 1364.4L354.4 1371.6L356.9 1374.9L362 1379.3L367.2 1381.9L372.3 1383.5L379.9 1384.8L387.6 1385.1L395.2 1384.4L402.9 1382.7L408 1380.8L413.1 1377.9L416.9 1374.6L420.8 1369.8L423.3 1365.1L425.6 1359.3L428.4 1348L430.4 1336.3L436.7 1285.2L444.4 1239.1L447.2 1213.6L448.9 1184.1L449.8 1152.2L451.3 1029.5L452.1 753.5L451.4 566.9L450.7 520.9L449.6 485.1L448.4 459.5L446.3 434.3L443.2 411L433.1 357.3L425.9 309.8L423.1 295.9L420.8 287.7L417.7 280.6L413.1 273.8L408 269.2L405.5 267.6L400.5 265.3L392.7 263.1L385 262.2ZM1444.5 354.7L1447.4 353L1449.9 352.7L1452.5 353.4L1455 355.5L1457.6 358.9L1460.1 364.1L1462.7 371.5L1465.2 381.7L1467.8 396L1469.4 408.4L1471 423.7L1472.9 447.5L1475 492.8L1476.4 551.6L1477 625.7L1476.6 771.4L1474.7 975.9L1472.9 1101.8L1470.4 1188.5L1467.5 1234L1465.2 1255.1L1462.7 1271.6L1460.1 1282.9L1457.6 1290.8L1455.5 1295.4L1452.5 1300L1449.9 1302.2L1447.4 1303.1L1444.8 1302.9L1442.3 1301.6L1439.7 1299.2L1437.2 1295.7L1432.1 1285.4L1429.5 1278.6L1424.4 1262.4L1419.3 1242.9L1414.4 1218.7L1411.6 1198.7L1409.4 1175.2L1407.8 1149.7L1406.5 1120.5L1404.6 1042.3L1403 906.9L1402 748.4L1402.1 643.6L1403.2 566.9L1405.4 510.7L1406.6 492.8L1408.8 469.8L1411.5 449.3L1414.2 434.4L1416.7 422.8L1421.8 403.9L1429.5 381.4L1434.6 369.3L1439.7 360.2L1442.3 356.8ZM1444.8 410.3L1442.3 411.1L1439.7 413.2L1437.2 416.4L1434.6 420.7L1432.1 426.1L1429.5 432.7L1426.9 440.7L1423.5 454.4L1421.4 464.6L1418.7 482.5L1416.7 499.9L1415.4 515.8L1413.2 556.7L1411.6 612.8L1411.1 676.8L1411.5 807.2L1413.3 950.3L1415.6 1055.1L1416.7 1090.5L1418.2 1121.6L1419.5 1142L1421.8 1167.6L1424.4 1186.6L1426.9 1200.4L1429.6 1211L1432.1 1218.7L1434.6 1224.7L1437.2 1229.1L1439.7 1231.8L1442.3 1232.9L1444.8 1232L1447.4 1229L1449.9 1223.2L1453 1211L1455 1199.2L1457.4 1177.8L1460.1 1137.5L1462.7 1066L1465 950.3L1467 804.6L1467.9 692.1L1467.8 618.3L1467 561.8L1465.4 510.7L1463.1 474.9L1460.1 447.6L1457.6 433.2L1455.1 423.7L1452.5 417L1449.9 413L1447.4 410.8Z"/>
<path fill="#cf0000" stroke="#cf0000" stroke-width="0.7" d="M374.6 262.7L382.5 262.2L392.7 263.1L400.5 265.3L405.5 267.6L408 269.2L413.1 273.8L417.7 280.6L420.8 287.7L423.1 295.9L425.9 309.8L433.1 357.3L443.2 411L446.3 434.3L448.4 459.5L449.6 485.1L450.7 520.9L451.4 566.9L452.1 753.5L451.3 1029.5L449.8 1152.2L448.9 1184.1L447.2 1213.6L444.4 1239.1L436.7 1285.2L430.4 1336.3L428.4 1348L425.6 1359.3L423.3 1365.1L420.8 1369.8L416.9 1374.6L413.1 1377.9L408 1380.8L402.9 1382.7L395.2 1384.4L387.6 1385.1L379.9 1384.8L372.3 1383.5L367.2 1381.9L362 1379.3L356.9 1374.9L354.4 1371.6L350.8 1364.4L348.4 1356.7L346.7 1348.6L345.1 1336.3L343.1 1308.2L341.6 1266.2L340.5 1195.7L339.1 960.3L338.7 633.3L339.6 474.9L340.5 411L341.8 362.4L343 334.3L344.5 313.8L346.7 296.7L349.3 285.7L352.3 278L354.4 274.5L357.8 270.4L360.9 267.8L364.6 265.7L369.7 263.8ZM377.4 270.1L372.3 271.3L368.2 272.9L364.6 275.2L362 277.4L359.5 280.4L356.9 284.6L353.5 293.4L350.6 306.2L348.6 321.5L346.7 344.7L345.4 372.6L344.2 412.5L343.1 472.3L342 620.6L342.2 886.4L343.5 1142L344.5 1221.3L346.3 1285.2L348.4 1320.9L349.4 1331.2L351.4 1343.9L353.1 1351.6L355.8 1359.3L358.4 1364.4L362.3 1369.5L367.2 1373.3L372.3 1375.8L379.9 1377.7L387.6 1378L392.7 1377.6L397.8 1376.5L402.9 1374.7L408 1371.8L413.1 1367.2L415.7 1363.8L418.2 1359.3L420.8 1353L423.3 1344L425.9 1330.6L432.3 1285.2L440.6 1236.6L443.8 1206.1L445.2 1180.4L446.3 1146.6L447.8 1029.5L448.8 776.5L448.3 592.4L447.5 538.8L446.4 495.3L444.8 464.6L443 441.6L441.2 426.2L438.7 409.8L429.1 362.4L419.5 308.7L416.1 295.9L413.1 288.5L410 283.2L405.5 278L400.3 274.3L397.8 272.9L392.7 271.1L385 269.8ZM1442.8 411L1444.8 410.3L1447.4 410.8L1449.9 413L1452.5 417L1455 423.5L1457.6 433.2L1459.6 444.2L1462.7 469.6L1465.2 507.1L1466.7 549L1467.7 605.2L1467.9 669.1L1467.3 781.6L1465.2 937.8L1462.7 1066L1460.3 1134.3L1457.6 1176.2L1455.2 1198.2L1453.5 1208.5L1452.5 1213.8L1449.9 1223.2L1447.4 1228.9L1444.8 1232L1442.3 1232.9L1439.7 1231.8L1437.2 1229.1L1434.6 1224.7L1432.1 1218.7L1429.6 1211L1426.9 1200.4L1424.4 1186.6L1421.8 1167.6L1418.5 1126.7L1416 1070.4L1413.8 975.9L1411.6 819.3L1411 697.3L1411.4 625.7L1412.6 572L1414.4 531.1L1417.5 492.8L1419.3 478.1L1421.8 462.4L1424.4 450.3L1426.9 440.7L1429.5 432.7L1434.6 420.7L1437.2 416.4L1439.7 413.2ZM1439.7 533.2L1437.2 537.1L1434.6 546.5L1432.1 563.6L1430.4 582.2L1429.3 600.1L1428.2 630.8L1427.5 692.1L1427.8 740.7L1428.9 794.4L1429.6 822.5L1432.1 879.6L1434.6 915.6L1437.2 934.3L1439.7 938.3L1442.3 928L1444.8 902.3L1447.4 858.4L1450.2 773.9L1451.2 720.3L1451.5 674.2L1450.6 610.3L1449.9 591.4L1448.2 566.9L1447.4 557.4L1444.8 541.7L1442.3 534.5Z"/>
<path fill="#bf0000" stroke="#bf0000" stroke-width="0.7" d="M375.7 270.4L379.9 269.8L385 269.8L392.7 271.1L397.8 272.9L400.3 274.3L405.5 278L410 283.2L413.1 288.5L416.1 295.9L419 306.2L421.1 316.4L429.1 362.4L438.7 409.8L441.2 426.2L442.7 439.1L444.7 462.1L446.3 493L447.4 533.7L448.2 582.2L448.8 763.7L447.9 1021.9L446.4 1144.6L445.3 1177.8L443.8 1206.1L440.6 1236.6L432.3 1285.2L425.9 1330.6L423.3 1344L420.8 1353L418.2 1359.3L415.7 1363.8L413.1 1367.2L408 1371.8L402.9 1374.7L397.8 1376.5L392.7 1377.6L387.6 1378L379.9 1377.7L374.8 1376.6L369.7 1374.8L364.6 1371.6L360.1 1367L356.9 1361.9L354.4 1355.7L351.8 1346.4L349.1 1328.6L346.7 1295.4L344.9 1239.1L343.7 1165L342.3 929.9L342 641L342.9 485.1L344 421.2L345.2 380.3L346.6 347.1L348.1 326.6L349.8 311.3L352.7 295.9L354.4 290.5L356.9 284.6L359.4 280.6L361.5 278L364.2 275.5L367.2 273.5L372.3 271.3ZM374.8 282.3L369.7 285.1L367.2 287.4L364.4 290.8L362 294.8L359.5 300.9L356.7 311.3L354.4 324.4L351.8 349.8L350.1 380.3L348.7 413.5L346.7 508.1L345.9 661.5L346.3 932.4L347.7 1136.9L349 1216.1L350.6 1267.3L352.8 1305.6L354.3 1320.9L355.9 1331.2L358.1 1341.4L360.6 1349.1L364.5 1356.7L367.2 1360.1L372.3 1364.4L377.4 1366.8L382.5 1367.9L387.6 1368.1L392.7 1367.4L397.8 1365.7L402.9 1362.7L405.5 1360.5L408 1357.8L410.6 1354.1L413.2 1349.1L416.1 1341.4L418.2 1333.7L420.8 1321.4L427.2 1282.6L433.7 1246.8L436.8 1226.4L439.3 1200.8L441 1170.1L442.1 1136.9L443.8 1021.9L444.8 763.7L444.7 661.5L444.1 582.2L443.4 538.8L442.2 500.4L441 474.9L438.7 446.5L436.1 426.3L433.5 411.2L415.2 324.1L412 311.3L408.4 301.1L405.5 295L402.9 291.2L400.3 288.3L395.2 284.3L392.7 283L387.6 281.3L382.5 280.8L379.9 281ZM1439.4 533.7L1439.7 533.2L1442.3 534.5L1444.8 541.7L1447.4 557.4L1448.2 566.9L1449.9 591.4L1450.6 610.3L1451.5 674.2L1451.2 720.3L1450.2 773.9L1447.4 858.4L1444.8 902.3L1442.3 928L1439.7 938.3L1437.2 934.3L1434.6 915.6L1432.1 879.6L1428.9 796.9L1427.8 743.3L1427.5 694.7L1428.1 633.3L1429.2 602.7L1430.2 584.8L1432.1 563.6L1434.6 546.5L1437.2 537.1Z"/>
<path fill="#af0000" stroke="#af0000" stroke-width="0.7" d="M372.9 283.2L377.4 281.5L379.9 281L385 280.9L390.1 282L392.7 283L397.8 286L402.9 291.2L407.3 298.5L410.6 306.6L413.4 316.4L433.5 411L436.1 426.3L438.1 441.6L440.4 467.2L441.9 492.8L443.1 528.5L444 572L444.6 648.7L444.8 748.4L443.9 1009.1L442.2 1131.8L441.2 1166.3L439.5 1198.2L437.4 1221.3L434.1 1244.3L427.2 1282.6L420.8 1321.4L418.2 1333.7L416.1 1341.4L413.2 1349.1L410.6 1354.1L408 1357.8L405.5 1360.5L402.9 1362.7L397.8 1365.7L392.7 1367.4L387.6 1368.1L382.5 1367.9L377.4 1366.8L372.3 1364.4L367.2 1360.1L364.5 1356.7L360.6 1349.1L358.1 1341.4L356.3 1333.7L354.4 1321.5L353.3 1310.7L351 1277.5L349.3 1228.6L348 1157.4L346.5 975.9L345.9 689.6L346.5 528.5L348.4 426.3L349.5 393.1L351.3 357.3L353.2 334.3L355.2 318.9L357.9 306.2L359.5 300.9L362 294.8L364.6 290.5L367.2 287.4L369.7 285.1ZM377.4 301L374.8 302.8L372.3 305.3L369.7 308.9L367.3 313.8L364.6 321.5L361.7 334.3L359.5 349.2L356.9 375.5L354.8 411L353.4 444.2L351.6 528.5L350.7 658.9L351 858.3L352.2 1062.8L353.3 1149.7L354.7 1211L356.9 1264.1L359.9 1300.5L362 1315.6L364.3 1326.1L367.2 1335.1L369.7 1340.5L372.3 1344.4L374.8 1347.2L377.4 1349.2L382.5 1351.5L387.6 1351.9L390.1 1351.5L395.2 1349.4L400.3 1345L402.9 1341.8L405.5 1337.4L408 1331.7L410.6 1324.2L415.7 1303.1L428.4 1238.2L431.6 1216.1L434 1190.6L435.7 1159.9L436.9 1126.7L438.7 1016.8L439.9 789.3L439.5 612.9L438.4 543.9L436.1 487.1L433.1 451.9L431 435.2L428.2 418.6L423.3 396.3L410.6 344.7L405.5 326.7L402.6 318.9L400.3 314L397.2 308.7L392.8 303.6L390.1 301.7L387.6 300.4L385 299.8L382.5 299.6L379.9 300.1Z"/>
<path fill="#9f0000" stroke="#9f0000" stroke-width="0.7" d="M377.3 301.1L379.9 300.1L382.5 299.6L385 299.8L387.6 300.4L390.1 301.7L392.8 303.6L397.2 308.7L400.3 314L402.6 318.9L405.5 326.7L410.6 344.7L423.3 396.3L428.2 418.6L431 435.2L433.1 451.9L436.1 487.1L438.4 543.9L439.5 612.9L439.9 789.3L438.7 1016.8L436.9 1126.7L435.7 1159.9L434 1190.6L431.6 1216.1L428.4 1238.2L415.7 1303.1L410.6 1324.2L408 1331.7L405.5 1337.4L402.9 1341.8L400.3 1345L395.2 1349.4L390.1 1351.5L387.6 1351.9L382.5 1351.5L377.4 1349.2L374.8 1347.2L372.3 1344.4L369.7 1340.5L367.2 1335.1L364.3 1326.1L362 1315.6L359.9 1300.5L356.9 1264.1L354.7 1211L353.3 1149.7L352.2 1062.8L351 858.3L350.7 658.9L351.6 528.5L353.4 444.2L354.8 411L356.9 375.5L359.5 349.2L361.7 334.3L364.6 321.5L367.3 313.8L369.7 308.9L372.3 305.3L374.8 302.8ZM382.5 338.4L379.9 339.8L378.1 342L374.8 347.4L372.3 354.3L369 367.5L367.2 378.1L364.6 398.2L362 428.2L360.6 454.4L358.5 515.8L357.3 602.7L356.9 715.1L357.3 858.3L358.3 996.3L359.6 1101.1L361.7 1182.9L364.2 1234L367.2 1267.3L369.7 1285L372.3 1297.1L374.9 1305.6L377.4 1311.2L379.9 1315.1L382.5 1317.6L385 1318.9L387.6 1319.1L390.1 1318.4L392.7 1316.7L395.2 1314L397.8 1310.2L400.1 1305.6L405.5 1291.4L410.6 1273.5L415.7 1252.9L421.1 1226.4L424.6 1200.8L427.1 1172.7L428.7 1147.1L430.2 1106.2L432 1009.1L433.5 827.6L433.5 669.3L432.7 589.9L431 527.5L428.4 484.3L425.9 459.5L423.8 444.2L420.8 427.8L415.7 406.3L408 380.4L400.3 358.9L395.2 348.1L392.7 344L390.1 341L387.6 339L385 338.1Z"/>
<path fill="#8f0000" stroke="#8f0000" stroke-width="0.7" d="M380.7 339.4L382.5 338.4L385 338.1L387.6 339L390.1 341L392.7 344L395.2 348.1L400.3 358.9L408 380.4L415.7 406.3L420.8 427.8L423.3 441.5L425.9 459.2L428.1 480L430.7 520.9L432.4 577.1L433.5 653.8L433.5 814.6L432.2 996.3L430.3 1101.1L428.9 1142L427.3 1170.1L424.9 1198.2L421.5 1223.8L418.1 1241.7L410.6 1273.5L405.5 1291.4L400.1 1305.6L397.8 1310.2L395.2 1314L392.7 1316.7L390.1 1318.4L387.6 1319.1L385 1318.9L382.5 1317.6L379.9 1315.1L377.4 1311.2L376 1308.2L372.5 1297.9L369.7 1285L367.9 1272.4L364.6 1239.4L362 1193.3L360.1 1126.7L358.8 1047.4L357.7 924.7L357 768.8L357 641L357.9 546.4L359.7 474.9L362.6 421.2L364.6 398.1L367.2 378.1L369.7 364.1L372.3 354.3L374.8 347.4L376.4 344.5L377.4 342.8ZM387.6 405.7L385 407.4L382.5 411L379.9 417L377.3 426.3L374.8 439.7L372.6 457L369.7 493.7L367.7 541.3L366.6 595L366 669.1L365.9 761.2L366.8 894.1L368.1 1001.4L369.7 1080.3L372.3 1149L375.2 1190.6L377.4 1209.2L379.9 1223.8L382.5 1234L385 1240.2L387.6 1243.8L390.1 1245.2L392.7 1244.8L395.2 1242.7L397.8 1239.3L400.3 1234.4L402.9 1228.1L405.5 1220.2L408 1210.5L410.6 1198.2L413.6 1177.8L415.7 1159.4L418.1 1126.7L420.8 1063.3L423 955.4L424.3 825.1L424.6 702.4L423.9 623.1L422.6 566.9L420.5 523.4L418.4 497.9L416.7 482.5L413.5 462.1L410.6 447.8L408 438.1L402.9 423.3L397.8 413L395.2 409.4L392.7 406.9L390.1 405.6Z"/>
<path fill="#800000" stroke="#800000" stroke-width="0.7" d="M387.3 405.9L390.1 405.6L392.7 406.9L395.2 409.4L397.8 413L402.9 423.3L408 438.1L410.6 447.8L413.5 462.1L416.7 482.5L418.4 497.9L420.5 523.4L422.6 566.9L423.9 623.1L424.6 699.8L424.4 819.9L423.1 952.9L420.8 1063.3L418.1 1126.7L415.7 1159.4L413.6 1177.8L410.6 1198.2L408 1210.5L405.5 1220.2L402.9 1228.1L400.3 1234.4L397.8 1239.3L395.2 1242.7L392.7 1244.8L390.1 1245.2L387.6 1243.8L385 1240.2L382.5 1234L379.9 1223.8L377.4 1209.2L375.2 1190.6L372.3 1149L369.7 1080.3L368.2 1004L366.8 899.2L366 766.3L365.9 674.2L366.6 597.6L367.7 543.9L369.7 493.7L372.3 459.5L374.8 439.7L376.8 428.9L379.9 417L382.5 411L385 407.4Z"/>
</g></g>
<clipPath id="cc"><rect x="1712.2" y="77.0" width="58.0" height="1492.0"/></clipPath>
<g clip-path="url(#cc)"><g filter="url(#bl)">
<rect x="1702.2" y="57.0" width="78.0" height="30" fill="#800000"/><rect x="1702.2" y="1559.0" width="78.0" height="30" fill="#00008f"/>
<rect x="1702.2" y="1545.69" width="78.0" height="23.91" fill="#00008f"/>
<rect x="1702.2" y="1522.38" width="78.0" height="23.91" fill="#00009f"/>
<rect x="1702.2" y="1499.06" width="78.0" height="23.91" fill="#0000af"/>
<rect x="1702.2" y="1475.75" width="78.0" height="23.91" fill="#0000bf"/>
<rect x="1702.2" y="1452.44" width="78.0" height="23.91" fill="#0000cf"/>
<rect x="1702.2" y="1429.12" width="78.0" height="23.91" fill="#0000df"/>
<rect x="1702.2" y="1405.81" width="78.0" height="23.91" fill="#0000ef"/>
<rect x="1702.2" y="1382.50" width="78.0" height="23.91" fill="#0000ff"/>
<rect x="1702.2" y="1359.19" width="78.0" height="23.91" fill="#0010ff"/>
<rect x="1702.2" y="1335.88" width="78.0" height="23.91" fill="#0020ff"/>
<rect x="1702.2" y="1312.56" width="78.0" height="23.91" fill="#0030ff"/>
<rect x="1702.2" y="1289.25" width="78.0" height="23.91" fill="#0040ff"/>
<rect x="1702.2" y="1265.94" width="78.0" height="23.91" fill="#0050ff"/>
<rect x="1702.2" y="1242.62" width="78.0" height="23.91" fill="#0060ff"/>
<rect x="1702.2" y="1219.31" width="78.0" height="23.91" fill="#0070ff"/>
<rect x="1702.2" y="1196.00" width="78.0" height="23.91" fill="#0080ff"/>
<rect x="1702.2" y="1172.69" width="78.0" height="23.91" fill="#008fff"/>
<rect x="1702.2" y="1149.38" width="78.0" height="23.91" fill="#009fff"/>
<rect x="1702.2" y="1126.06" width="78.0" height="23.91" fill="#00afff"/>
<rect x="1702.2" y="1102.75" width="78.0" height="23.91" fill="#00bfff"/>
<rect x="1702.2" y="1079.44" width="78.0" height="23.91" fill="#00cfff"/>
<rect x="1702.2" y="1056.12" width="78.0" height="23.91" fill="#00dfff"/>
<rect x="1702.2" y="1032.81" width="78.0" height="23.91" fill="#00efff"/>
<rect x="1702.2" y="1009.50" width="78.0" height="23.91" fill="#00ffff"/>
<rect x="1702.2" y="986.19" width="78.0" height="23.91" fill="#10ffef"/>
<rect x="1702.2" y="962.88" width="78.0" height="23.91" fill="#20ffdf"/>
<rect x="1702.2" y="939.56" width="78.0" height="23.91" fill="#30ffcf"/>
<rect x="1702.2" y="916.25" width="78.0" height="23.91" fill="#40ffbf"/>
<rect x="1702.2" y="892.94" width="78.0" height="23.91" fill="#50ffaf"/>
<rect x="1702.2" y="869.62" width="78.0" height="23.91" fill="#60ff9f"/>
<rect x="1702.2" y="846.31" width="78.0" height="23.91" fill="#70ff8f"/>
<rect x="1702.2" y="823.00" width="78.0" height="23.91" fill="#80ff80"/>
<rect x="1702.2" y="799.69" width="78.0" height="23.91" fill="#8fff70"/>
<rect x="1702.2" y="776.38" width="78.0" height="23.91" fill="#9fff60"/>
<rect x="1702.2" y="753.06" width="78.0" height="23.91" fill="#afff50"/>
<rect x="1702.2" y="729.75" width="78.0" height="23.91" fill="#bfff40"/>
<rect x="1702.2" y="706.44" width="78.0" height="23.91" fill="#cfff30"/>
<rect x="1702.2" y="683.12" width="78.0" height="23.91" fill="#dfff20"/>
<rect x="1702.2" y="659.81" width="78.0" height="23.91" fill="#efff10"/>
<rect x="1702.2" y="636.50" width="78.0" height="23.91" fill="#ffff00"/>
<rect x="1702.2" y="613.19" width="78.0" height="23.91" fill="#ffef00"/>
<rect x="1702.2" y="589.88" width="78.0" height="23.91" fill="#ffdf00"/>
<rect x="1702.2" y="566.56" width="78.0" height="23.91" fill="#ffcf00"/>
<rect x="1702.2" y="543.25" width="78.0" height="23.91" fill="#ffbf00"/>
<rect x="1702.2" y="519.94" width="78.0" height="23.91" fill="#ffaf00"/>
<rect x="1702.2" y="496.62" width="78.0" height="23.91" fill="#ff9f00"/>
<rect x="1702.2" y="473.31" width="78.0" height="23.91" fill="#ff8f00"/>
<rect x="1702.2" y="450.00" width="78.0" height="23.91" fill="#ff8000"/>
<rect x="1702.2" y="426.69" width="78.0" height="23.91" fill="#ff7000"/>
<rect x="1702.2" y="403.38" width="78.0" height="23.91" fill="#ff6000"/>
<rect x="1702.2" y="380.06" width="78.0" height="23.91" fill="#ff5000"/>
<rect x="1702.2" y="356.75" width="78.0" height="23.91" fill="#ff4000"/>
<rect x="1702.2" y="333.44" width="78.0" height="23.91" fill="#ff3000"/>
<rect x="1702.2" y="310.12" width="78.0" height="23.91" fill="#ff2000"/>
<rect x="1702.2" y="286.81" width="78.0" height="23.91" fill="#ff1000"/>
<rect x="1702.2" y="263.50" width="78.0" height="23.91" fill="#ff0000"/>
<rect x="1702.2" y="240.19" width="78.0" height="23.91" fill="#ef0000"/>
<rect x="1702.2" y="216.88" width="78.0" height="23.91" fill="#df0000"/>
<rect x="1702.2" y="193.56" width="78.0" height="23.91" fill="#cf0000"/>
<rect x="1702.2" y="170.25" width="78.0" height="23.91" fill="#bf0000"/>
<rect x="1702.2" y="146.94" width="78.0" height="23.91" fill="#af0000"/>
<rect x="1702.2" y="123.62" width="78.0" height="23.91" fill="#9f0000"/>
<rect x="1702.2" y="100.31" width="78.0" height="23.91" fill="#8f0000"/>
<rect x="1702.2" y="77.00" width="78.0" height="23.91" fill="#800000"/>
</g></g>
<g stroke="#000" fill="none">
<line x1="1712.2" y1="1483.9" x2="1770.2" y2="1483.9" stroke-width="3.9"/>
<line x1="1712.2" y1="1263.9" x2="1770.2" y2="1263.9" stroke-width="3.9"/>
<line x1="1712.2" y1="1043.9" x2="1770.2" y2="1043.9" stroke-width="3.9"/>
<line x1="1712.2" y1="823.9" x2="1770.2" y2="823.9" stroke-width="3.9"/>
<line x1="1712.2" y1="603.9" x2="1770.2" y2="603.9" stroke-width="3.9"/>
<line x1="1712.2" y1="383.9" x2="1770.2" y2="383.9" stroke-width="3.9"/>
<line x1="1712.2" y1="163.9" x2="1770.2" y2="163.9" stroke-width="3.9"/>
<rect x="1712.2" y="77.0" width="58.0" height="1492.0" stroke-width="5.3"/>
<line x1="469.9" y1="1565.0" x2="469.9" y2="1544.7" stroke-width="3.9"/>
<line x1="469.9" y1="79.6" x2="469.9" y2="91.3" stroke-width="3.9"/>
<line x1="767.4" y1="1565.0" x2="767.4" y2="1544.7" stroke-width="3.9"/>
<line x1="767.4" y1="79.6" x2="767.4" y2="91.3" stroke-width="3.9"/>
<line x1="1065.0" y1="1565.0" x2="1065.0" y2="1544.7" stroke-width="3.9"/>
<line x1="1065.0" y1="79.6" x2="1065.0" y2="91.3" stroke-width="3.9"/>
<line x1="1362.5" y1="1565.0" x2="1362.5" y2="1544.7" stroke-width="3.9"/>
<line x1="1362.5" y1="79.6" x2="1362.5" y2="91.3" stroke-width="3.9"/>
<line x1="173.7" y1="226.9" x2="194.0" y2="226.9" stroke-width="3.9"/>
<line x1="1659.0" y1="226.9" x2="1647.2" y2="226.9" stroke-width="3.9"/>
<line x1="173.7" y1="375.8" x2="194.0" y2="375.8" stroke-width="3.9"/>
<line x1="1659.0" y1="375.8" x2="1647.2" y2="375.8" stroke-width="3.9"/>
<line x1="173.7" y1="524.7" x2="194.0" y2="524.7" stroke-width="3.9"/>
<line x1="1659.0" y1="524.7" x2="1647.2" y2="524.7" stroke-width="3.9"/>
<line x1="173.7" y1="673.6" x2="194.0" y2="673.6" stroke-width="3.9"/>
<line x1="1659.0" y1="673.6" x2="1647.2" y2="673.6" stroke-width="3.9"/>
<line x1="173.7" y1="822.5" x2="194.0" y2="822.5" stroke-width="3.9"/>
<line x1="1659.0" y1="822.5" x2="1647.2" y2="822.5" stroke-width="3.9"/>
<line x1="173.7" y1="971.4" x2="194.0" y2="971.4" stroke-width="3.9"/>
<line x1="1659.0" y1="971.4" x2="1647.2" y2="971.4" stroke-width="3.9"/>
<line x1="173.7" y1="1120.3" x2="194.0" y2="1120.3" stroke-width="3.9"/>
<line x1="1659.0" y1="1120.3" x2="1647.2" y2="1120.3" stroke-width="3.9"/>
<line x1="173.7" y1="1269.2" x2="194.0" y2="1269.2" stroke-width="3.9"/>
<line x1="1659.0" y1="1269.2" x2="1647.2" y2="1269.2" stroke-width="3.9"/>
<line x1="173.7" y1="1418.1" x2="194.0" y2="1418.1" stroke-width="3.9"/>
<line x1="1659.0" y1="1418.1" x2="1647.2" y2="1418.1" stroke-width="3.9"/>
<rect x="170.8" y="76.8" width="1491.0" height="1491.0" stroke-width="5.7"/>
</g>
<g text-anchor="end">
<text x="153.0" y="99.6">0</text>
<text x="153.0" y="248.5">10</text>
<text x="153.0" y="397.4">20</text>
<text x="153.0" y="546.3">30</text>
<text x="153.0" y="695.2">40</text>
<text x="153.0" y="844.1">50</text>
<text x="153.0" y="993.0">60</text>
<text x="153.0" y="1141.9">70</text>
<text x="153.0" y="1290.8">80</text>
<text x="153.0" y="1439.7">90</text>
<text x="151.0" y="1587.4">100</text>
</g>
<g text-anchor="middle">
<text x="172.1" y="1629.8">0</text>
<text x="468.4" y="1629.8">20</text>
<text x="765.9" y="1629.8">40</text>
<text x="1063.5" y="1629.8">60</text>
<text x="1361.0" y="1629.8">80</text>
<text x="1658.5" y="1629.8">100</text>
<text x="919" y="1673"><tspan class="i">x</tspan>/km</text>
<text transform="translate(51.5,818.5) rotate(-90)"><tspan class="i">y</tspan>/km</text>
<text x="1747" y="51.8">mGal</text>
</g>
<g text-anchor="start">
<text x="1786.4" y="1505.4">-6</text>
<text x="1786.4" y="1285.4">-4</text>
<text x="1786.4" y="1065.4">-2</text>
<text x="1786.5" y="845.4">0</text>
<text x="1786.5" y="625.4">2</text>
<text x="1786.5" y="405.4">4</text>
<text x="1786.5" y="185.4">6</text>
</g>
<rect x="0" y="1699" width="1842" height="1" fill="#f1f1f1"/>
</svg></body></html>
